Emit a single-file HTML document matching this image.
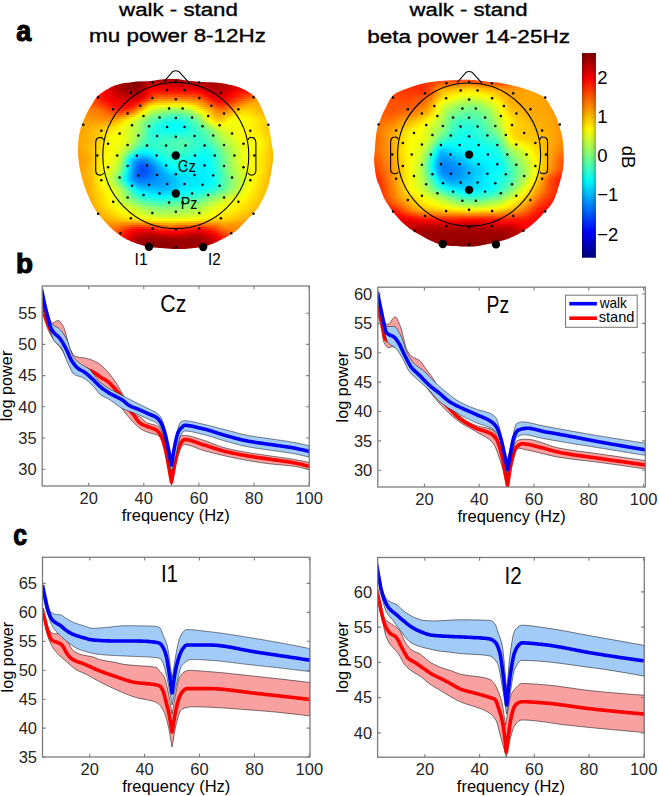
<!DOCTYPE html>
<html><head><meta charset="utf-8"><style>html,body{margin:0;padding:0;background:#fff;}svg{display:block;}</style></head><body>
<svg width="659" height="796" viewBox="0 0 659 796" style="font-family:'Liberation Sans',sans-serif">
<text x="119.14" y="16.00" font-size="18" textLength="118.74" lengthAdjust="spacingAndGlyphs" fill="#000" stroke="#000" stroke-width="0.35">walk - stand</text>
<text x="89.10" y="42.00" font-size="18" textLength="176.74" lengthAdjust="spacingAndGlyphs" fill="#000" stroke="#000" stroke-width="0.35">mu power 8-12Hz</text>
<text x="409.63" y="16.30" font-size="18" textLength="118.05" lengthAdjust="spacingAndGlyphs" fill="#000" stroke="#000" stroke-width="0.35">walk - stand</text>
<text x="367.30" y="43.20" font-size="18" textLength="202.60" lengthAdjust="spacingAndGlyphs" fill="#000" stroke="#000" stroke-width="0.35">beta power 14-25Hz</text>
<text x="16.20" y="40.90" font-size="29" textLength="14.99" lengthAdjust="spacingAndGlyphs" fill="#000" font-weight="bold" stroke="#000" stroke-width="1.1">a</text>
<text x="16.00" y="272.70" font-size="27.5" textLength="16.99" lengthAdjust="spacingAndGlyphs" fill="#000" font-weight="bold" stroke="#000" stroke-width="1.1">b</text>
<text x="13.30" y="545.00" font-size="29" textLength="13.81" lengthAdjust="spacingAndGlyphs" fill="#000" font-weight="bold" stroke="#000" stroke-width="1.1">c</text>
<clipPath id="blobL"><path d="M175.0,79.0C180.0,79.2 185.8,80.5 190.0,81.0C194.2,81.5 195.8,81.8 200.0,82.0C204.2,82.2 210.7,82.1 215.0,82.4C219.3,82.7 221.8,83.1 226.0,84.0C230.2,84.9 236.0,86.2 240.0,87.7C244.0,89.2 247.3,91.3 250.0,93.0C252.7,94.7 254.1,95.4 256.0,98.0C257.9,100.6 259.6,103.7 261.7,108.5C263.8,113.3 266.8,120.6 268.5,126.6C270.2,132.6 271.1,139.7 271.9,144.7C272.7,149.7 273.3,151.9 273.2,156.7C273.1,161.5 272.1,167.8 271.0,173.4C269.9,179.0 268.9,184.4 266.8,190.0C264.7,195.6 261.8,201.8 258.5,206.8C255.2,211.8 250.4,216.2 246.8,220.1C243.2,224.0 240.7,227.1 236.8,230.2C232.9,233.3 228.1,236.0 223.4,238.5C218.7,241.0 214.0,243.5 208.4,245.2C202.8,246.9 195.4,247.9 190.0,248.5C184.6,249.1 180.4,249.1 176.0,249.0C171.6,248.9 168.1,248.6 163.5,248.2C158.9,247.8 152.9,247.6 148.5,246.8C144.1,246.0 140.7,244.9 136.8,243.5C132.9,242.1 129.0,240.7 125.1,238.5C121.2,236.3 117.0,233.3 113.4,230.2C109.8,227.1 106.7,224.0 103.4,220.1C100.1,216.2 96.3,211.8 93.4,206.8C90.5,201.8 88.0,195.6 85.9,190.0C83.8,184.4 82.2,179.0 80.9,173.4C79.6,167.8 78.7,162.3 78.3,156.7C77.9,151.1 78.0,145.1 78.5,140.0C79.0,134.9 80.1,130.5 81.5,126.0C82.9,121.5 84.9,117.2 87.0,113.0C89.1,108.8 91.8,104.2 94.0,101.0C96.2,97.8 97.3,96.2 100.0,94.0C102.7,91.8 106.7,89.4 110.0,87.7C113.3,86.0 116.7,84.9 120.0,84.0C123.3,83.1 126.7,82.8 130.0,82.4C133.3,82.0 136.7,81.8 140.0,81.6C143.3,81.4 146.7,81.5 150.0,81.2C153.3,80.9 155.8,80.2 160.0,79.8C164.2,79.4 170.0,78.8 175.0,79.0Z"/></clipPath><linearGradient id="gL0" gradientUnits="userSpaceOnUse" x1="76.3" x2="275.2" y1="0" y2="0"><stop offset="0" stop-color="#ff3500"/><stop offset="0.106" stop-color="#fc0000"/><stop offset="0.231" stop-color="#930000"/><stop offset="0.302" stop-color="#800000"/><stop offset="0.417" stop-color="#9c0000"/><stop offset="0.598" stop-color="#990000"/><stop offset="0.734" stop-color="#970000"/><stop offset="0.885" stop-color="#ca0000"/><stop offset="0.96" stop-color="#ff0000"/><stop offset="0.995" stop-color="#ff1100"/></linearGradient>
<linearGradient id="gL1" gradientUnits="userSpaceOnUse" x1="76.3" x2="275.2" y1="0" y2="0"><stop offset="0" stop-color="#ff3b00"/><stop offset="0.101" stop-color="#ff0600"/><stop offset="0.121" stop-color="#f70000"/><stop offset="0.226" stop-color="#980000"/><stop offset="0.297" stop-color="#840000"/><stop offset="0.342" stop-color="#920000"/><stop offset="0.402" stop-color="#aa0000"/><stop offset="0.593" stop-color="#a70000"/><stop offset="0.714" stop-color="#9b0000"/><stop offset="0.885" stop-color="#d40000"/><stop offset="0.945" stop-color="#ff0400"/><stop offset="0.995" stop-color="#ff1e00"/></linearGradient>
<linearGradient id="gL2" gradientUnits="userSpaceOnUse" x1="76.3" x2="275.2" y1="0" y2="0"><stop offset="0" stop-color="#ff4100"/><stop offset="0.106" stop-color="#ff0900"/><stop offset="0.126" stop-color="#f90000"/><stop offset="0.226" stop-color="#9a0000"/><stop offset="0.297" stop-color="#870000"/><stop offset="0.332" stop-color="#940000"/><stop offset="0.387" stop-color="#b80000"/><stop offset="0.588" stop-color="#b50000"/><stop offset="0.704" stop-color="#a00000"/><stop offset="0.774" stop-color="#b60000"/><stop offset="0.84" stop-color="#cd0000"/><stop offset="0.885" stop-color="#de0000"/><stop offset="0.925" stop-color="#ff0200"/><stop offset="0.98" stop-color="#ff2600"/><stop offset="0.995" stop-color="#ff2b00"/></linearGradient>
<linearGradient id="gL3" gradientUnits="userSpaceOnUse" x1="76.3" x2="275.2" y1="0" y2="0"><stop offset="0" stop-color="#ff4700"/><stop offset="0.106" stop-color="#ff0f00"/><stop offset="0.131" stop-color="#fb0000"/><stop offset="0.226" stop-color="#9c0000"/><stop offset="0.297" stop-color="#890000"/><stop offset="0.327" stop-color="#970000"/><stop offset="0.377" stop-color="#c70000"/><stop offset="0.427" stop-color="#ca0000"/><stop offset="0.593" stop-color="#c30000"/><stop offset="0.694" stop-color="#a50000"/><stop offset="0.759" stop-color="#b70000"/><stop offset="0.83" stop-color="#d80000"/><stop offset="0.88" stop-color="#e50000"/><stop offset="0.91" stop-color="#ff0100"/><stop offset="0.965" stop-color="#ff2e00"/><stop offset="0.995" stop-color="#ff3900"/></linearGradient>
<linearGradient id="gL4" gradientUnits="userSpaceOnUse" x1="76.3" x2="275.2" y1="0" y2="0"><stop offset="0" stop-color="#ff4d00"/><stop offset="0.101" stop-color="#ff1800"/><stop offset="0.136" stop-color="#fc0000"/><stop offset="0.226" stop-color="#9e0000"/><stop offset="0.297" stop-color="#8b0000"/><stop offset="0.322" stop-color="#970000"/><stop offset="0.372" stop-color="#d80000"/><stop offset="0.402" stop-color="#df0000"/><stop offset="0.598" stop-color="#d20000"/><stop offset="0.684" stop-color="#ab0000"/><stop offset="0.744" stop-color="#b80000"/><stop offset="0.825" stop-color="#e50000"/><stop offset="0.875" stop-color="#ed0000"/><stop offset="0.9" stop-color="#ff0400"/><stop offset="0.95" stop-color="#ff3500"/><stop offset="0.995" stop-color="#ff4600"/></linearGradient>
<linearGradient id="gL5" gradientUnits="userSpaceOnUse" x1="76.3" x2="275.2" y1="0" y2="0"><stop offset="0" stop-color="#ff5300"/><stop offset="0.101" stop-color="#ff1d00"/><stop offset="0.141" stop-color="#fc0000"/><stop offset="0.201" stop-color="#b90000"/><stop offset="0.231" stop-color="#9e0000"/><stop offset="0.297" stop-color="#8f0000"/><stop offset="0.322" stop-color="#9c0000"/><stop offset="0.372" stop-color="#ed0000"/><stop offset="0.402" stop-color="#f20000"/><stop offset="0.598" stop-color="#e50000"/><stop offset="0.649" stop-color="#c60000"/><stop offset="0.684" stop-color="#b00000"/><stop offset="0.739" stop-color="#bd0000"/><stop offset="0.825" stop-color="#f30000"/><stop offset="0.87" stop-color="#f50000"/><stop offset="0.89" stop-color="#ff0700"/><stop offset="0.94" stop-color="#ff3f00"/><stop offset="0.985" stop-color="#ff5300"/><stop offset="0.995" stop-color="#ff5400"/></linearGradient>
<linearGradient id="gL6" gradientUnits="userSpaceOnUse" x1="76.3" x2="275.2" y1="0" y2="0"><stop offset="0" stop-color="#ff5900"/><stop offset="0.0905" stop-color="#ff2800"/><stop offset="0.146" stop-color="#fb0000"/><stop offset="0.226" stop-color="#a60000"/><stop offset="0.292" stop-color="#940000"/><stop offset="0.317" stop-color="#9d0000"/><stop offset="0.342" stop-color="#c70000"/><stop offset="0.372" stop-color="#ff0100"/><stop offset="0.402" stop-color="#ff0700"/><stop offset="0.593" stop-color="#fb0000"/><stop offset="0.633" stop-color="#e50000"/><stop offset="0.679" stop-color="#bb0000"/><stop offset="0.719" stop-color="#bd0000"/><stop offset="0.769" stop-color="#d80000"/><stop offset="0.82" stop-color="#ff0100"/><stop offset="0.875" stop-color="#ff0600"/><stop offset="0.935" stop-color="#ff4e00"/><stop offset="0.98" stop-color="#ff6000"/><stop offset="0.995" stop-color="#ff6100"/></linearGradient>
<linearGradient id="gL7" gradientUnits="userSpaceOnUse" x1="76.3" x2="275.2" y1="0" y2="0"><stop offset="0" stop-color="#ff5f00"/><stop offset="0.0804" stop-color="#ff3300"/><stop offset="0.146" stop-color="#fd0000"/><stop offset="0.226" stop-color="#af0000"/><stop offset="0.292" stop-color="#9d0000"/><stop offset="0.317" stop-color="#a80000"/><stop offset="0.342" stop-color="#d30000"/><stop offset="0.362" stop-color="#fc0000"/><stop offset="0.387" stop-color="#ff1900"/><stop offset="0.583" stop-color="#ff1500"/><stop offset="0.623" stop-color="#ff0500"/><stop offset="0.644" stop-color="#ef0000"/><stop offset="0.679" stop-color="#c90000"/><stop offset="0.714" stop-color="#c20000"/><stop offset="0.759" stop-color="#d90000"/><stop offset="0.804" stop-color="#ff0400"/><stop offset="0.835" stop-color="#ff1200"/><stop offset="0.875" stop-color="#ff1800"/><stop offset="0.93" stop-color="#ff5e00"/><stop offset="0.97" stop-color="#ff6e00"/><stop offset="0.995" stop-color="#ff6e00"/></linearGradient>
<linearGradient id="gL8" gradientUnits="userSpaceOnUse" x1="76.3" x2="275.2" y1="0" y2="0"><stop offset="0" stop-color="#ff6500"/><stop offset="0.0704" stop-color="#ff3f00"/><stop offset="0.146" stop-color="#ff0000"/><stop offset="0.226" stop-color="#bb0000"/><stop offset="0.292" stop-color="#a90000"/><stop offset="0.317" stop-color="#b60000"/><stop offset="0.347" stop-color="#eb0000"/><stop offset="0.357" stop-color="#ff0000"/><stop offset="0.382" stop-color="#ff2500"/><stop offset="0.417" stop-color="#ff3500"/><stop offset="0.598" stop-color="#ff2d00"/><stop offset="0.628" stop-color="#ff1a00"/><stop offset="0.649" stop-color="#ff0100"/><stop offset="0.689" stop-color="#d20000"/><stop offset="0.719" stop-color="#ca0000"/><stop offset="0.754" stop-color="#df0000"/><stop offset="0.789" stop-color="#ff0300"/><stop offset="0.83" stop-color="#ff2000"/><stop offset="0.875" stop-color="#ff3100"/><stop offset="0.925" stop-color="#ff6f00"/><stop offset="0.96" stop-color="#ff7d00"/><stop offset="0.995" stop-color="#ff7a00"/></linearGradient>
<linearGradient id="gL9" gradientUnits="userSpaceOnUse" x1="76.3" x2="275.2" y1="0" y2="0"><stop offset="0" stop-color="#ff6a00"/><stop offset="0.0654" stop-color="#ff4900"/><stop offset="0.151" stop-color="#fc0000"/><stop offset="0.226" stop-color="#c80000"/><stop offset="0.287" stop-color="#b80000"/><stop offset="0.312" stop-color="#c20000"/><stop offset="0.337" stop-color="#e70000"/><stop offset="0.347" stop-color="#fb0000"/><stop offset="0.387" stop-color="#ff3e00"/><stop offset="0.417" stop-color="#ff5200"/><stop offset="0.593" stop-color="#ff4a00"/><stop offset="0.623" stop-color="#ff3c00"/><stop offset="0.669" stop-color="#fc0000"/><stop offset="0.704" stop-color="#d80000"/><stop offset="0.729" stop-color="#d60000"/><stop offset="0.774" stop-color="#ff0100"/><stop offset="0.83" stop-color="#ff3100"/><stop offset="0.88" stop-color="#ff5200"/><stop offset="0.925" stop-color="#ff8500"/><stop offset="0.965" stop-color="#ff8b00"/><stop offset="0.995" stop-color="#ff8500"/></linearGradient>
<linearGradient id="gL10" gradientUnits="userSpaceOnUse" x1="76.3" x2="275.2" y1="0" y2="0"><stop offset="0" stop-color="#ff7000"/><stop offset="0.0654" stop-color="#ff4f00"/><stop offset="0.151" stop-color="#ff0100"/><stop offset="0.216" stop-color="#da0000"/><stop offset="0.266" stop-color="#cb0000"/><stop offset="0.302" stop-color="#ce0000"/><stop offset="0.327" stop-color="#ea0000"/><stop offset="0.337" stop-color="#fd0000"/><stop offset="0.392" stop-color="#ff5e00"/><stop offset="0.422" stop-color="#ff7300"/><stop offset="0.568" stop-color="#ff6b00"/><stop offset="0.618" stop-color="#ff5e00"/><stop offset="0.654" stop-color="#ff2d00"/><stop offset="0.684" stop-color="#ff0000"/><stop offset="0.714" stop-color="#e10000"/><stop offset="0.734" stop-color="#e40000"/><stop offset="0.764" stop-color="#ff0500"/><stop offset="0.82" stop-color="#ff3b00"/><stop offset="0.91" stop-color="#ff8d00"/><stop offset="0.935" stop-color="#ff9b00"/><stop offset="0.995" stop-color="#ff8e00"/></linearGradient>
<linearGradient id="gL11" gradientUnits="userSpaceOnUse" x1="76.3" x2="275.2" y1="0" y2="0"><stop offset="0" stop-color="#ff7600"/><stop offset="0.0654" stop-color="#ff5700"/><stop offset="0.141" stop-color="#ff1000"/><stop offset="0.166" stop-color="#fb0000"/><stop offset="0.246" stop-color="#da0000"/><stop offset="0.297" stop-color="#e10000"/><stop offset="0.322" stop-color="#fb0000"/><stop offset="0.337" stop-color="#ff1b00"/><stop offset="0.387" stop-color="#ff7800"/><stop offset="0.412" stop-color="#ff9100"/><stop offset="0.458" stop-color="#ff9600"/><stop offset="0.558" stop-color="#ff9000"/><stop offset="0.618" stop-color="#ff7b00"/><stop offset="0.659" stop-color="#ff4000"/><stop offset="0.699" stop-color="#ff0300"/><stop offset="0.724" stop-color="#ef0000"/><stop offset="0.749" stop-color="#ff0300"/><stop offset="0.809" stop-color="#ff4600"/><stop offset="0.92" stop-color="#ffa700"/><stop offset="0.96" stop-color="#ffa200"/><stop offset="0.995" stop-color="#ff9700"/></linearGradient>
<linearGradient id="gL12" gradientUnits="userSpaceOnUse" x1="76.3" x2="275.2" y1="0" y2="0"><stop offset="0" stop-color="#ff7c00"/><stop offset="0.0654" stop-color="#ff5f00"/><stop offset="0.171" stop-color="#ff0200"/><stop offset="0.251" stop-color="#e60000"/><stop offset="0.297" stop-color="#f80000"/><stop offset="0.312" stop-color="#ff0a00"/><stop offset="0.337" stop-color="#ff3d00"/><stop offset="0.372" stop-color="#ff8a00"/><stop offset="0.397" stop-color="#ffab00"/><stop offset="0.437" stop-color="#ffbc00"/><stop offset="0.533" stop-color="#ffbc00"/><stop offset="0.608" stop-color="#ff9c00"/><stop offset="0.639" stop-color="#ff7a00"/><stop offset="0.709" stop-color="#ff0f00"/><stop offset="0.729" stop-color="#ff0700"/><stop offset="0.759" stop-color="#ff2200"/><stop offset="0.83" stop-color="#ff6e00"/><stop offset="0.885" stop-color="#ff9d00"/><stop offset="0.93" stop-color="#ffb000"/><stop offset="0.995" stop-color="#ff9d00"/></linearGradient>
<linearGradient id="gL13" gradientUnits="userSpaceOnUse" x1="76.3" x2="275.2" y1="0" y2="0"><stop offset="0" stop-color="#ff8100"/><stop offset="0.0704" stop-color="#ff6500"/><stop offset="0.186" stop-color="#ff0400"/><stop offset="0.251" stop-color="#f20000"/><stop offset="0.282" stop-color="#ff0300"/><stop offset="0.312" stop-color="#ff2a00"/><stop offset="0.342" stop-color="#ff7000"/><stop offset="0.372" stop-color="#ffbb00"/><stop offset="0.402" stop-color="#ffd600"/><stop offset="0.483" stop-color="#ffe900"/><stop offset="0.548" stop-color="#ffe100"/><stop offset="0.598" stop-color="#ffc000"/><stop offset="0.654" stop-color="#ff7e00"/><stop offset="0.709" stop-color="#ff2a00"/><stop offset="0.729" stop-color="#ff2100"/><stop offset="0.759" stop-color="#ff3600"/><stop offset="0.835" stop-color="#ff8b00"/><stop offset="0.88" stop-color="#ffaa00"/><stop offset="0.94" stop-color="#ffb100"/><stop offset="0.995" stop-color="#ffa300"/></linearGradient>
<linearGradient id="gL14" gradientUnits="userSpaceOnUse" x1="76.3" x2="275.2" y1="0" y2="0"><stop offset="0" stop-color="#ff8700"/><stop offset="0.0754" stop-color="#ff6c00"/><stop offset="0.136" stop-color="#ff3e00"/><stop offset="0.196" stop-color="#ff0a00"/><stop offset="0.231" stop-color="#fe0000"/><stop offset="0.266" stop-color="#ff0900"/><stop offset="0.297" stop-color="#ff2f00"/><stop offset="0.327" stop-color="#ff6f00"/><stop offset="0.367" stop-color="#ffdb00"/><stop offset="0.387" stop-color="#fff300"/><stop offset="0.427" stop-color="#faff05"/><stop offset="0.498" stop-color="#e9ff16"/><stop offset="0.558" stop-color="#f9ff06"/><stop offset="0.578" stop-color="#fff500"/><stop offset="0.674" stop-color="#ff7c00"/><stop offset="0.709" stop-color="#ff4600"/><stop offset="0.734" stop-color="#ff3b00"/><stop offset="0.764" stop-color="#ff5200"/><stop offset="0.83" stop-color="#ff9e00"/><stop offset="0.875" stop-color="#ffb600"/><stop offset="0.995" stop-color="#ffa800"/></linearGradient>
<linearGradient id="gL15" gradientUnits="userSpaceOnUse" x1="76.3" x2="275.2" y1="0" y2="0"><stop offset="0" stop-color="#ff8c00"/><stop offset="0.0855" stop-color="#ff7200"/><stop offset="0.131" stop-color="#ff5400"/><stop offset="0.196" stop-color="#ff1800"/><stop offset="0.226" stop-color="#ff0d00"/><stop offset="0.266" stop-color="#ff1e00"/><stop offset="0.292" stop-color="#ff4400"/><stop offset="0.332" stop-color="#ffa200"/><stop offset="0.367" stop-color="#fffb00"/><stop offset="0.397" stop-color="#e4ff1b"/><stop offset="0.483" stop-color="#c1ff3e"/><stop offset="0.538" stop-color="#c8ff37"/><stop offset="0.573" stop-color="#dfff20"/><stop offset="0.598" stop-color="#fffb00"/><stop offset="0.628" stop-color="#ffcb00"/><stop offset="0.674" stop-color="#ff9700"/><stop offset="0.709" stop-color="#ff6000"/><stop offset="0.734" stop-color="#ff5500"/><stop offset="0.764" stop-color="#ff6900"/><stop offset="0.825" stop-color="#ffb100"/><stop offset="0.87" stop-color="#ffc300"/><stop offset="0.94" stop-color="#ffb100"/><stop offset="0.995" stop-color="#ffab00"/></linearGradient>
<linearGradient id="gL16" gradientUnits="userSpaceOnUse" x1="76.3" x2="275.2" y1="0" y2="0"><stop offset="0" stop-color="#ff9000"/><stop offset="0.111" stop-color="#ff7300"/><stop offset="0.196" stop-color="#ff2a00"/><stop offset="0.226" stop-color="#ff2200"/><stop offset="0.266" stop-color="#ff3900"/><stop offset="0.292" stop-color="#ff6600"/><stop offset="0.352" stop-color="#fff800"/><stop offset="0.362" stop-color="#f0ff0f"/><stop offset="0.387" stop-color="#ccff33"/><stop offset="0.478" stop-color="#9bff64"/><stop offset="0.533" stop-color="#a1ff5e"/><stop offset="0.573" stop-color="#bcff43"/><stop offset="0.613" stop-color="#fffd00"/><stop offset="0.633" stop-color="#ffdf00"/><stop offset="0.674" stop-color="#ffb000"/><stop offset="0.704" stop-color="#ff7c00"/><stop offset="0.729" stop-color="#ff6d00"/><stop offset="0.759" stop-color="#ff7d00"/><stop offset="0.825" stop-color="#ffc700"/><stop offset="0.87" stop-color="#ffd000"/><stop offset="0.93" stop-color="#ffb100"/><stop offset="0.995" stop-color="#ffaf00"/></linearGradient>
<linearGradient id="gL17" gradientUnits="userSpaceOnUse" x1="76.3" x2="275.2" y1="0" y2="0"><stop offset="0" stop-color="#ff9400"/><stop offset="0.121" stop-color="#ff7700"/><stop offset="0.191" stop-color="#ff4200"/><stop offset="0.221" stop-color="#ff3c00"/><stop offset="0.261" stop-color="#ff5900"/><stop offset="0.287" stop-color="#ff8100"/><stop offset="0.342" stop-color="#fdff02"/><stop offset="0.372" stop-color="#c2ff3d"/><stop offset="0.402" stop-color="#a5ff5a"/><stop offset="0.478" stop-color="#7aff85"/><stop offset="0.533" stop-color="#80ff7f"/><stop offset="0.573" stop-color="#9dff62"/><stop offset="0.633" stop-color="#fffe00"/><stop offset="0.704" stop-color="#ff8f00"/><stop offset="0.729" stop-color="#ff8200"/><stop offset="0.759" stop-color="#ff9600"/><stop offset="0.82" stop-color="#ffd500"/><stop offset="0.86" stop-color="#ffdd00"/><stop offset="0.9" stop-color="#ffc900"/><stop offset="0.93" stop-color="#ffb700"/><stop offset="0.995" stop-color="#ffb200"/></linearGradient>
<linearGradient id="gL18" gradientUnits="userSpaceOnUse" x1="76.3" x2="275.2" y1="0" y2="0"><stop offset="0" stop-color="#ff9800"/><stop offset="0.121" stop-color="#ff7f00"/><stop offset="0.186" stop-color="#ff5a00"/><stop offset="0.221" stop-color="#ff5d00"/><stop offset="0.261" stop-color="#ff8100"/><stop offset="0.297" stop-color="#ffbe00"/><stop offset="0.327" stop-color="#feff01"/><stop offset="0.367" stop-color="#afff50"/><stop offset="0.402" stop-color="#8aff75"/><stop offset="0.478" stop-color="#5effa1"/><stop offset="0.528" stop-color="#61ff9e"/><stop offset="0.568" stop-color="#7dff82"/><stop offset="0.623" stop-color="#cdff32"/><stop offset="0.649" stop-color="#fffd00"/><stop offset="0.694" stop-color="#ffab00"/><stop offset="0.719" stop-color="#ff9500"/><stop offset="0.744" stop-color="#ff9f00"/><stop offset="0.804" stop-color="#ffdc00"/><stop offset="0.845" stop-color="#ffe900"/><stop offset="0.885" stop-color="#ffdc00"/><stop offset="0.935" stop-color="#ffbe00"/><stop offset="0.995" stop-color="#ffb500"/></linearGradient>
<linearGradient id="gL19" gradientUnits="userSpaceOnUse" x1="76.3" x2="275.2" y1="0" y2="0"><stop offset="0" stop-color="#ff9b00"/><stop offset="0.131" stop-color="#ff8200"/><stop offset="0.181" stop-color="#ff7000"/><stop offset="0.221" stop-color="#ff7f00"/><stop offset="0.261" stop-color="#ffab00"/><stop offset="0.312" stop-color="#fcff03"/><stop offset="0.367" stop-color="#96ff69"/><stop offset="0.407" stop-color="#6eff91"/><stop offset="0.473" stop-color="#46ffb9"/><stop offset="0.523" stop-color="#46ffb9"/><stop offset="0.568" stop-color="#66ff99"/><stop offset="0.618" stop-color="#a7ff58"/><stop offset="0.654" stop-color="#faff05"/><stop offset="0.674" stop-color="#ffd700"/><stop offset="0.704" stop-color="#ffad00"/><stop offset="0.724" stop-color="#ffa500"/><stop offset="0.749" stop-color="#ffba00"/><stop offset="0.784" stop-color="#ffe200"/><stop offset="0.835" stop-color="#fff200"/><stop offset="0.88" stop-color="#ffe700"/><stop offset="0.94" stop-color="#ffc500"/><stop offset="0.995" stop-color="#ffb800"/></linearGradient>
<linearGradient id="gL20" gradientUnits="userSpaceOnUse" x1="76.3" x2="275.2" y1="0" y2="0"><stop offset="0" stop-color="#ff9d00"/><stop offset="0.176" stop-color="#ff8400"/><stop offset="0.216" stop-color="#ff9c00"/><stop offset="0.256" stop-color="#ffca00"/><stop offset="0.292" stop-color="#fffe00"/><stop offset="0.367" stop-color="#82ff7d"/><stop offset="0.412" stop-color="#54ffab"/><stop offset="0.478" stop-color="#2effd1"/><stop offset="0.523" stop-color="#31ffce"/><stop offset="0.568" stop-color="#52ffad"/><stop offset="0.613" stop-color="#8aff75"/><stop offset="0.639" stop-color="#c1ff3e"/><stop offset="0.659" stop-color="#f7ff08"/><stop offset="0.664" stop-color="#fffa00"/><stop offset="0.684" stop-color="#ffd200"/><stop offset="0.714" stop-color="#ffb500"/><stop offset="0.734" stop-color="#ffbc00"/><stop offset="0.779" stop-color="#fff300"/><stop offset="0.84" stop-color="#fffa00"/><stop offset="0.885" stop-color="#ffeb00"/><stop offset="0.95" stop-color="#ffc800"/><stop offset="0.995" stop-color="#ffbb00"/></linearGradient>
<linearGradient id="gL21" gradientUnits="userSpaceOnUse" x1="76.3" x2="275.2" y1="0" y2="0"><stop offset="0" stop-color="#ff9e00"/><stop offset="0.121" stop-color="#ff9500"/><stop offset="0.176" stop-color="#ff9700"/><stop offset="0.216" stop-color="#ffb800"/><stop offset="0.256" stop-color="#ffea00"/><stop offset="0.271" stop-color="#fcff03"/><stop offset="0.312" stop-color="#c5ff3a"/><stop offset="0.377" stop-color="#64ff9b"/><stop offset="0.427" stop-color="#37ffc8"/><stop offset="0.483" stop-color="#1bffe4"/><stop offset="0.528" stop-color="#21ffde"/><stop offset="0.578" stop-color="#4cffb3"/><stop offset="0.613" stop-color="#79ff86"/><stop offset="0.644" stop-color="#bcff43"/><stop offset="0.669" stop-color="#fffe00"/><stop offset="0.694" stop-color="#ffd700"/><stop offset="0.719" stop-color="#ffc600"/><stop offset="0.739" stop-color="#ffd300"/><stop offset="0.774" stop-color="#fdff02"/><stop offset="0.865" stop-color="#fff900"/><stop offset="0.965" stop-color="#ffc800"/><stop offset="0.995" stop-color="#ffbc00"/></linearGradient>
<linearGradient id="gL22" gradientUnits="userSpaceOnUse" x1="76.3" x2="275.2" y1="0" y2="0"><stop offset="0" stop-color="#ff9f00"/><stop offset="0.116" stop-color="#ff9f00"/><stop offset="0.176" stop-color="#ffaa00"/><stop offset="0.221" stop-color="#ffd400"/><stop offset="0.256" stop-color="#fcff03"/><stop offset="0.322" stop-color="#a5ff5a"/><stop offset="0.382" stop-color="#4dffb2"/><stop offset="0.437" stop-color="#22ffdd"/><stop offset="0.488" stop-color="#0dfff2"/><stop offset="0.528" stop-color="#13ffec"/><stop offset="0.583" stop-color="#42ffbd"/><stop offset="0.618" stop-color="#73ff8c"/><stop offset="0.654" stop-color="#c2ff3d"/><stop offset="0.679" stop-color="#faff05"/><stop offset="0.709" stop-color="#ffe100"/><stop offset="0.729" stop-color="#ffde00"/><stop offset="0.764" stop-color="#fdff02"/><stop offset="0.789" stop-color="#f3ff0c"/><stop offset="0.87" stop-color="#fff900"/><stop offset="0.995" stop-color="#ffbd00"/></linearGradient>
<linearGradient id="gL23" gradientUnits="userSpaceOnUse" x1="76.3" x2="275.2" y1="0" y2="0"><stop offset="0" stop-color="#ff9e00"/><stop offset="0.121" stop-color="#ffaa00"/><stop offset="0.181" stop-color="#ffc000"/><stop offset="0.236" stop-color="#fff700"/><stop offset="0.251" stop-color="#f4ff0b"/><stop offset="0.322" stop-color="#9eff61"/><stop offset="0.377" stop-color="#45ffba"/><stop offset="0.422" stop-color="#20ffdf"/><stop offset="0.483" stop-color="#04fffb"/><stop offset="0.528" stop-color="#09fff6"/><stop offset="0.588" stop-color="#3cffc3"/><stop offset="0.623" stop-color="#6dff92"/><stop offset="0.684" stop-color="#e5ff1a"/><stop offset="0.704" stop-color="#ffff00"/><stop offset="0.729" stop-color="#fff400"/><stop offset="0.754" stop-color="#fdff02"/><stop offset="0.784" stop-color="#f0ff0f"/><stop offset="0.865" stop-color="#fffb00"/><stop offset="0.995" stop-color="#ffbc00"/></linearGradient>
<linearGradient id="gL24" gradientUnits="userSpaceOnUse" x1="76.3" x2="275.2" y1="0" y2="0"><stop offset="0" stop-color="#ff9e00"/><stop offset="0.131" stop-color="#ffb800"/><stop offset="0.196" stop-color="#ffdb00"/><stop offset="0.236" stop-color="#fbff04"/><stop offset="0.322" stop-color="#9bff64"/><stop offset="0.372" stop-color="#40ffbf"/><stop offset="0.407" stop-color="#20ffdf"/><stop offset="0.478" stop-color="#00ffff"/><stop offset="0.528" stop-color="#04fffb"/><stop offset="0.593" stop-color="#38ffc7"/><stop offset="0.639" stop-color="#76ff89"/><stop offset="0.699" stop-color="#deff21"/><stop offset="0.724" stop-color="#f4ff0b"/><stop offset="0.794" stop-color="#f1ff0e"/><stop offset="0.86" stop-color="#fffb00"/><stop offset="0.96" stop-color="#ffcd00"/><stop offset="0.995" stop-color="#ffbc00"/></linearGradient>
<linearGradient id="gL25" gradientUnits="userSpaceOnUse" x1="76.3" x2="275.2" y1="0" y2="0"><stop offset="0" stop-color="#ff9d00"/><stop offset="0.101" stop-color="#ffb700"/><stop offset="0.196" stop-color="#ffe700"/><stop offset="0.226" stop-color="#feff01"/><stop offset="0.317" stop-color="#a2ff5d"/><stop offset="0.372" stop-color="#36ffc9"/><stop offset="0.407" stop-color="#1bffe4"/><stop offset="0.483" stop-color="#00feff"/><stop offset="0.533" stop-color="#05fffa"/><stop offset="0.603" stop-color="#3affc5"/><stop offset="0.664" stop-color="#89ff76"/><stop offset="0.709" stop-color="#d2ff2d"/><stop offset="0.739" stop-color="#e8ff17"/><stop offset="0.85" stop-color="#fffc00"/><stop offset="0.92" stop-color="#ffe300"/><stop offset="0.995" stop-color="#ffbb00"/></linearGradient>
<linearGradient id="gL26" gradientUnits="userSpaceOnUse" x1="76.3" x2="275.2" y1="0" y2="0"><stop offset="0" stop-color="#ff9d00"/><stop offset="0.0553" stop-color="#ffac00"/><stop offset="0.146" stop-color="#ffd400"/><stop offset="0.221" stop-color="#fdff02"/><stop offset="0.317" stop-color="#a2ff5d"/><stop offset="0.367" stop-color="#37ffc8"/><stop offset="0.392" stop-color="#1fffe0"/><stop offset="0.488" stop-color="#04fffb"/><stop offset="0.533" stop-color="#0afff5"/><stop offset="0.608" stop-color="#39ffc6"/><stop offset="0.674" stop-color="#82ff7d"/><stop offset="0.714" stop-color="#c4ff3b"/><stop offset="0.754" stop-color="#e3ff1c"/><stop offset="0.835" stop-color="#fffd00"/><stop offset="0.915" stop-color="#ffe700"/><stop offset="0.995" stop-color="#ffbb00"/></linearGradient>
<linearGradient id="gL27" gradientUnits="userSpaceOnUse" x1="76.3" x2="275.2" y1="0" y2="0"><stop offset="0" stop-color="#ff9e00"/><stop offset="0.0704" stop-color="#ffb400"/><stop offset="0.141" stop-color="#ffd800"/><stop offset="0.211" stop-color="#ffff00"/><stop offset="0.292" stop-color="#baff45"/><stop offset="0.322" stop-color="#94ff6b"/><stop offset="0.367" stop-color="#35ffca"/><stop offset="0.392" stop-color="#1effe1"/><stop offset="0.493" stop-color="#0efff1"/><stop offset="0.553" stop-color="#1cffe3"/><stop offset="0.623" stop-color="#3fffc0"/><stop offset="0.674" stop-color="#74ff8b"/><stop offset="0.719" stop-color="#bcff43"/><stop offset="0.764" stop-color="#e2ff1d"/><stop offset="0.835" stop-color="#fffd00"/><stop offset="0.915" stop-color="#ffea00"/><stop offset="0.995" stop-color="#ffbb00"/></linearGradient>
<linearGradient id="gL28" gradientUnits="userSpaceOnUse" x1="76.3" x2="275.2" y1="0" y2="0"><stop offset="0" stop-color="#ffa000"/><stop offset="0.0955" stop-color="#ffbf00"/><stop offset="0.186" stop-color="#fffa00"/><stop offset="0.221" stop-color="#f6ff09"/><stop offset="0.282" stop-color="#c3ff3c"/><stop offset="0.322" stop-color="#8dff72"/><stop offset="0.367" stop-color="#35ffca"/><stop offset="0.392" stop-color="#20ffdf"/><stop offset="0.498" stop-color="#1dffe2"/><stop offset="0.613" stop-color="#35ffca"/><stop offset="0.659" stop-color="#58ffa7"/><stop offset="0.729" stop-color="#bdff42"/><stop offset="0.789" stop-color="#ebff14"/><stop offset="0.84" stop-color="#fffd00"/><stop offset="0.92" stop-color="#ffec00"/><stop offset="0.995" stop-color="#ffbc00"/></linearGradient>
<linearGradient id="gL29" gradientUnits="userSpaceOnUse" x1="76.3" x2="275.2" y1="0" y2="0"><stop offset="0" stop-color="#ffa100"/><stop offset="0.0905" stop-color="#ffbc00"/><stop offset="0.146" stop-color="#ffe600"/><stop offset="0.186" stop-color="#ffff00"/><stop offset="0.241" stop-color="#e9ff16"/><stop offset="0.287" stop-color="#bcff43"/><stop offset="0.332" stop-color="#72ff8d"/><stop offset="0.367" stop-color="#35ffca"/><stop offset="0.392" stop-color="#24ffdb"/><stop offset="0.498" stop-color="#2dffd2"/><stop offset="0.578" stop-color="#31ffce"/><stop offset="0.628" stop-color="#39ffc6"/><stop offset="0.669" stop-color="#5fffa0"/><stop offset="0.734" stop-color="#baff45"/><stop offset="0.809" stop-color="#f4ff0b"/><stop offset="0.85" stop-color="#fffd00"/><stop offset="0.92" stop-color="#fff000"/><stop offset="0.995" stop-color="#ffbd00"/></linearGradient>
<linearGradient id="gL30" gradientUnits="userSpaceOnUse" x1="76.3" x2="275.2" y1="0" y2="0"><stop offset="0" stop-color="#ffa300"/><stop offset="0.0855" stop-color="#ffba00"/><stop offset="0.131" stop-color="#ffd900"/><stop offset="0.171" stop-color="#fffe00"/><stop offset="0.236" stop-color="#edff12"/><stop offset="0.277" stop-color="#c7ff38"/><stop offset="0.362" stop-color="#3affc5"/><stop offset="0.387" stop-color="#29ffd6"/><stop offset="0.493" stop-color="#3affc5"/><stop offset="0.533" stop-color="#41ffbe"/><stop offset="0.618" stop-color="#33ffcc"/><stop offset="0.654" stop-color="#49ffb6"/><stop offset="0.739" stop-color="#b7ff48"/><stop offset="0.82" stop-color="#f6ff09"/><stop offset="0.875" stop-color="#fffe00"/><stop offset="0.93" stop-color="#ffef00"/><stop offset="0.995" stop-color="#ffbe00"/></linearGradient>
<linearGradient id="gL31" gradientUnits="userSpaceOnUse" x1="76.3" x2="275.2" y1="0" y2="0"><stop offset="0" stop-color="#ffa400"/><stop offset="0.0855" stop-color="#ffba00"/><stop offset="0.131" stop-color="#ffdb00"/><stop offset="0.171" stop-color="#fdff02"/><stop offset="0.236" stop-color="#edff12"/><stop offset="0.271" stop-color="#cbff34"/><stop offset="0.347" stop-color="#4bffb4"/><stop offset="0.377" stop-color="#2effd1"/><stop offset="0.432" stop-color="#34ffcb"/><stop offset="0.528" stop-color="#4effb1"/><stop offset="0.618" stop-color="#31ffce"/><stop offset="0.654" stop-color="#43ffbc"/><stop offset="0.744" stop-color="#b4ff4b"/><stop offset="0.825" stop-color="#f5ff0a"/><stop offset="0.9" stop-color="#fffd00"/><stop offset="0.94" stop-color="#ffeb00"/><stop offset="0.995" stop-color="#ffbe00"/></linearGradient>
<linearGradient id="gL32" gradientUnits="userSpaceOnUse" x1="76.3" x2="275.2" y1="0" y2="0"><stop offset="0" stop-color="#ffa300"/><stop offset="0.0855" stop-color="#ffbc00"/><stop offset="0.136" stop-color="#ffe300"/><stop offset="0.171" stop-color="#fdff02"/><stop offset="0.236" stop-color="#ebff14"/><stop offset="0.266" stop-color="#cdff32"/><stop offset="0.337" stop-color="#52ffad"/><stop offset="0.367" stop-color="#34ffcb"/><stop offset="0.407" stop-color="#33ffcc"/><stop offset="0.528" stop-color="#53ffac"/><stop offset="0.618" stop-color="#30ffcf"/><stop offset="0.654" stop-color="#3cffc3"/><stop offset="0.704" stop-color="#78ff87"/><stop offset="0.749" stop-color="#b0ff4f"/><stop offset="0.825" stop-color="#f1ff0e"/><stop offset="0.885" stop-color="#feff01"/><stop offset="0.93" stop-color="#fff400"/><stop offset="0.995" stop-color="#ffbd00"/></linearGradient>
<linearGradient id="gL33" gradientUnits="userSpaceOnUse" x1="76.3" x2="275.2" y1="0" y2="0"><stop offset="0" stop-color="#ffa200"/><stop offset="0.0855" stop-color="#ffbf00"/><stop offset="0.171" stop-color="#feff01"/><stop offset="0.236" stop-color="#e7ff18"/><stop offset="0.266" stop-color="#c6ff39"/><stop offset="0.327" stop-color="#54ffab"/><stop offset="0.357" stop-color="#37ffc8"/><stop offset="0.397" stop-color="#33ffcc"/><stop offset="0.523" stop-color="#54ffab"/><stop offset="0.623" stop-color="#2dffd2"/><stop offset="0.659" stop-color="#37ffc8"/><stop offset="0.699" stop-color="#66ff99"/><stop offset="0.744" stop-color="#a1ff5e"/><stop offset="0.83" stop-color="#efff10"/><stop offset="0.89" stop-color="#feff01"/><stop offset="0.93" stop-color="#fff400"/><stop offset="0.995" stop-color="#ffbb00"/></linearGradient>
<linearGradient id="gL34" gradientUnits="userSpaceOnUse" x1="76.3" x2="275.2" y1="0" y2="0"><stop offset="0" stop-color="#ffa100"/><stop offset="0.0804" stop-color="#ffbf00"/><stop offset="0.171" stop-color="#feff01"/><stop offset="0.231" stop-color="#e5ff1a"/><stop offset="0.261" stop-color="#c4ff3b"/><stop offset="0.297" stop-color="#7bff84"/><stop offset="0.322" stop-color="#4affb5"/><stop offset="0.347" stop-color="#33ffcc"/><stop offset="0.402" stop-color="#34ffcb"/><stop offset="0.518" stop-color="#51ffae"/><stop offset="0.578" stop-color="#3affc5"/><stop offset="0.639" stop-color="#27ffd8"/><stop offset="0.669" stop-color="#33ffcc"/><stop offset="0.709" stop-color="#6aff95"/><stop offset="0.754" stop-color="#a2ff5d"/><stop offset="0.83" stop-color="#ecff13"/><stop offset="0.88" stop-color="#fdff02"/><stop offset="0.925" stop-color="#fff700"/><stop offset="0.995" stop-color="#ffb900"/></linearGradient>
<linearGradient id="gL35" gradientUnits="userSpaceOnUse" x1="76.3" x2="275.2" y1="0" y2="0"><stop offset="0" stop-color="#ff9f00"/><stop offset="0.0704" stop-color="#ffbc00"/><stop offset="0.166" stop-color="#fffe00"/><stop offset="0.221" stop-color="#e6ff19"/><stop offset="0.256" stop-color="#bfff40"/><stop offset="0.282" stop-color="#8cff73"/><stop offset="0.312" stop-color="#45ffba"/><stop offset="0.332" stop-color="#2bffd4"/><stop offset="0.362" stop-color="#27ffd8"/><stop offset="0.518" stop-color="#4cffb3"/><stop offset="0.588" stop-color="#30ffcf"/><stop offset="0.654" stop-color="#20ffdf"/><stop offset="0.679" stop-color="#31ffce"/><stop offset="0.739" stop-color="#8aff75"/><stop offset="0.83" stop-color="#e9ff16"/><stop offset="0.875" stop-color="#fdff02"/><stop offset="0.925" stop-color="#fff600"/><stop offset="0.995" stop-color="#ffb600"/></linearGradient>
<linearGradient id="gL36" gradientUnits="userSpaceOnUse" x1="76.3" x2="275.2" y1="0" y2="0"><stop offset="0" stop-color="#ff9c00"/><stop offset="0.0654" stop-color="#ffb900"/><stop offset="0.161" stop-color="#fffc00"/><stop offset="0.211" stop-color="#e9ff16"/><stop offset="0.246" stop-color="#beff41"/><stop offset="0.271" stop-color="#8fff70"/><stop offset="0.307" stop-color="#35ffca"/><stop offset="0.327" stop-color="#18ffe7"/><stop offset="0.352" stop-color="#14ffeb"/><stop offset="0.463" stop-color="#3effc1"/><stop offset="0.523" stop-color="#45ffba"/><stop offset="0.649" stop-color="#17ffe8"/><stop offset="0.674" stop-color="#20ffdf"/><stop offset="0.739" stop-color="#82ff7d"/><stop offset="0.83" stop-color="#e7ff18"/><stop offset="0.875" stop-color="#feff01"/><stop offset="0.925" stop-color="#fff500"/><stop offset="0.995" stop-color="#ffb500"/></linearGradient>
<linearGradient id="gL37" gradientUnits="userSpaceOnUse" x1="76.3" x2="275.2" y1="0" y2="0"><stop offset="0" stop-color="#ff9a00"/><stop offset="0.0603" stop-color="#ffb500"/><stop offset="0.146" stop-color="#fff700"/><stop offset="0.181" stop-color="#f9ff06"/><stop offset="0.216" stop-color="#deff21"/><stop offset="0.246" stop-color="#abff54"/><stop offset="0.282" stop-color="#54ffab"/><stop offset="0.307" stop-color="#17ffe8"/><stop offset="0.322" stop-color="#01fffe"/><stop offset="0.347" stop-color="#00fbff"/><stop offset="0.377" stop-color="#0ffff0"/><stop offset="0.452" stop-color="#36ffc9"/><stop offset="0.518" stop-color="#3effc1"/><stop offset="0.649" stop-color="#0ffff0"/><stop offset="0.674" stop-color="#19ffe6"/><stop offset="0.749" stop-color="#87ff78"/><stop offset="0.83" stop-color="#e6ff19"/><stop offset="0.875" stop-color="#feff01"/><stop offset="0.925" stop-color="#fff300"/><stop offset="0.995" stop-color="#ffb400"/></linearGradient>
<linearGradient id="gL38" gradientUnits="userSpaceOnUse" x1="76.3" x2="275.2" y1="0" y2="0"><stop offset="0" stop-color="#ff9800"/><stop offset="0.0603" stop-color="#ffb200"/><stop offset="0.141" stop-color="#fff600"/><stop offset="0.176" stop-color="#f9ff06"/><stop offset="0.206" stop-color="#e6ff19"/><stop offset="0.231" stop-color="#bbff44"/><stop offset="0.297" stop-color="#0afff5"/><stop offset="0.302" stop-color="#00ffff"/><stop offset="0.322" stop-color="#00e2ff"/><stop offset="0.342" stop-color="#00deff"/><stop offset="0.387" stop-color="#03fffc"/><stop offset="0.442" stop-color="#2cffd3"/><stop offset="0.508" stop-color="#38ffc7"/><stop offset="0.573" stop-color="#21ffde"/><stop offset="0.644" stop-color="#09fff6"/><stop offset="0.674" stop-color="#15ffea"/><stop offset="0.774" stop-color="#a3ff5c"/><stop offset="0.83" stop-color="#e6ff19"/><stop offset="0.875" stop-color="#feff01"/><stop offset="0.93" stop-color="#ffed00"/><stop offset="0.995" stop-color="#ffb300"/></linearGradient>
<linearGradient id="gL39" gradientUnits="userSpaceOnUse" x1="76.3" x2="275.2" y1="0" y2="0"><stop offset="0" stop-color="#ff9600"/><stop offset="0.0603" stop-color="#ffaf00"/><stop offset="0.136" stop-color="#fff500"/><stop offset="0.166" stop-color="#fbff04"/><stop offset="0.201" stop-color="#e8ff17"/><stop offset="0.221" stop-color="#c8ff37"/><stop offset="0.246" stop-color="#7eff81"/><stop offset="0.277" stop-color="#18ffe7"/><stop offset="0.287" stop-color="#00fcff"/><stop offset="0.312" stop-color="#00cdff"/><stop offset="0.332" stop-color="#00c0ff"/><stop offset="0.362" stop-color="#00d1ff"/><stop offset="0.402" stop-color="#00ffff"/><stop offset="0.442" stop-color="#23ffdc"/><stop offset="0.498" stop-color="#31ffce"/><stop offset="0.558" stop-color="#20ffdf"/><stop offset="0.633" stop-color="#03fffc"/><stop offset="0.669" stop-color="#0dfff2"/><stop offset="0.704" stop-color="#39ffc6"/><stop offset="0.809" stop-color="#d1ff2e"/><stop offset="0.85" stop-color="#f4ff0b"/><stop offset="0.89" stop-color="#fffc00"/><stop offset="0.94" stop-color="#ffe400"/><stop offset="0.995" stop-color="#ffb300"/></linearGradient>
<linearGradient id="gL40" gradientUnits="userSpaceOnUse" x1="76.3" x2="275.2" y1="0" y2="0"><stop offset="0" stop-color="#ff9400"/><stop offset="0.0603" stop-color="#ffad00"/><stop offset="0.131" stop-color="#fff400"/><stop offset="0.161" stop-color="#faff05"/><stop offset="0.201" stop-color="#e5ff1a"/><stop offset="0.221" stop-color="#c2ff3d"/><stop offset="0.241" stop-color="#7dff82"/><stop offset="0.271" stop-color="#04fffb"/><stop offset="0.302" stop-color="#00bcff"/><stop offset="0.322" stop-color="#00a5ff"/><stop offset="0.347" stop-color="#00a9ff"/><stop offset="0.382" stop-color="#00d0ff"/><stop offset="0.417" stop-color="#02fffd"/><stop offset="0.458" stop-color="#21ffde"/><stop offset="0.508" stop-color="#29ffd6"/><stop offset="0.623" stop-color="#00fcff"/><stop offset="0.659" stop-color="#03fffc"/><stop offset="0.694" stop-color="#27ffd8"/><stop offset="0.814" stop-color="#d8ff27"/><stop offset="0.855" stop-color="#f7ff08"/><stop offset="0.9" stop-color="#fff800"/><stop offset="0.95" stop-color="#ffdb00"/><stop offset="0.995" stop-color="#ffb300"/></linearGradient>
<linearGradient id="gL41" gradientUnits="userSpaceOnUse" x1="76.3" x2="275.2" y1="0" y2="0"><stop offset="0" stop-color="#ff9300"/><stop offset="0.0603" stop-color="#ffab00"/><stop offset="0.131" stop-color="#fff600"/><stop offset="0.156" stop-color="#faff05"/><stop offset="0.201" stop-color="#e1ff1e"/><stop offset="0.216" stop-color="#c8ff37"/><stop offset="0.231" stop-color="#98ff67"/><stop offset="0.261" stop-color="#12ffed"/><stop offset="0.266" stop-color="#00fbff"/><stop offset="0.282" stop-color="#00caff"/><stop offset="0.307" stop-color="#0099ff"/><stop offset="0.327" stop-color="#0089ff"/><stop offset="0.352" stop-color="#0094ff"/><stop offset="0.387" stop-color="#00c2ff"/><stop offset="0.427" stop-color="#00feff"/><stop offset="0.473" stop-color="#1fffe0"/><stop offset="0.523" stop-color="#1effe1"/><stop offset="0.603" stop-color="#00fcff"/><stop offset="0.639" stop-color="#00f7ff"/><stop offset="0.664" stop-color="#04fffb"/><stop offset="0.704" stop-color="#32ffcd"/><stop offset="0.814" stop-color="#d7ff28"/><stop offset="0.855" stop-color="#f7ff08"/><stop offset="0.895" stop-color="#fff900"/><stop offset="0.95" stop-color="#ffda00"/><stop offset="0.995" stop-color="#ffb200"/></linearGradient>
<linearGradient id="gL42" gradientUnits="userSpaceOnUse" x1="76.3" x2="275.2" y1="0" y2="0"><stop offset="0" stop-color="#ff9300"/><stop offset="0.0603" stop-color="#ffac00"/><stop offset="0.136" stop-color="#fff900"/><stop offset="0.166" stop-color="#f4ff0b"/><stop offset="0.201" stop-color="#dbff24"/><stop offset="0.216" stop-color="#bfff40"/><stop offset="0.231" stop-color="#8dff72"/><stop offset="0.261" stop-color="#04fffb"/><stop offset="0.282" stop-color="#00b9ff"/><stop offset="0.307" stop-color="#0085ff"/><stop offset="0.327" stop-color="#0074ff"/><stop offset="0.352" stop-color="#007eff"/><stop offset="0.387" stop-color="#00aeff"/><stop offset="0.432" stop-color="#00f4ff"/><stop offset="0.447" stop-color="#05fffa"/><stop offset="0.483" stop-color="#19ffe6"/><stop offset="0.543" stop-color="#11ffee"/><stop offset="0.593" stop-color="#00fbff"/><stop offset="0.633" stop-color="#00f3ff"/><stop offset="0.669" stop-color="#05fffa"/><stop offset="0.709" stop-color="#37ffc8"/><stop offset="0.804" stop-color="#c8ff37"/><stop offset="0.845" stop-color="#f0ff0f"/><stop offset="0.885" stop-color="#fffb00"/><stop offset="0.94" stop-color="#ffe100"/><stop offset="0.995" stop-color="#ffb100"/></linearGradient>
<linearGradient id="gL43" gradientUnits="userSpaceOnUse" x1="76.3" x2="275.2" y1="0" y2="0"><stop offset="0" stop-color="#ff9400"/><stop offset="0.0553" stop-color="#ffab00"/><stop offset="0.141" stop-color="#fffd00"/><stop offset="0.196" stop-color="#dbff24"/><stop offset="0.216" stop-color="#b6ff49"/><stop offset="0.231" stop-color="#84ff7b"/><stop offset="0.261" stop-color="#00fcff"/><stop offset="0.282" stop-color="#00b0ff"/><stop offset="0.302" stop-color="#007fff"/><stop offset="0.322" stop-color="#0066ff"/><stop offset="0.347" stop-color="#0069ff"/><stop offset="0.377" stop-color="#008cff"/><stop offset="0.437" stop-color="#00ebff"/><stop offset="0.458" stop-color="#02fffd"/><stop offset="0.493" stop-color="#12ffed"/><stop offset="0.583" stop-color="#00fcff"/><stop offset="0.633" stop-color="#00f1ff"/><stop offset="0.669" stop-color="#04fffb"/><stop offset="0.714" stop-color="#3bffc4"/><stop offset="0.799" stop-color="#bfff40"/><stop offset="0.845" stop-color="#eeff11"/><stop offset="0.88" stop-color="#fffd00"/><stop offset="0.94" stop-color="#ffe000"/><stop offset="0.995" stop-color="#ffb000"/></linearGradient>
<linearGradient id="gL44" gradientUnits="userSpaceOnUse" x1="76.3" x2="275.2" y1="0" y2="0"><stop offset="0" stop-color="#ff9600"/><stop offset="0.0553" stop-color="#ffad00"/><stop offset="0.141" stop-color="#fffe00"/><stop offset="0.196" stop-color="#d4ff2b"/><stop offset="0.216" stop-color="#aeff51"/><stop offset="0.236" stop-color="#67ff98"/><stop offset="0.256" stop-color="#0ffff0"/><stop offset="0.261" stop-color="#00f8ff"/><stop offset="0.287" stop-color="#009cff"/><stop offset="0.307" stop-color="#006dff"/><stop offset="0.327" stop-color="#0058ff"/><stop offset="0.352" stop-color="#0060ff"/><stop offset="0.387" stop-color="#008dff"/><stop offset="0.452" stop-color="#00f0ff"/><stop offset="0.473" stop-color="#03fffc"/><stop offset="0.513" stop-color="#08fff7"/><stop offset="0.578" stop-color="#00faff"/><stop offset="0.633" stop-color="#00efff"/><stop offset="0.669" stop-color="#02fffd"/><stop offset="0.709" stop-color="#31ffce"/><stop offset="0.789" stop-color="#afff50"/><stop offset="0.85" stop-color="#efff10"/><stop offset="0.88" stop-color="#fffc00"/><stop offset="0.935" stop-color="#ffe400"/><stop offset="0.995" stop-color="#ffae00"/></linearGradient>
<linearGradient id="gL45" gradientUnits="userSpaceOnUse" x1="76.3" x2="275.2" y1="0" y2="0"><stop offset="0" stop-color="#ff9800"/><stop offset="0.0553" stop-color="#ffaf00"/><stop offset="0.141" stop-color="#feff01"/><stop offset="0.196" stop-color="#cdff32"/><stop offset="0.216" stop-color="#a6ff59"/><stop offset="0.236" stop-color="#60ff9f"/><stop offset="0.256" stop-color="#0bfff4"/><stop offset="0.261" stop-color="#00f5ff"/><stop offset="0.287" stop-color="#0098ff"/><stop offset="0.307" stop-color="#0066ff"/><stop offset="0.327" stop-color="#0051ff"/><stop offset="0.352" stop-color="#0057ff"/><stop offset="0.392" stop-color="#0089ff"/><stop offset="0.463" stop-color="#00f0ff"/><stop offset="0.493" stop-color="#00ffff"/><stop offset="0.588" stop-color="#00f5ff"/><stop offset="0.639" stop-color="#00efff"/><stop offset="0.674" stop-color="#04fffb"/><stop offset="0.719" stop-color="#3dffc2"/><stop offset="0.784" stop-color="#a6ff59"/><stop offset="0.86" stop-color="#f6ff09"/><stop offset="0.885" stop-color="#fffa00"/><stop offset="0.935" stop-color="#ffe400"/><stop offset="0.995" stop-color="#ffab00"/></linearGradient>
<linearGradient id="gL46" gradientUnits="userSpaceOnUse" x1="76.3" x2="275.2" y1="0" y2="0"><stop offset="0" stop-color="#ff9a00"/><stop offset="0.0553" stop-color="#ffb100"/><stop offset="0.141" stop-color="#fbff04"/><stop offset="0.196" stop-color="#c3ff3c"/><stop offset="0.216" stop-color="#9dff62"/><stop offset="0.236" stop-color="#56ffa9"/><stop offset="0.256" stop-color="#04fffb"/><stop offset="0.292" stop-color="#0086ff"/><stop offset="0.312" stop-color="#005bff"/><stop offset="0.332" stop-color="#004cff"/><stop offset="0.362" stop-color="#005bff"/><stop offset="0.432" stop-color="#00baff"/><stop offset="0.473" stop-color="#00eeff"/><stop offset="0.528" stop-color="#00f6ff"/><stop offset="0.593" stop-color="#00f1ff"/><stop offset="0.644" stop-color="#00f0ff"/><stop offset="0.674" stop-color="#02fffd"/><stop offset="0.714" stop-color="#32ffcd"/><stop offset="0.784" stop-color="#a2ff5d"/><stop offset="0.87" stop-color="#fcff03"/><stop offset="0.93" stop-color="#ffe800"/><stop offset="0.995" stop-color="#ffa900"/></linearGradient>
<linearGradient id="gL47" gradientUnits="userSpaceOnUse" x1="76.3" x2="275.2" y1="0" y2="0"><stop offset="0" stop-color="#ff9d00"/><stop offset="0.0553" stop-color="#ffb100"/><stop offset="0.121" stop-color="#fff000"/><stop offset="0.141" stop-color="#f8ff07"/><stop offset="0.196" stop-color="#b9ff46"/><stop offset="0.216" stop-color="#8eff71"/><stop offset="0.236" stop-color="#4affb5"/><stop offset="0.251" stop-color="#0efff1"/><stop offset="0.256" stop-color="#00faff"/><stop offset="0.287" stop-color="#0091ff"/><stop offset="0.307" stop-color="#0063ff"/><stop offset="0.327" stop-color="#004eff"/><stop offset="0.352" stop-color="#0053ff"/><stop offset="0.402" stop-color="#0088ff"/><stop offset="0.473" stop-color="#00e0ff"/><stop offset="0.523" stop-color="#00efff"/><stop offset="0.598" stop-color="#00eeff"/><stop offset="0.649" stop-color="#00f0ff"/><stop offset="0.679" stop-color="#04fffb"/><stop offset="0.719" stop-color="#36ffc9"/><stop offset="0.784" stop-color="#9eff61"/><stop offset="0.87" stop-color="#f9ff06"/><stop offset="0.895" stop-color="#fff900"/><stop offset="0.935" stop-color="#ffe200"/><stop offset="0.995" stop-color="#ffa700"/></linearGradient>
<linearGradient id="gL48" gradientUnits="userSpaceOnUse" x1="76.3" x2="275.2" y1="0" y2="0"><stop offset="0" stop-color="#ff9f00"/><stop offset="0.0603" stop-color="#ffb300"/><stop offset="0.111" stop-color="#ffe700"/><stop offset="0.131" stop-color="#ffff00"/><stop offset="0.186" stop-color="#beff41"/><stop offset="0.211" stop-color="#8dff72"/><stop offset="0.236" stop-color="#3dffc2"/><stop offset="0.251" stop-color="#03fffc"/><stop offset="0.282" stop-color="#009bff"/><stop offset="0.302" stop-color="#006dff"/><stop offset="0.322" stop-color="#0056ff"/><stop offset="0.347" stop-color="#0055ff"/><stop offset="0.402" stop-color="#0085ff"/><stop offset="0.478" stop-color="#00d6ff"/><stop offset="0.538" stop-color="#00ebff"/><stop offset="0.654" stop-color="#00f0ff"/><stop offset="0.684" stop-color="#06fff9"/><stop offset="0.729" stop-color="#43ffbc"/><stop offset="0.789" stop-color="#a0ff5f"/><stop offset="0.87" stop-color="#f6ff09"/><stop offset="0.895" stop-color="#fff900"/><stop offset="0.94" stop-color="#ffdb00"/><stop offset="0.995" stop-color="#ffa500"/></linearGradient>
<linearGradient id="gL49" gradientUnits="userSpaceOnUse" x1="76.3" x2="275.2" y1="0" y2="0"><stop offset="0" stop-color="#ffa100"/><stop offset="0.0654" stop-color="#ffb500"/><stop offset="0.121" stop-color="#fff600"/><stop offset="0.136" stop-color="#f7ff08"/><stop offset="0.186" stop-color="#b7ff48"/><stop offset="0.211" stop-color="#81ff7e"/><stop offset="0.241" stop-color="#20ffdf"/><stop offset="0.251" stop-color="#00f9ff"/><stop offset="0.277" stop-color="#00a5ff"/><stop offset="0.302" stop-color="#0071ff"/><stop offset="0.327" stop-color="#005cff"/><stop offset="0.357" stop-color="#0063ff"/><stop offset="0.447" stop-color="#00afff"/><stop offset="0.508" stop-color="#00dcff"/><stop offset="0.578" stop-color="#00e9ff"/><stop offset="0.659" stop-color="#00f1ff"/><stop offset="0.684" stop-color="#03fffc"/><stop offset="0.729" stop-color="#40ffbf"/><stop offset="0.794" stop-color="#a2ff5d"/><stop offset="0.87" stop-color="#f3ff0c"/><stop offset="0.895" stop-color="#fffa00"/><stop offset="0.945" stop-color="#ffd300"/><stop offset="0.995" stop-color="#ffa400"/></linearGradient>
<linearGradient id="gL50" gradientUnits="userSpaceOnUse" x1="76.3" x2="275.2" y1="0" y2="0"><stop offset="0" stop-color="#ffa300"/><stop offset="0.0654" stop-color="#ffb200"/><stop offset="0.106" stop-color="#ffe300"/><stop offset="0.126" stop-color="#fffe00"/><stop offset="0.181" stop-color="#bcff43"/><stop offset="0.206" stop-color="#88ff77"/><stop offset="0.241" stop-color="#1bffe4"/><stop offset="0.246" stop-color="#09fff6"/><stop offset="0.251" stop-color="#00f6ff"/><stop offset="0.271" stop-color="#00b2ff"/><stop offset="0.292" stop-color="#0087ff"/><stop offset="0.317" stop-color="#006cff"/><stop offset="0.347" stop-color="#0069ff"/><stop offset="0.452" stop-color="#00abff"/><stop offset="0.523" stop-color="#00ddff"/><stop offset="0.669" stop-color="#00f4ff"/><stop offset="0.689" stop-color="#06fff9"/><stop offset="0.744" stop-color="#55ffaa"/><stop offset="0.804" stop-color="#abff54"/><stop offset="0.875" stop-color="#f6ff09"/><stop offset="0.895" stop-color="#fffa00"/><stop offset="0.95" stop-color="#ffcc00"/><stop offset="0.995" stop-color="#ffa200"/></linearGradient>
<linearGradient id="gL51" gradientUnits="userSpaceOnUse" x1="76.3" x2="275.2" y1="0" y2="0"><stop offset="0" stop-color="#ffa400"/><stop offset="0.0654" stop-color="#ffb000"/><stop offset="0.101" stop-color="#ffdb00"/><stop offset="0.126" stop-color="#fffe00"/><stop offset="0.176" stop-color="#c4ff3b"/><stop offset="0.201" stop-color="#95ff6a"/><stop offset="0.241" stop-color="#1fffe0"/><stop offset="0.251" stop-color="#00fbff"/><stop offset="0.271" stop-color="#00b8ff"/><stop offset="0.297" stop-color="#008cff"/><stop offset="0.327" stop-color="#0075ff"/><stop offset="0.367" stop-color="#0080ff"/><stop offset="0.463" stop-color="#00acff"/><stop offset="0.528" stop-color="#00dcff"/><stop offset="0.669" stop-color="#00f4ff"/><stop offset="0.689" stop-color="#05fffa"/><stop offset="0.744" stop-color="#53ffac"/><stop offset="0.809" stop-color="#b0ff4f"/><stop offset="0.88" stop-color="#faff05"/><stop offset="0.925" stop-color="#ffe100"/><stop offset="0.995" stop-color="#ffa200"/></linearGradient>
<linearGradient id="gL52" gradientUnits="userSpaceOnUse" x1="76.3" x2="275.2" y1="0" y2="0"><stop offset="0" stop-color="#ffa400"/><stop offset="0.0654" stop-color="#ffb000"/><stop offset="0.101" stop-color="#ffda00"/><stop offset="0.131" stop-color="#fdff02"/><stop offset="0.181" stop-color="#c2ff3d"/><stop offset="0.206" stop-color="#91ff6e"/><stop offset="0.241" stop-color="#2cffd3"/><stop offset="0.256" stop-color="#00f9ff"/><stop offset="0.277" stop-color="#00c0ff"/><stop offset="0.302" stop-color="#0097ff"/><stop offset="0.332" stop-color="#0085ff"/><stop offset="0.452" stop-color="#00a4ff"/><stop offset="0.528" stop-color="#00daff"/><stop offset="0.674" stop-color="#00f9ff"/><stop offset="0.694" stop-color="#0cfff3"/><stop offset="0.764" stop-color="#72ff8d"/><stop offset="0.85" stop-color="#deff21"/><stop offset="0.885" stop-color="#fffd00"/><stop offset="0.995" stop-color="#ffa100"/></linearGradient>
<linearGradient id="gL53" gradientUnits="userSpaceOnUse" x1="76.3" x2="275.2" y1="0" y2="0"><stop offset="0" stop-color="#ffa300"/><stop offset="0.0654" stop-color="#ffb100"/><stop offset="0.106" stop-color="#ffde00"/><stop offset="0.136" stop-color="#fdff02"/><stop offset="0.186" stop-color="#c3ff3c"/><stop offset="0.216" stop-color="#87ff78"/><stop offset="0.261" stop-color="#04fffb"/><stop offset="0.292" stop-color="#00bcff"/><stop offset="0.317" stop-color="#009dff"/><stop offset="0.347" stop-color="#0096ff"/><stop offset="0.452" stop-color="#00a5ff"/><stop offset="0.533" stop-color="#00ddff"/><stop offset="0.679" stop-color="#03fffc"/><stop offset="0.724" stop-color="#36ffc9"/><stop offset="0.814" stop-color="#b6ff49"/><stop offset="0.88" stop-color="#fffe00"/><stop offset="0.995" stop-color="#ffa100"/></linearGradient>
<linearGradient id="gL54" gradientUnits="userSpaceOnUse" x1="76.3" x2="275.2" y1="0" y2="0"><stop offset="0" stop-color="#ffa100"/><stop offset="0.0654" stop-color="#ffb100"/><stop offset="0.141" stop-color="#feff01"/><stop offset="0.186" stop-color="#cfff30"/><stop offset="0.216" stop-color="#9bff64"/><stop offset="0.271" stop-color="#07fff8"/><stop offset="0.282" stop-color="#00edff"/><stop offset="0.307" stop-color="#00bdff"/><stop offset="0.332" stop-color="#00a9ff"/><stop offset="0.402" stop-color="#00a8ff"/><stop offset="0.452" stop-color="#00aaff"/><stop offset="0.498" stop-color="#00caff"/><stop offset="0.538" stop-color="#00e2ff"/><stop offset="0.669" stop-color="#04fffb"/><stop offset="0.709" stop-color="#28ffd7"/><stop offset="0.825" stop-color="#c5ff3a"/><stop offset="0.875" stop-color="#ffff00"/><stop offset="0.995" stop-color="#ffa100"/></linearGradient>
<linearGradient id="gL55" gradientUnits="userSpaceOnUse" x1="76.3" x2="275.2" y1="0" y2="0"><stop offset="0" stop-color="#ffa000"/><stop offset="0.0654" stop-color="#ffb100"/><stop offset="0.146" stop-color="#fffe00"/><stop offset="0.191" stop-color="#d5ff2a"/><stop offset="0.221" stop-color="#a5ff5a"/><stop offset="0.287" stop-color="#00feff"/><stop offset="0.312" stop-color="#00cdff"/><stop offset="0.337" stop-color="#00bbff"/><stop offset="0.392" stop-color="#00b8ff"/><stop offset="0.442" stop-color="#00b0ff"/><stop offset="0.483" stop-color="#00c4ff"/><stop offset="0.528" stop-color="#00e6ff"/><stop offset="0.618" stop-color="#00fdff"/><stop offset="0.674" stop-color="#11ffee"/><stop offset="0.724" stop-color="#44ffbb"/><stop offset="0.814" stop-color="#bdff42"/><stop offset="0.87" stop-color="#ffff00"/><stop offset="0.945" stop-color="#ffc500"/><stop offset="0.995" stop-color="#ffa100"/></linearGradient>
<linearGradient id="gL56" gradientUnits="userSpaceOnUse" x1="76.3" x2="275.2" y1="0" y2="0"><stop offset="0" stop-color="#ff9e00"/><stop offset="0.0654" stop-color="#ffb000"/><stop offset="0.151" stop-color="#fffc00"/><stop offset="0.186" stop-color="#e4ff1b"/><stop offset="0.221" stop-color="#b7ff48"/><stop offset="0.297" stop-color="#02fffd"/><stop offset="0.322" stop-color="#00d8ff"/><stop offset="0.352" stop-color="#00cfff"/><stop offset="0.387" stop-color="#00c9ff"/><stop offset="0.432" stop-color="#00bbff"/><stop offset="0.478" stop-color="#00caff"/><stop offset="0.528" stop-color="#00efff"/><stop offset="0.603" stop-color="#03fffc"/><stop offset="0.679" stop-color="#23ffdc"/><stop offset="0.729" stop-color="#58ffa7"/><stop offset="0.814" stop-color="#c4ff3b"/><stop offset="0.865" stop-color="#ffff00"/><stop offset="0.935" stop-color="#ffc900"/><stop offset="0.995" stop-color="#ffa100"/></linearGradient>
<linearGradient id="gL57" gradientUnits="userSpaceOnUse" x1="76.3" x2="275.2" y1="0" y2="0"><stop offset="0" stop-color="#ff9c00"/><stop offset="0.0654" stop-color="#ffaf00"/><stop offset="0.161" stop-color="#ffff00"/><stop offset="0.216" stop-color="#c8ff37"/><stop offset="0.266" stop-color="#61ff9e"/><stop offset="0.307" stop-color="#05fffa"/><stop offset="0.322" stop-color="#00efff"/><stop offset="0.352" stop-color="#00e2ff"/><stop offset="0.402" stop-color="#00d2ff"/><stop offset="0.442" stop-color="#00ccff"/><stop offset="0.488" stop-color="#00e1ff"/><stop offset="0.538" stop-color="#00feff"/><stop offset="0.603" stop-color="#11ffee"/><stop offset="0.679" stop-color="#37ffc8"/><stop offset="0.734" stop-color="#71ff8e"/><stop offset="0.809" stop-color="#c9ff36"/><stop offset="0.865" stop-color="#fffb00"/><stop offset="0.935" stop-color="#ffc700"/><stop offset="0.995" stop-color="#ffa100"/></linearGradient>
<linearGradient id="gL58" gradientUnits="userSpaceOnUse" x1="76.3" x2="275.2" y1="0" y2="0"><stop offset="0" stop-color="#ff9a00"/><stop offset="0.0654" stop-color="#ffad00"/><stop offset="0.166" stop-color="#fdff02"/><stop offset="0.216" stop-color="#ccff33"/><stop offset="0.261" stop-color="#7bff84"/><stop offset="0.307" stop-color="#1cffe3"/><stop offset="0.332" stop-color="#00feff"/><stop offset="0.427" stop-color="#00ddff"/><stop offset="0.478" stop-color="#00edff"/><stop offset="0.513" stop-color="#03fffc"/><stop offset="0.628" stop-color="#2dffd2"/><stop offset="0.694" stop-color="#5cffa3"/><stop offset="0.794" stop-color="#c8ff37"/><stop offset="0.86" stop-color="#fffb00"/><stop offset="0.935" stop-color="#ffc500"/><stop offset="0.995" stop-color="#ff9f00"/></linearGradient>
<linearGradient id="gL59" gradientUnits="userSpaceOnUse" x1="76.3" x2="275.2" y1="0" y2="0"><stop offset="0" stop-color="#ff9800"/><stop offset="0.0654" stop-color="#ffab00"/><stop offset="0.166" stop-color="#feff01"/><stop offset="0.221" stop-color="#c7ff38"/><stop offset="0.266" stop-color="#7dff82"/><stop offset="0.312" stop-color="#2bffd4"/><stop offset="0.342" stop-color="#11ffee"/><stop offset="0.392" stop-color="#00fcff"/><stop offset="0.432" stop-color="#00f2ff"/><stop offset="0.478" stop-color="#04fffb"/><stop offset="0.628" stop-color="#3fffc0"/><stop offset="0.719" stop-color="#8eff71"/><stop offset="0.784" stop-color="#d1ff2e"/><stop offset="0.85" stop-color="#fffe00"/><stop offset="0.94" stop-color="#ffc100"/><stop offset="0.995" stop-color="#ff9e00"/></linearGradient>
<linearGradient id="gL60" gradientUnits="userSpaceOnUse" x1="76.3" x2="275.2" y1="0" y2="0"><stop offset="0" stop-color="#ff9600"/><stop offset="0.0704" stop-color="#ffab00"/><stop offset="0.166" stop-color="#ffff00"/><stop offset="0.231" stop-color="#bdff42"/><stop offset="0.287" stop-color="#69ff96"/><stop offset="0.322" stop-color="#36ffc9"/><stop offset="0.392" stop-color="#11ffee"/><stop offset="0.432" stop-color="#09fff6"/><stop offset="0.623" stop-color="#4fffb0"/><stop offset="0.779" stop-color="#dfff20"/><stop offset="0.845" stop-color="#fffb00"/><stop offset="0.995" stop-color="#ff9c00"/></linearGradient>
<linearGradient id="gL61" gradientUnits="userSpaceOnUse" x1="76.3" x2="275.2" y1="0" y2="0"><stop offset="0" stop-color="#ff9400"/><stop offset="0.0704" stop-color="#ffa900"/><stop offset="0.156" stop-color="#fff200"/><stop offset="0.176" stop-color="#f8ff07"/><stop offset="0.256" stop-color="#a6ff59"/><stop offset="0.322" stop-color="#4dffb2"/><stop offset="0.412" stop-color="#20ffdf"/><stop offset="0.447" stop-color="#26ffd9"/><stop offset="0.503" stop-color="#38ffc7"/><stop offset="0.623" stop-color="#63ff9c"/><stop offset="0.774" stop-color="#ebff14"/><stop offset="0.835" stop-color="#fffa00"/><stop offset="0.995" stop-color="#ff9900"/></linearGradient>
<linearGradient id="gL62" gradientUnits="userSpaceOnUse" x1="76.3" x2="275.2" y1="0" y2="0"><stop offset="0" stop-color="#ff9300"/><stop offset="0.0704" stop-color="#ffa800"/><stop offset="0.156" stop-color="#ffee00"/><stop offset="0.181" stop-color="#f9ff06"/><stop offset="0.271" stop-color="#a2ff5d"/><stop offset="0.327" stop-color="#62ff9d"/><stop offset="0.417" stop-color="#37ffc8"/><stop offset="0.503" stop-color="#4effb1"/><stop offset="0.608" stop-color="#6fff90"/><stop offset="0.654" stop-color="#94ff6b"/><stop offset="0.744" stop-color="#e1ff1e"/><stop offset="0.789" stop-color="#faff05"/><stop offset="0.83" stop-color="#fff600"/><stop offset="0.995" stop-color="#ff9600"/></linearGradient>
<linearGradient id="gL63" gradientUnits="userSpaceOnUse" x1="76.3" x2="275.2" y1="0" y2="0"><stop offset="0" stop-color="#ff9100"/><stop offset="0.0704" stop-color="#ffa700"/><stop offset="0.166" stop-color="#fff000"/><stop offset="0.186" stop-color="#fcff03"/><stop offset="0.282" stop-color="#aaff55"/><stop offset="0.332" stop-color="#78ff87"/><stop offset="0.417" stop-color="#51ffae"/><stop offset="0.508" stop-color="#64ff9b"/><stop offset="0.608" stop-color="#82ff7d"/><stop offset="0.659" stop-color="#acff53"/><stop offset="0.734" stop-color="#e7ff18"/><stop offset="0.789" stop-color="#fffd00"/><stop offset="0.865" stop-color="#ffdd00"/><stop offset="0.995" stop-color="#ff9300"/></linearGradient>
<linearGradient id="gL64" gradientUnits="userSpaceOnUse" x1="76.3" x2="275.2" y1="0" y2="0"><stop offset="0" stop-color="#ff9000"/><stop offset="0.0754" stop-color="#ffa900"/><stop offset="0.186" stop-color="#fff900"/><stop offset="0.216" stop-color="#ecff13"/><stop offset="0.282" stop-color="#beff41"/><stop offset="0.342" stop-color="#89ff76"/><stop offset="0.417" stop-color="#69ff96"/><stop offset="0.513" stop-color="#79ff86"/><stop offset="0.608" stop-color="#94ff6b"/><stop offset="0.669" stop-color="#c5ff3a"/><stop offset="0.734" stop-color="#f2ff0d"/><stop offset="0.784" stop-color="#fffa00"/><stop offset="0.86" stop-color="#ffdb00"/><stop offset="0.995" stop-color="#ff9000"/></linearGradient>
<linearGradient id="gL65" gradientUnits="userSpaceOnUse" x1="76.3" x2="275.2" y1="0" y2="0"><stop offset="0" stop-color="#ff8e00"/><stop offset="0.0754" stop-color="#ffa700"/><stop offset="0.181" stop-color="#ffec00"/><stop offset="0.206" stop-color="#fdff02"/><stop offset="0.282" stop-color="#d1ff2e"/><stop offset="0.342" stop-color="#9eff61"/><stop offset="0.417" stop-color="#80ff7f"/><stop offset="0.508" stop-color="#8bff74"/><stop offset="0.593" stop-color="#9dff62"/><stop offset="0.654" stop-color="#c5ff3a"/><stop offset="0.714" stop-color="#f2ff0d"/><stop offset="0.769" stop-color="#fffb00"/><stop offset="0.855" stop-color="#ffd800"/><stop offset="0.96" stop-color="#ff9e00"/><stop offset="0.995" stop-color="#ff8c00"/></linearGradient>
<linearGradient id="gL66" gradientUnits="userSpaceOnUse" x1="76.3" x2="275.2" y1="0" y2="0"><stop offset="0" stop-color="#ff8d00"/><stop offset="0.0804" stop-color="#ffa800"/><stop offset="0.181" stop-color="#ffe300"/><stop offset="0.221" stop-color="#fdff02"/><stop offset="0.277" stop-color="#e5ff1a"/><stop offset="0.342" stop-color="#b0ff4f"/><stop offset="0.417" stop-color="#93ff6c"/><stop offset="0.493" stop-color="#9bff64"/><stop offset="0.563" stop-color="#a3ff5c"/><stop offset="0.618" stop-color="#b8ff47"/><stop offset="0.714" stop-color="#faff05"/><stop offset="0.794" stop-color="#ffee00"/><stop offset="0.88" stop-color="#ffc100"/><stop offset="0.995" stop-color="#ff8800"/></linearGradient>
<linearGradient id="gL67" gradientUnits="userSpaceOnUse" x1="76.3" x2="275.2" y1="0" y2="0"><stop offset="0" stop-color="#ff8b00"/><stop offset="0.0855" stop-color="#ffa800"/><stop offset="0.181" stop-color="#ffda00"/><stop offset="0.236" stop-color="#fffe00"/><stop offset="0.282" stop-color="#ebff14"/><stop offset="0.352" stop-color="#bbff44"/><stop offset="0.417" stop-color="#a3ff5c"/><stop offset="0.503" stop-color="#a9ff56"/><stop offset="0.583" stop-color="#b5ff4a"/><stop offset="0.644" stop-color="#d1ff2e"/><stop offset="0.709" stop-color="#ffff00"/><stop offset="0.804" stop-color="#ffe300"/><stop offset="0.95" stop-color="#ff9800"/><stop offset="0.995" stop-color="#ff8400"/></linearGradient>
<linearGradient id="gL68" gradientUnits="userSpaceOnUse" x1="76.3" x2="275.2" y1="0" y2="0"><stop offset="0" stop-color="#ff8900"/><stop offset="0.101" stop-color="#ffab00"/><stop offset="0.186" stop-color="#ffd600"/><stop offset="0.236" stop-color="#fff500"/><stop offset="0.271" stop-color="#fcff03"/><stop offset="0.352" stop-color="#c9ff36"/><stop offset="0.422" stop-color="#b2ff4d"/><stop offset="0.508" stop-color="#b7ff48"/><stop offset="0.608" stop-color="#c9ff36"/><stop offset="0.679" stop-color="#f5ff0a"/><stop offset="0.704" stop-color="#fffa00"/><stop offset="0.799" stop-color="#ffdd00"/><stop offset="0.96" stop-color="#ff8f00"/><stop offset="0.995" stop-color="#ff8000"/></linearGradient>
<linearGradient id="gL69" gradientUnits="userSpaceOnUse" x1="76.3" x2="275.2" y1="0" y2="0"><stop offset="0" stop-color="#ff8800"/><stop offset="0.126" stop-color="#ffb000"/><stop offset="0.191" stop-color="#ffd000"/><stop offset="0.236" stop-color="#ffea00"/><stop offset="0.292" stop-color="#fcff03"/><stop offset="0.352" stop-color="#daff25"/><stop offset="0.427" stop-color="#c5ff3a"/><stop offset="0.508" stop-color="#c8ff37"/><stop offset="0.623" stop-color="#ddff22"/><stop offset="0.684" stop-color="#fffa00"/><stop offset="0.734" stop-color="#ffea00"/><stop offset="0.799" stop-color="#ffd200"/><stop offset="0.995" stop-color="#ff7c00"/></linearGradient>
<linearGradient id="gL70" gradientUnits="userSpaceOnUse" x1="76.3" x2="275.2" y1="0" y2="0"><stop offset="0" stop-color="#ff8500"/><stop offset="0.176" stop-color="#ffba00"/><stop offset="0.231" stop-color="#ffda00"/><stop offset="0.307" stop-color="#fff800"/><stop offset="0.327" stop-color="#faff05"/><stop offset="0.392" stop-color="#e5ff1a"/><stop offset="0.432" stop-color="#deff21"/><stop offset="0.513" stop-color="#deff21"/><stop offset="0.628" stop-color="#f4ff0b"/><stop offset="0.654" stop-color="#fffa00"/><stop offset="0.709" stop-color="#ffe000"/><stop offset="0.774" stop-color="#ffd300"/><stop offset="0.995" stop-color="#ff7800"/></linearGradient>
<linearGradient id="gL71" gradientUnits="userSpaceOnUse" x1="76.3" x2="275.2" y1="0" y2="0"><stop offset="0" stop-color="#ff8300"/><stop offset="0.191" stop-color="#ffb500"/><stop offset="0.226" stop-color="#ffc600"/><stop offset="0.297" stop-color="#ffd400"/><stop offset="0.332" stop-color="#ffe400"/><stop offset="0.382" stop-color="#fff700"/><stop offset="0.437" stop-color="#fffd00"/><stop offset="0.533" stop-color="#fffb00"/><stop offset="0.613" stop-color="#ffec00"/><stop offset="0.684" stop-color="#ffd100"/><stop offset="0.709" stop-color="#ffcb00"/><stop offset="0.749" stop-color="#ffcd00"/><stop offset="0.995" stop-color="#ff7400"/></linearGradient>
<linearGradient id="gL72" gradientUnits="userSpaceOnUse" x1="76.3" x2="275.2" y1="0" y2="0"><stop offset="0" stop-color="#ff8100"/><stop offset="0.161" stop-color="#ff9e00"/><stop offset="0.226" stop-color="#ffac00"/><stop offset="0.297" stop-color="#ffac00"/><stop offset="0.362" stop-color="#ffc400"/><stop offset="0.478" stop-color="#ffd800"/><stop offset="0.583" stop-color="#ffc600"/><stop offset="0.649" stop-color="#ffb600"/><stop offset="0.704" stop-color="#ffad00"/><stop offset="0.744" stop-color="#ffbc00"/><stop offset="0.804" stop-color="#ffa900"/><stop offset="0.885" stop-color="#ff9600"/><stop offset="0.995" stop-color="#ff6f00"/></linearGradient>
<linearGradient id="gL73" gradientUnits="userSpaceOnUse" x1="76.3" x2="275.2" y1="0" y2="0"><stop offset="0" stop-color="#ff7e00"/><stop offset="0.151" stop-color="#ff9300"/><stop offset="0.201" stop-color="#ff9400"/><stop offset="0.236" stop-color="#ff8a00"/><stop offset="0.322" stop-color="#ff7d00"/><stop offset="0.392" stop-color="#ff9600"/><stop offset="0.432" stop-color="#ff9e00"/><stop offset="0.473" stop-color="#ffac00"/><stop offset="0.528" stop-color="#ff9800"/><stop offset="0.573" stop-color="#ff9900"/><stop offset="0.623" stop-color="#ff8000"/><stop offset="0.674" stop-color="#ff8b00"/><stop offset="0.699" stop-color="#ff8800"/><stop offset="0.739" stop-color="#ffa800"/><stop offset="0.769" stop-color="#ffa100"/><stop offset="0.794" stop-color="#ff9b00"/><stop offset="0.84" stop-color="#ff9e00"/><stop offset="0.995" stop-color="#ff6b00"/></linearGradient>
<linearGradient id="gL74" gradientUnits="userSpaceOnUse" x1="76.3" x2="275.2" y1="0" y2="0"><stop offset="0" stop-color="#ff7b00"/><stop offset="0.141" stop-color="#ff8b00"/><stop offset="0.216" stop-color="#ff7c00"/><stop offset="0.256" stop-color="#ff5f00"/><stop offset="0.322" stop-color="#ff4700"/><stop offset="0.407" stop-color="#ff6400"/><stop offset="0.427" stop-color="#ff6900"/><stop offset="0.463" stop-color="#ff7e00"/><stop offset="0.498" stop-color="#ff7500"/><stop offset="0.523" stop-color="#ff6400"/><stop offset="0.563" stop-color="#ff6a00"/><stop offset="0.623" stop-color="#ff4700"/><stop offset="0.669" stop-color="#ff6300"/><stop offset="0.699" stop-color="#ff6600"/><stop offset="0.734" stop-color="#ff9000"/><stop offset="0.764" stop-color="#ff9500"/><stop offset="0.789" stop-color="#ff8d00"/><stop offset="0.83" stop-color="#ff9900"/><stop offset="0.995" stop-color="#ff6700"/></linearGradient>
<linearGradient id="gL75" gradientUnits="userSpaceOnUse" x1="76.3" x2="275.2" y1="0" y2="0"><stop offset="0" stop-color="#ff7800"/><stop offset="0.141" stop-color="#ff8200"/><stop offset="0.206" stop-color="#ff7100"/><stop offset="0.266" stop-color="#ff3700"/><stop offset="0.327" stop-color="#ff1c00"/><stop offset="0.387" stop-color="#ff3000"/><stop offset="0.463" stop-color="#ff5200"/><stop offset="0.503" stop-color="#ff4900"/><stop offset="0.538" stop-color="#ff3e00"/><stop offset="0.583" stop-color="#ff3100"/><stop offset="0.623" stop-color="#ff1c00"/><stop offset="0.674" stop-color="#ff4000"/><stop offset="0.699" stop-color="#ff4b00"/><stop offset="0.734" stop-color="#ff7c00"/><stop offset="0.769" stop-color="#ff8900"/><stop offset="0.799" stop-color="#ff8e00"/><stop offset="0.84" stop-color="#ff9100"/><stop offset="0.995" stop-color="#ff6200"/></linearGradient>
<linearGradient id="gL76" gradientUnits="userSpaceOnUse" x1="76.3" x2="275.2" y1="0" y2="0"><stop offset="0" stop-color="#ff7500"/><stop offset="0.136" stop-color="#ff7a00"/><stop offset="0.196" stop-color="#ff6d00"/><stop offset="0.271" stop-color="#ff1500"/><stop offset="0.312" stop-color="#fc0000"/><stop offset="0.367" stop-color="#f70000"/><stop offset="0.387" stop-color="#ff0500"/><stop offset="0.427" stop-color="#ff2200"/><stop offset="0.488" stop-color="#ff2800"/><stop offset="0.588" stop-color="#ff0500"/><stop offset="0.623" stop-color="#f90000"/><stop offset="0.639" stop-color="#ff0400"/><stop offset="0.699" stop-color="#ff3400"/><stop offset="0.729" stop-color="#ff6200"/><stop offset="0.779" stop-color="#ff8200"/><stop offset="0.825" stop-color="#ff8c00"/><stop offset="0.995" stop-color="#ff5e00"/></linearGradient>
<linearGradient id="gL77" gradientUnits="userSpaceOnUse" x1="76.3" x2="275.2" y1="0" y2="0"><stop offset="0" stop-color="#ff7100"/><stop offset="0.136" stop-color="#ff7300"/><stop offset="0.196" stop-color="#ff6000"/><stop offset="0.271" stop-color="#ff0000"/><stop offset="0.332" stop-color="#dc0000"/><stop offset="0.372" stop-color="#d70000"/><stop offset="0.432" stop-color="#fe0000"/><stop offset="0.508" stop-color="#ff0200"/><stop offset="0.563" stop-color="#ec0000"/><stop offset="0.618" stop-color="#dc0000"/><stop offset="0.659" stop-color="#f80000"/><stop offset="0.679" stop-color="#ff0800"/><stop offset="0.704" stop-color="#ff2400"/><stop offset="0.734" stop-color="#ff5000"/><stop offset="0.794" stop-color="#ff7d00"/><stop offset="0.835" stop-color="#ff8200"/><stop offset="0.995" stop-color="#ff5900"/></linearGradient>
<linearGradient id="gL78" gradientUnits="userSpaceOnUse" x1="76.3" x2="275.2" y1="0" y2="0"><stop offset="0" stop-color="#ff6e00"/><stop offset="0.136" stop-color="#ff6b00"/><stop offset="0.191" stop-color="#ff5700"/><stop offset="0.241" stop-color="#ff1700"/><stop offset="0.261" stop-color="#fb0000"/><stop offset="0.302" stop-color="#d80000"/><stop offset="0.362" stop-color="#bd0000"/><stop offset="0.402" stop-color="#cd0000"/><stop offset="0.458" stop-color="#e20000"/><stop offset="0.528" stop-color="#dd0000"/><stop offset="0.598" stop-color="#c40000"/><stop offset="0.633" stop-color="#cc0000"/><stop offset="0.694" stop-color="#fe0000"/><stop offset="0.739" stop-color="#ff3e00"/><stop offset="0.804" stop-color="#ff7400"/><stop offset="0.86" stop-color="#ff7600"/><stop offset="0.995" stop-color="#ff5500"/></linearGradient>
<linearGradient id="gL79" gradientUnits="userSpaceOnUse" x1="76.3" x2="275.2" y1="0" y2="0"><stop offset="0" stop-color="#ff6a00"/><stop offset="0.131" stop-color="#ff6400"/><stop offset="0.186" stop-color="#ff4f00"/><stop offset="0.231" stop-color="#ff1a00"/><stop offset="0.251" stop-color="#fe0000"/><stop offset="0.297" stop-color="#cc0000"/><stop offset="0.362" stop-color="#ab0000"/><stop offset="0.483" stop-color="#c80000"/><stop offset="0.548" stop-color="#bc0000"/><stop offset="0.598" stop-color="#b00000"/><stop offset="0.644" stop-color="#c10000"/><stop offset="0.699" stop-color="#f20000"/><stop offset="0.709" stop-color="#ff0200"/><stop offset="0.744" stop-color="#ff2f00"/><stop offset="0.804" stop-color="#ff6500"/><stop offset="0.855" stop-color="#ff6d00"/><stop offset="0.995" stop-color="#ff5000"/></linearGradient>
<linearGradient id="gL80" gradientUnits="userSpaceOnUse" x1="76.3" x2="275.2" y1="0" y2="0"><stop offset="0" stop-color="#ff6700"/><stop offset="0.126" stop-color="#ff5e00"/><stop offset="0.186" stop-color="#ff4300"/><stop offset="0.246" stop-color="#fd0000"/><stop offset="0.302" stop-color="#bb0000"/><stop offset="0.352" stop-color="#a00000"/><stop offset="0.417" stop-color="#a40000"/><stop offset="0.503" stop-color="#b30000"/><stop offset="0.588" stop-color="#a10000"/><stop offset="0.644" stop-color="#b40000"/><stop offset="0.694" stop-color="#de0000"/><stop offset="0.719" stop-color="#ff0200"/><stop offset="0.804" stop-color="#ff5700"/><stop offset="0.85" stop-color="#ff6400"/><stop offset="0.995" stop-color="#ff4b00"/></linearGradient>
<linearGradient id="gL81" gradientUnits="userSpaceOnUse" x1="76.3" x2="275.2" y1="0" y2="0"><stop offset="0" stop-color="#ff6300"/><stop offset="0.126" stop-color="#ff5600"/><stop offset="0.186" stop-color="#ff3900"/><stop offset="0.241" stop-color="#fc0000"/><stop offset="0.312" stop-color="#a70000"/><stop offset="0.352" stop-color="#990000"/><stop offset="0.437" stop-color="#9b0000"/><stop offset="0.513" stop-color="#a20000"/><stop offset="0.588" stop-color="#980000"/><stop offset="0.649" stop-color="#ae0000"/><stop offset="0.694" stop-color="#d30000"/><stop offset="0.729" stop-color="#ff0100"/><stop offset="0.809" stop-color="#ff4c00"/><stop offset="0.86" stop-color="#ff5a00"/><stop offset="0.995" stop-color="#ff4600"/></linearGradient>
<linearGradient id="gL82" gradientUnits="userSpaceOnUse" x1="76.3" x2="275.2" y1="0" y2="0"><stop offset="0" stop-color="#ff5f00"/><stop offset="0.121" stop-color="#ff5000"/><stop offset="0.181" stop-color="#ff3400"/><stop offset="0.236" stop-color="#fb0000"/><stop offset="0.312" stop-color="#a20000"/><stop offset="0.347" stop-color="#970000"/><stop offset="0.437" stop-color="#910000"/><stop offset="0.518" stop-color="#9b0000"/><stop offset="0.593" stop-color="#960000"/><stop offset="0.659" stop-color="#ad0000"/><stop offset="0.704" stop-color="#d60000"/><stop offset="0.739" stop-color="#fe0000"/><stop offset="0.814" stop-color="#ff4200"/><stop offset="0.87" stop-color="#ff5100"/><stop offset="0.995" stop-color="#ff4100"/></linearGradient>
<linearGradient id="gL83" gradientUnits="userSpaceOnUse" x1="76.3" x2="275.2" y1="0" y2="0"><stop offset="0" stop-color="#ff5b00"/><stop offset="0.121" stop-color="#ff4900"/><stop offset="0.186" stop-color="#ff2700"/><stop offset="0.226" stop-color="#ff0000"/><stop offset="0.312" stop-color="#a00000"/><stop offset="0.347" stop-color="#980000"/><stop offset="0.392" stop-color="#930000"/><stop offset="0.437" stop-color="#8d0000"/><stop offset="0.528" stop-color="#9a0000"/><stop offset="0.613" stop-color="#9a0000"/><stop offset="0.674" stop-color="#b30000"/><stop offset="0.754" stop-color="#ff0300"/><stop offset="0.82" stop-color="#ff3900"/><stop offset="0.88" stop-color="#ff4800"/><stop offset="0.995" stop-color="#ff3c00"/></linearGradient>
<linearGradient id="gL84" gradientUnits="userSpaceOnUse" x1="76.3" x2="275.2" y1="0" y2="0"><stop offset="0" stop-color="#ff5700"/><stop offset="0.121" stop-color="#ff4200"/><stop offset="0.186" stop-color="#ff1f00"/><stop offset="0.221" stop-color="#fe0000"/><stop offset="0.307" stop-color="#a40000"/><stop offset="0.342" stop-color="#9b0000"/><stop offset="0.382" stop-color="#9a0000"/><stop offset="0.427" stop-color="#8b0000"/><stop offset="0.538" stop-color="#9c0000"/><stop offset="0.633" stop-color="#a00000"/><stop offset="0.684" stop-color="#b80000"/><stop offset="0.764" stop-color="#ff0300"/><stop offset="0.83" stop-color="#ff3300"/><stop offset="0.9" stop-color="#ff4100"/><stop offset="0.995" stop-color="#ff3700"/></linearGradient>
<linearGradient id="gL85" gradientUnits="userSpaceOnUse" x1="76.3" x2="275.2" y1="0" y2="0"><stop offset="0" stop-color="#ff5300"/><stop offset="0.116" stop-color="#ff3e00"/><stop offset="0.186" stop-color="#ff1800"/><stop offset="0.216" stop-color="#fc0000"/><stop offset="0.302" stop-color="#a90000"/><stop offset="0.337" stop-color="#9e0000"/><stop offset="0.377" stop-color="#a00000"/><stop offset="0.427" stop-color="#8d0000"/><stop offset="0.538" stop-color="#a00000"/><stop offset="0.644" stop-color="#a30000"/><stop offset="0.694" stop-color="#bc0000"/><stop offset="0.774" stop-color="#ff0300"/><stop offset="0.84" stop-color="#ff2e00"/><stop offset="0.915" stop-color="#ff3a00"/><stop offset="0.995" stop-color="#ff3200"/></linearGradient>
<linearGradient id="gL86" gradientUnits="userSpaceOnUse" x1="76.3" x2="275.2" y1="0" y2="0"><stop offset="0" stop-color="#ff5000"/><stop offset="0.116" stop-color="#ff3700"/><stop offset="0.191" stop-color="#ff0d00"/><stop offset="0.211" stop-color="#fb0000"/><stop offset="0.302" stop-color="#ab0000"/><stop offset="0.342" stop-color="#a10000"/><stop offset="0.382" stop-color="#9f0000"/><stop offset="0.432" stop-color="#8f0000"/><stop offset="0.543" stop-color="#a40000"/><stop offset="0.654" stop-color="#a60000"/><stop offset="0.709" stop-color="#c40000"/><stop offset="0.784" stop-color="#ff0300"/><stop offset="0.85" stop-color="#ff2800"/><stop offset="0.935" stop-color="#ff3200"/><stop offset="0.995" stop-color="#ff2d00"/></linearGradient>
<g clip-path="url(#blobL)"><rect x="76.3" y="77.0" width="198.9" height="2.60" fill="url(#gL0)"/><rect x="76.3" y="79.0" width="198.9" height="2.60" fill="url(#gL1)"/><rect x="76.3" y="81.0" width="198.9" height="2.60" fill="url(#gL2)"/><rect x="76.3" y="83.0" width="198.9" height="2.60" fill="url(#gL3)"/><rect x="76.3" y="85.0" width="198.9" height="2.60" fill="url(#gL4)"/><rect x="76.3" y="87.0" width="198.9" height="2.60" fill="url(#gL5)"/><rect x="76.3" y="89.0" width="198.9" height="2.60" fill="url(#gL6)"/><rect x="76.3" y="91.0" width="198.9" height="2.60" fill="url(#gL7)"/><rect x="76.3" y="93.0" width="198.9" height="2.60" fill="url(#gL8)"/><rect x="76.3" y="95.0" width="198.9" height="2.60" fill="url(#gL9)"/><rect x="76.3" y="97.0" width="198.9" height="2.60" fill="url(#gL10)"/><rect x="76.3" y="99.0" width="198.9" height="2.60" fill="url(#gL11)"/><rect x="76.3" y="101.0" width="198.9" height="2.60" fill="url(#gL12)"/><rect x="76.3" y="103.0" width="198.9" height="2.60" fill="url(#gL13)"/><rect x="76.3" y="105.0" width="198.9" height="2.60" fill="url(#gL14)"/><rect x="76.3" y="107.0" width="198.9" height="2.60" fill="url(#gL15)"/><rect x="76.3" y="109.0" width="198.9" height="2.60" fill="url(#gL16)"/><rect x="76.3" y="111.0" width="198.9" height="2.60" fill="url(#gL17)"/><rect x="76.3" y="113.0" width="198.9" height="2.60" fill="url(#gL18)"/><rect x="76.3" y="115.0" width="198.9" height="2.60" fill="url(#gL19)"/><rect x="76.3" y="117.0" width="198.9" height="2.60" fill="url(#gL20)"/><rect x="76.3" y="119.0" width="198.9" height="2.60" fill="url(#gL21)"/><rect x="76.3" y="121.0" width="198.9" height="2.60" fill="url(#gL22)"/><rect x="76.3" y="123.0" width="198.9" height="2.60" fill="url(#gL23)"/><rect x="76.3" y="125.0" width="198.9" height="2.60" fill="url(#gL24)"/><rect x="76.3" y="127.0" width="198.9" height="2.60" fill="url(#gL25)"/><rect x="76.3" y="129.0" width="198.9" height="2.60" fill="url(#gL26)"/><rect x="76.3" y="131.0" width="198.9" height="2.60" fill="url(#gL27)"/><rect x="76.3" y="133.0" width="198.9" height="2.60" fill="url(#gL28)"/><rect x="76.3" y="135.0" width="198.9" height="2.60" fill="url(#gL29)"/><rect x="76.3" y="137.0" width="198.9" height="2.60" fill="url(#gL30)"/><rect x="76.3" y="139.0" width="198.9" height="2.60" fill="url(#gL31)"/><rect x="76.3" y="141.0" width="198.9" height="2.60" fill="url(#gL32)"/><rect x="76.3" y="143.0" width="198.9" height="2.60" fill="url(#gL33)"/><rect x="76.3" y="145.0" width="198.9" height="2.60" fill="url(#gL34)"/><rect x="76.3" y="147.0" width="198.9" height="2.60" fill="url(#gL35)"/><rect x="76.3" y="149.0" width="198.9" height="2.60" fill="url(#gL36)"/><rect x="76.3" y="151.0" width="198.9" height="2.60" fill="url(#gL37)"/><rect x="76.3" y="153.0" width="198.9" height="2.60" fill="url(#gL38)"/><rect x="76.3" y="155.0" width="198.9" height="2.60" fill="url(#gL39)"/><rect x="76.3" y="157.0" width="198.9" height="2.60" fill="url(#gL40)"/><rect x="76.3" y="159.0" width="198.9" height="2.60" fill="url(#gL41)"/><rect x="76.3" y="161.0" width="198.9" height="2.60" fill="url(#gL42)"/><rect x="76.3" y="163.0" width="198.9" height="2.60" fill="url(#gL43)"/><rect x="76.3" y="165.0" width="198.9" height="2.60" fill="url(#gL44)"/><rect x="76.3" y="167.0" width="198.9" height="2.60" fill="url(#gL45)"/><rect x="76.3" y="169.0" width="198.9" height="2.60" fill="url(#gL46)"/><rect x="76.3" y="171.0" width="198.9" height="2.60" fill="url(#gL47)"/><rect x="76.3" y="173.0" width="198.9" height="2.60" fill="url(#gL48)"/><rect x="76.3" y="175.0" width="198.9" height="2.60" fill="url(#gL49)"/><rect x="76.3" y="177.0" width="198.9" height="2.60" fill="url(#gL50)"/><rect x="76.3" y="179.0" width="198.9" height="2.60" fill="url(#gL51)"/><rect x="76.3" y="181.0" width="198.9" height="2.60" fill="url(#gL52)"/><rect x="76.3" y="183.0" width="198.9" height="2.60" fill="url(#gL53)"/><rect x="76.3" y="185.0" width="198.9" height="2.60" fill="url(#gL54)"/><rect x="76.3" y="187.0" width="198.9" height="2.60" fill="url(#gL55)"/><rect x="76.3" y="189.0" width="198.9" height="2.60" fill="url(#gL56)"/><rect x="76.3" y="191.0" width="198.9" height="2.60" fill="url(#gL57)"/><rect x="76.3" y="193.0" width="198.9" height="2.60" fill="url(#gL58)"/><rect x="76.3" y="195.0" width="198.9" height="2.60" fill="url(#gL59)"/><rect x="76.3" y="197.0" width="198.9" height="2.60" fill="url(#gL60)"/><rect x="76.3" y="199.0" width="198.9" height="2.60" fill="url(#gL61)"/><rect x="76.3" y="201.0" width="198.9" height="2.60" fill="url(#gL62)"/><rect x="76.3" y="203.0" width="198.9" height="2.60" fill="url(#gL63)"/><rect x="76.3" y="205.0" width="198.9" height="2.60" fill="url(#gL64)"/><rect x="76.3" y="207.0" width="198.9" height="2.60" fill="url(#gL65)"/><rect x="76.3" y="209.0" width="198.9" height="2.60" fill="url(#gL66)"/><rect x="76.3" y="211.0" width="198.9" height="2.60" fill="url(#gL67)"/><rect x="76.3" y="213.0" width="198.9" height="2.60" fill="url(#gL68)"/><rect x="76.3" y="215.0" width="198.9" height="2.60" fill="url(#gL69)"/><rect x="76.3" y="217.0" width="198.9" height="2.60" fill="url(#gL70)"/><rect x="76.3" y="219.0" width="198.9" height="2.60" fill="url(#gL71)"/><rect x="76.3" y="221.0" width="198.9" height="2.60" fill="url(#gL72)"/><rect x="76.3" y="223.0" width="198.9" height="2.60" fill="url(#gL73)"/><rect x="76.3" y="225.0" width="198.9" height="2.60" fill="url(#gL74)"/><rect x="76.3" y="227.0" width="198.9" height="2.60" fill="url(#gL75)"/><rect x="76.3" y="229.0" width="198.9" height="2.60" fill="url(#gL76)"/><rect x="76.3" y="231.0" width="198.9" height="2.60" fill="url(#gL77)"/><rect x="76.3" y="233.0" width="198.9" height="2.60" fill="url(#gL78)"/><rect x="76.3" y="235.0" width="198.9" height="2.60" fill="url(#gL79)"/><rect x="76.3" y="237.0" width="198.9" height="2.60" fill="url(#gL80)"/><rect x="76.3" y="239.0" width="198.9" height="2.60" fill="url(#gL81)"/><rect x="76.3" y="241.0" width="198.9" height="2.60" fill="url(#gL82)"/><rect x="76.3" y="243.0" width="198.9" height="2.60" fill="url(#gL83)"/><rect x="76.3" y="245.0" width="198.9" height="2.60" fill="url(#gL84)"/><rect x="76.3" y="247.0" width="198.9" height="2.60" fill="url(#gL85)"/><rect x="76.3" y="249.0" width="198.9" height="2.60" fill="url(#gL86)"/></g>
<g fill="none" stroke="#000" stroke-width="1.1"><circle cx="175.80" cy="155.50" r="73.00"/><path d="M163.4,82.4 L172.8,71.4 Q175.8,70.0 178.8,71.4 L189.2,82.8"/><path d="M103.7,140.1 C102.8,138.0 101.8,137.3 100.5,137.4 C97.8,137.5 95.7,139.0 95.7,142.7 L95.7,170.4 C95.7,173.5 97.8,175.1 100.5,175.1 C101.8,175.1 102.8,174.3 103.7,173.0"/><path d="M247.9,140.1 C248.8,138.0 249.8,137.3 251.1,137.4 C253.8,137.5 255.9,139.0 255.9,142.7 L255.9,170.4 C255.9,173.5 253.8,175.1 251.1,175.1 C249.8,175.1 248.8,174.3 247.9,173.0"/></g>
<g fill="#000"><circle cx="83.3" cy="124.7" r="1.25"/><circle cx="97.3" cy="155.5" r="1.25"/><circle cx="98.1" cy="97.3" r="1.25"/><circle cx="98.1" cy="213.7" r="1.25"/><circle cx="101.3" cy="130.8" r="1.25"/><circle cx="101.3" cy="180.2" r="1.25"/><circle cx="108.1" cy="143.8" r="1.25"/><circle cx="108.1" cy="167.2" r="1.25"/><circle cx="113.2" cy="109.3" r="1.25"/><circle cx="113.2" cy="201.7" r="1.25"/><circle cx="117.2" cy="155.5" r="1.25"/><circle cx="119.6" cy="133.6" r="1.25"/><circle cx="119.6" cy="177.4" r="1.25"/><circle cx="120.4" cy="233.2" r="1.25"/><circle cx="127.6" cy="113.6" r="1.25"/><circle cx="127.6" cy="145.1" r="1.25"/><circle cx="127.6" cy="165.9" r="1.25"/><circle cx="127.6" cy="197.4" r="1.25"/><circle cx="130.8" cy="92.8" r="1.25"/><circle cx="130.8" cy="218.2" r="1.25"/><circle cx="132.0" cy="125.2" r="1.25"/><circle cx="132.0" cy="185.8" r="1.25"/><circle cx="136.8" cy="155.5" r="1.25"/><circle cx="138.4" cy="135.5" r="1.25"/><circle cx="138.4" cy="175.5" r="1.25"/><circle cx="140.3" cy="105.8" r="1.25"/><circle cx="143.5" cy="116.1" r="1.25"/><circle cx="143.5" cy="194.9" r="1.25"/><circle cx="147.0" cy="145.6" r="1.25"/><circle cx="147.0" cy="165.4" r="1.25"/><circle cx="149.1" cy="126.3" r="1.25"/><circle cx="149.1" cy="184.7" r="1.25"/><circle cx="152.3" cy="98.1" r="1.25"/><circle cx="152.3" cy="212.9" r="1.25"/><circle cx="152.6" cy="82.6" r="1.25"/><circle cx="152.6" cy="228.4" r="1.25"/><circle cx="156.6" cy="155.5" r="1.25"/><circle cx="157.1" cy="136.0" r="1.25"/><circle cx="157.1" cy="175.0" r="1.25"/><circle cx="159.5" cy="117.5" r="1.25"/><circle cx="159.5" cy="193.5" r="1.25"/><circle cx="166.1" cy="145.6" r="1.25"/><circle cx="166.1" cy="165.4" r="1.25"/><circle cx="167.1" cy="90.1" r="1.25"/><circle cx="167.1" cy="126.9" r="1.25"/><circle cx="167.1" cy="184.1" r="1.25"/><circle cx="169.0" cy="108.5" r="1.25"/><circle cx="169.0" cy="202.5" r="1.25"/><circle cx="175.8" cy="81.4" r="1.25"/><circle cx="175.8" cy="99.2" r="1.25"/><circle cx="175.8" cy="118.0" r="1.25"/><circle cx="175.8" cy="136.7" r="1.25"/><circle cx="175.8" cy="174.3" r="1.25"/><circle cx="175.8" cy="211.8" r="1.25"/><circle cx="175.8" cy="229.6" r="1.25"/><circle cx="175.8" cy="247.5" r="1.25"/><circle cx="182.6" cy="108.5" r="1.25"/><circle cx="182.6" cy="202.5" r="1.25"/><circle cx="184.5" cy="90.1" r="1.25"/><circle cx="184.5" cy="126.9" r="1.25"/><circle cx="184.5" cy="184.1" r="1.25"/><circle cx="185.5" cy="145.6" r="1.25"/><circle cx="185.5" cy="165.4" r="1.25"/><circle cx="192.1" cy="117.5" r="1.25"/><circle cx="192.1" cy="193.5" r="1.25"/><circle cx="194.5" cy="136.0" r="1.25"/><circle cx="194.5" cy="175.0" r="1.25"/><circle cx="195.0" cy="155.5" r="1.25"/><circle cx="199.0" cy="82.6" r="1.25"/><circle cx="199.0" cy="228.4" r="1.25"/><circle cx="199.3" cy="98.1" r="1.25"/><circle cx="199.3" cy="212.9" r="1.25"/><circle cx="202.5" cy="126.3" r="1.25"/><circle cx="202.5" cy="184.7" r="1.25"/><circle cx="204.6" cy="145.6" r="1.25"/><circle cx="204.6" cy="165.4" r="1.25"/><circle cx="208.1" cy="116.1" r="1.25"/><circle cx="208.1" cy="194.9" r="1.25"/><circle cx="211.3" cy="105.8" r="1.25"/><circle cx="213.2" cy="135.5" r="1.25"/><circle cx="213.2" cy="175.5" r="1.25"/><circle cx="214.8" cy="155.5" r="1.25"/><circle cx="219.6" cy="125.2" r="1.25"/><circle cx="219.6" cy="185.8" r="1.25"/><circle cx="220.8" cy="92.8" r="1.25"/><circle cx="220.8" cy="218.2" r="1.25"/><circle cx="224.0" cy="113.6" r="1.25"/><circle cx="224.0" cy="145.1" r="1.25"/><circle cx="224.0" cy="165.9" r="1.25"/><circle cx="224.0" cy="197.4" r="1.25"/><circle cx="231.2" cy="233.2" r="1.25"/><circle cx="232.0" cy="133.6" r="1.25"/><circle cx="232.0" cy="177.4" r="1.25"/><circle cx="234.4" cy="155.5" r="1.25"/><circle cx="238.4" cy="109.3" r="1.25"/><circle cx="238.4" cy="201.7" r="1.25"/><circle cx="243.5" cy="143.8" r="1.25"/><circle cx="243.5" cy="167.2" r="1.25"/><circle cx="250.3" cy="130.8" r="1.25"/><circle cx="250.3" cy="180.2" r="1.25"/><circle cx="253.5" cy="97.3" r="1.25"/><circle cx="253.5" cy="213.7" r="1.25"/><circle cx="254.3" cy="155.5" r="1.25"/><circle cx="268.3" cy="124.7" r="1.25"/><circle cx="175.8" cy="155.5" r="4.2"/><circle cx="175.8" cy="193.5" r="4.2"/><circle cx="149.0" cy="246.7" r="4.2"/><circle cx="203.2" cy="247.1" r="4.2"/></g>
<text x="177.80" y="172.20" font-size="17" textLength="18.01" lengthAdjust="spacingAndGlyphs" fill="#000">Cz</text>
<text x="180.80" y="209.00" font-size="17" textLength="16.57" lengthAdjust="spacingAndGlyphs" fill="#000">Pz</text>
<text x="134.60" y="265.00" font-size="17" textLength="13.16" lengthAdjust="spacingAndGlyphs" fill="#000">I1</text>
<text x="208.00" y="265.00" font-size="17" textLength="12.65" lengthAdjust="spacingAndGlyphs" fill="#000">I2</text>
<clipPath id="blobR"><path d="M468.5,79.8C475.2,80.0 484.2,81.4 490.0,82.0C495.8,82.6 498.0,82.5 503.2,83.5C508.4,84.5 514.7,85.6 521.2,87.7C527.8,89.8 537.5,93.0 542.5,96.2C547.5,99.4 548.7,103.4 551.0,106.9C553.3,110.5 554.7,113.6 556.3,117.5C557.9,121.4 559.4,126.4 560.5,130.2C561.6,133.9 562.2,135.6 562.7,140.0C563.2,144.4 563.7,151.5 563.7,156.6C563.7,161.7 563.5,165.7 562.7,170.4C561.9,175.1 560.5,179.9 559.0,185.0C557.5,190.1 555.8,196.5 553.4,201.0C551.0,205.5 548.3,208.1 544.7,212.1C541.1,216.1 536.4,221.1 531.9,224.8C527.4,228.5 522.6,231.7 517.6,234.4C512.6,237.1 507.7,239.0 501.6,240.8C495.5,242.7 486.3,244.6 480.9,245.5C475.5,246.4 474.3,246.5 469.0,246.5C463.7,246.5 454.5,246.3 448.9,245.7C443.3,245.1 440.1,244.5 435.3,242.7C430.5,240.9 424.9,237.9 420.1,235.1C415.3,232.3 410.4,229.3 406.4,226.0C402.3,222.7 399.3,219.6 395.8,215.3C392.3,211.0 388.0,205.2 385.2,200.2C382.4,195.1 380.6,188.7 379.1,185.0C377.6,181.3 377.2,181.7 376.4,177.8C375.6,174.0 374.5,166.3 374.2,161.9C373.9,157.5 374.5,155.2 374.8,151.2C375.1,147.2 375.4,141.8 375.8,138.0C376.2,134.2 376.5,131.5 377.4,128.1C378.3,124.7 379.8,121.0 381.2,117.5C382.6,114.0 384.1,110.5 386.0,106.9C387.9,103.4 389.8,98.9 392.3,96.2C394.8,93.5 395.3,93.2 400.8,91.0C406.3,88.8 417.0,84.8 425.2,83.0C433.4,81.2 442.8,81.0 450.0,80.5C457.2,80.0 461.8,79.5 468.5,79.8Z"/></clipPath><linearGradient id="gR0" gradientUnits="userSpaceOnUse" x1="372.2" x2="565.7" y1="0" y2="0"><stop offset="0" stop-color="#ff1b00"/><stop offset="0.124" stop-color="#ff1a00"/><stop offset="0.243" stop-color="#ff1700"/><stop offset="0.367" stop-color="#ff2f00"/><stop offset="0.419" stop-color="#ff2f00"/><stop offset="0.481" stop-color="#ff3a00"/><stop offset="0.661" stop-color="#ff1900"/><stop offset="0.729" stop-color="#ff4400"/><stop offset="0.801" stop-color="#ff6900"/><stop offset="0.873" stop-color="#ff6e00"/><stop offset="0.997" stop-color="#ff4d00"/></linearGradient>
<linearGradient id="gR1" gradientUnits="userSpaceOnUse" x1="372.2" x2="565.7" y1="0" y2="0"><stop offset="0" stop-color="#ff2100"/><stop offset="0.119" stop-color="#ff2100"/><stop offset="0.238" stop-color="#ff1c00"/><stop offset="0.367" stop-color="#ff4500"/><stop offset="0.413" stop-color="#ff4500"/><stop offset="0.475" stop-color="#ff5600"/><stop offset="0.63" stop-color="#ff3400"/><stop offset="0.667" stop-color="#ff2d00"/><stop offset="0.78" stop-color="#ff7000"/><stop offset="0.848" stop-color="#ff7a00"/><stop offset="0.956" stop-color="#ff6100"/><stop offset="0.997" stop-color="#ff5300"/></linearGradient>
<linearGradient id="gR2" gradientUnits="userSpaceOnUse" x1="372.2" x2="565.7" y1="0" y2="0"><stop offset="0" stop-color="#ff2600"/><stop offset="0.114" stop-color="#ff2800"/><stop offset="0.238" stop-color="#ff2100"/><stop offset="0.315" stop-color="#ff4100"/><stop offset="0.362" stop-color="#ff5c00"/><stop offset="0.419" stop-color="#ff6100"/><stop offset="0.481" stop-color="#ff7400"/><stop offset="0.553" stop-color="#ff6300"/><stop offset="0.625" stop-color="#ff5100"/><stop offset="0.661" stop-color="#ff4200"/><stop offset="0.786" stop-color="#ff7f00"/><stop offset="0.858" stop-color="#ff8300"/><stop offset="0.987" stop-color="#ff5c00"/><stop offset="0.997" stop-color="#ff5800"/></linearGradient>
<linearGradient id="gR3" gradientUnits="userSpaceOnUse" x1="372.2" x2="565.7" y1="0" y2="0"><stop offset="0" stop-color="#ff2c00"/><stop offset="0.103" stop-color="#ff2f00"/><stop offset="0.243" stop-color="#ff2500"/><stop offset="0.305" stop-color="#ff4200"/><stop offset="0.357" stop-color="#ff7300"/><stop offset="0.429" stop-color="#ff8100"/><stop offset="0.491" stop-color="#ff9400"/><stop offset="0.553" stop-color="#ff8300"/><stop offset="0.63" stop-color="#ff6b00"/><stop offset="0.667" stop-color="#ff5d00"/><stop offset="0.796" stop-color="#ff8d00"/><stop offset="0.873" stop-color="#ff8800"/><stop offset="0.997" stop-color="#ff5e00"/></linearGradient>
<linearGradient id="gR4" gradientUnits="userSpaceOnUse" x1="372.2" x2="565.7" y1="0" y2="0"><stop offset="0" stop-color="#ff3100"/><stop offset="0.103" stop-color="#ff3400"/><stop offset="0.248" stop-color="#ff2800"/><stop offset="0.3" stop-color="#ff4200"/><stop offset="0.351" stop-color="#ff8900"/><stop offset="0.393" stop-color="#ff9300"/><stop offset="0.501" stop-color="#ffb500"/><stop offset="0.677" stop-color="#ff7a00"/><stop offset="0.817" stop-color="#ff9800"/><stop offset="0.915" stop-color="#ff8300"/><stop offset="0.997" stop-color="#ff6200"/></linearGradient>
<linearGradient id="gR5" gradientUnits="userSpaceOnUse" x1="372.2" x2="565.7" y1="0" y2="0"><stop offset="0" stop-color="#ff3600"/><stop offset="0.0982" stop-color="#ff3a00"/><stop offset="0.248" stop-color="#ff2900"/><stop offset="0.3" stop-color="#ff4600"/><stop offset="0.351" stop-color="#ff9f00"/><stop offset="0.413" stop-color="#ffb000"/><stop offset="0.506" stop-color="#ffd300"/><stop offset="0.698" stop-color="#ff8d00"/><stop offset="0.822" stop-color="#ffa000"/><stop offset="0.93" stop-color="#ff8200"/><stop offset="0.997" stop-color="#ff6700"/></linearGradient>
<linearGradient id="gR6" gradientUnits="userSpaceOnUse" x1="372.2" x2="565.7" y1="0" y2="0"><stop offset="0" stop-color="#ff3b00"/><stop offset="0.093" stop-color="#ff4000"/><stop offset="0.253" stop-color="#ff2e00"/><stop offset="0.295" stop-color="#ff4600"/><stop offset="0.32" stop-color="#ff7200"/><stop offset="0.351" stop-color="#ffae00"/><stop offset="0.403" stop-color="#ffc400"/><stop offset="0.506" stop-color="#ffea00"/><stop offset="0.667" stop-color="#ffaa00"/><stop offset="0.703" stop-color="#ff9900"/><stop offset="0.827" stop-color="#ffa500"/><stop offset="0.935" stop-color="#ff8500"/><stop offset="0.997" stop-color="#ff6a00"/></linearGradient>
<linearGradient id="gR7" gradientUnits="userSpaceOnUse" x1="372.2" x2="565.7" y1="0" y2="0"><stop offset="0" stop-color="#ff3f00"/><stop offset="0.093" stop-color="#ff4400"/><stop offset="0.248" stop-color="#ff3400"/><stop offset="0.289" stop-color="#ff4b00"/><stop offset="0.315" stop-color="#ff7200"/><stop offset="0.351" stop-color="#ffb500"/><stop offset="0.382" stop-color="#ffcd00"/><stop offset="0.496" stop-color="#fff900"/><stop offset="0.553" stop-color="#ffee00"/><stop offset="0.636" stop-color="#ffc500"/><stop offset="0.703" stop-color="#ffa100"/><stop offset="0.76" stop-color="#ffa500"/><stop offset="0.837" stop-color="#ffa700"/><stop offset="0.941" stop-color="#ff8700"/><stop offset="0.997" stop-color="#ff6e00"/></linearGradient>
<linearGradient id="gR8" gradientUnits="userSpaceOnUse" x1="372.2" x2="565.7" y1="0" y2="0"><stop offset="0" stop-color="#ff4300"/><stop offset="0.093" stop-color="#ff4900"/><stop offset="0.202" stop-color="#ff3c00"/><stop offset="0.264" stop-color="#ff4400"/><stop offset="0.295" stop-color="#ff5c00"/><stop offset="0.357" stop-color="#ffc400"/><stop offset="0.388" stop-color="#ffdd00"/><stop offset="0.46" stop-color="#fdff02"/><stop offset="0.501" stop-color="#f6ff09"/><stop offset="0.548" stop-color="#fcff03"/><stop offset="0.61" stop-color="#ffe500"/><stop offset="0.677" stop-color="#ffb200"/><stop offset="0.724" stop-color="#ffa200"/><stop offset="0.817" stop-color="#ffaa00"/><stop offset="0.904" stop-color="#ff9900"/><stop offset="0.997" stop-color="#ff7100"/></linearGradient>
<linearGradient id="gR9" gradientUnits="userSpaceOnUse" x1="372.2" x2="565.7" y1="0" y2="0"><stop offset="0" stop-color="#ff4600"/><stop offset="0.093" stop-color="#ff4c00"/><stop offset="0.191" stop-color="#ff4000"/><stop offset="0.269" stop-color="#ff5200"/><stop offset="0.3" stop-color="#ff7000"/><stop offset="0.357" stop-color="#ffd000"/><stop offset="0.388" stop-color="#ffeb00"/><stop offset="0.429" stop-color="#fbff04"/><stop offset="0.486" stop-color="#e2ff1d"/><stop offset="0.548" stop-color="#e9ff16"/><stop offset="0.594" stop-color="#fffd00"/><stop offset="0.708" stop-color="#ffa700"/><stop offset="0.749" stop-color="#ffa700"/><stop offset="0.837" stop-color="#ffa900"/><stop offset="0.915" stop-color="#ff9800"/><stop offset="0.997" stop-color="#ff7300"/></linearGradient>
<linearGradient id="gR10" gradientUnits="userSpaceOnUse" x1="372.2" x2="565.7" y1="0" y2="0"><stop offset="0" stop-color="#ff4a00"/><stop offset="0.093" stop-color="#ff4f00"/><stop offset="0.186" stop-color="#ff4400"/><stop offset="0.269" stop-color="#ff5d00"/><stop offset="0.3" stop-color="#ff7c00"/><stop offset="0.357" stop-color="#ffe100"/><stop offset="0.388" stop-color="#fff900"/><stop offset="0.408" stop-color="#faff05"/><stop offset="0.465" stop-color="#d4ff2b"/><stop offset="0.522" stop-color="#ceff31"/><stop offset="0.579" stop-color="#e6ff19"/><stop offset="0.615" stop-color="#fffd00"/><stop offset="0.672" stop-color="#ffcd00"/><stop offset="0.713" stop-color="#ffa600"/><stop offset="0.806" stop-color="#ffaa00"/><stop offset="0.889" stop-color="#ffa300"/><stop offset="0.997" stop-color="#ff7600"/></linearGradient>
<linearGradient id="gR11" gradientUnits="userSpaceOnUse" x1="372.2" x2="565.7" y1="0" y2="0"><stop offset="0" stop-color="#ff4d00"/><stop offset="0.0879" stop-color="#ff5200"/><stop offset="0.186" stop-color="#ff4700"/><stop offset="0.264" stop-color="#ff6400"/><stop offset="0.295" stop-color="#ff8000"/><stop offset="0.357" stop-color="#fff200"/><stop offset="0.372" stop-color="#fcff03"/><stop offset="0.424" stop-color="#daff25"/><stop offset="0.475" stop-color="#bcff43"/><stop offset="0.532" stop-color="#bbff44"/><stop offset="0.579" stop-color="#d4ff2b"/><stop offset="0.636" stop-color="#fffd00"/><stop offset="0.672" stop-color="#ffda00"/><stop offset="0.708" stop-color="#ffad00"/><stop offset="0.739" stop-color="#ffa800"/><stop offset="0.801" stop-color="#ffaa00"/><stop offset="0.894" stop-color="#ffa200"/><stop offset="0.997" stop-color="#ff7700"/></linearGradient>
<linearGradient id="gR12" gradientUnits="userSpaceOnUse" x1="372.2" x2="565.7" y1="0" y2="0"><stop offset="0" stop-color="#ff4f00"/><stop offset="0.0775" stop-color="#ff5300"/><stop offset="0.186" stop-color="#ff4c00"/><stop offset="0.264" stop-color="#ff6d00"/><stop offset="0.295" stop-color="#ff8b00"/><stop offset="0.331" stop-color="#ffd200"/><stop offset="0.351" stop-color="#fffc00"/><stop offset="0.413" stop-color="#ceff31"/><stop offset="0.465" stop-color="#acff53"/><stop offset="0.527" stop-color="#a7ff58"/><stop offset="0.568" stop-color="#b9ff46"/><stop offset="0.651" stop-color="#ffff00"/><stop offset="0.708" stop-color="#ffb400"/><stop offset="0.739" stop-color="#ffaa00"/><stop offset="0.884" stop-color="#ffa600"/><stop offset="0.997" stop-color="#ff7900"/></linearGradient>
<linearGradient id="gR13" gradientUnits="userSpaceOnUse" x1="372.2" x2="565.7" y1="0" y2="0"><stop offset="0" stop-color="#ff5100"/><stop offset="0.0672" stop-color="#ff5600"/><stop offset="0.165" stop-color="#ff4e00"/><stop offset="0.222" stop-color="#ff5d00"/><stop offset="0.279" stop-color="#ff8100"/><stop offset="0.305" stop-color="#ffa600"/><stop offset="0.346" stop-color="#fdff02"/><stop offset="0.372" stop-color="#dbff24"/><stop offset="0.46" stop-color="#9cff63"/><stop offset="0.527" stop-color="#96ff69"/><stop offset="0.563" stop-color="#a3ff5c"/><stop offset="0.661" stop-color="#fffe00"/><stop offset="0.708" stop-color="#ffba00"/><stop offset="0.739" stop-color="#ffac00"/><stop offset="0.894" stop-color="#ffa400"/><stop offset="0.997" stop-color="#ff7a00"/></linearGradient>
<linearGradient id="gR14" gradientUnits="userSpaceOnUse" x1="372.2" x2="565.7" y1="0" y2="0"><stop offset="0" stop-color="#ff5300"/><stop offset="0.0672" stop-color="#ff5700"/><stop offset="0.124" stop-color="#ff5000"/><stop offset="0.207" stop-color="#ff5c00"/><stop offset="0.279" stop-color="#ff8a00"/><stop offset="0.305" stop-color="#ffae00"/><stop offset="0.341" stop-color="#ffff00"/><stop offset="0.367" stop-color="#d4ff2b"/><stop offset="0.419" stop-color="#a6ff59"/><stop offset="0.481" stop-color="#87ff78"/><stop offset="0.532" stop-color="#87ff78"/><stop offset="0.574" stop-color="#9dff62"/><stop offset="0.656" stop-color="#f4ff0b"/><stop offset="0.667" stop-color="#fffb00"/><stop offset="0.708" stop-color="#ffc000"/><stop offset="0.739" stop-color="#ffb000"/><stop offset="0.904" stop-color="#ffa200"/><stop offset="0.997" stop-color="#ff7b00"/></linearGradient>
<linearGradient id="gR15" gradientUnits="userSpaceOnUse" x1="372.2" x2="565.7" y1="0" y2="0"><stop offset="0" stop-color="#ff5500"/><stop offset="0.0672" stop-color="#ff5800"/><stop offset="0.109" stop-color="#ff5100"/><stop offset="0.207" stop-color="#ff6400"/><stop offset="0.279" stop-color="#ff9400"/><stop offset="0.305" stop-color="#ffb700"/><stop offset="0.336" stop-color="#fffc00"/><stop offset="0.372" stop-color="#c3ff3c"/><stop offset="0.419" stop-color="#98ff67"/><stop offset="0.501" stop-color="#75ff8a"/><stop offset="0.548" stop-color="#80ff7f"/><stop offset="0.605" stop-color="#aaff55"/><stop offset="0.667" stop-color="#fffe00"/><stop offset="0.713" stop-color="#ffc100"/><stop offset="0.76" stop-color="#ffb100"/><stop offset="0.915" stop-color="#ff9f00"/><stop offset="0.997" stop-color="#ff7c00"/></linearGradient>
<linearGradient id="gR16" gradientUnits="userSpaceOnUse" x1="372.2" x2="565.7" y1="0" y2="0"><stop offset="0" stop-color="#ff5700"/><stop offset="0.0672" stop-color="#ff5900"/><stop offset="0.109" stop-color="#ff5400"/><stop offset="0.212" stop-color="#ff7100"/><stop offset="0.284" stop-color="#ffa500"/><stop offset="0.31" stop-color="#ffcc00"/><stop offset="0.336" stop-color="#fbff04"/><stop offset="0.372" stop-color="#bbff44"/><stop offset="0.413" stop-color="#8fff70"/><stop offset="0.501" stop-color="#67ff98"/><stop offset="0.548" stop-color="#76ff89"/><stop offset="0.605" stop-color="#9dff62"/><stop offset="0.672" stop-color="#fffc00"/><stop offset="0.713" stop-color="#ffc800"/><stop offset="0.765" stop-color="#ffb300"/><stop offset="0.92" stop-color="#ff9f00"/><stop offset="0.997" stop-color="#ff7d00"/></linearGradient>
<linearGradient id="gR17" gradientUnits="userSpaceOnUse" x1="372.2" x2="565.7" y1="0" y2="0"><stop offset="0" stop-color="#ff5800"/><stop offset="0.0724" stop-color="#ff5a00"/><stop offset="0.114" stop-color="#ff5b00"/><stop offset="0.212" stop-color="#ff7d00"/><stop offset="0.284" stop-color="#ffb400"/><stop offset="0.315" stop-color="#ffe300"/><stop offset="0.331" stop-color="#fdff02"/><stop offset="0.377" stop-color="#acff53"/><stop offset="0.419" stop-color="#7fff80"/><stop offset="0.496" stop-color="#5dffa2"/><stop offset="0.543" stop-color="#68ff97"/><stop offset="0.599" stop-color="#8eff71"/><stop offset="0.641" stop-color="#c9ff36"/><stop offset="0.677" stop-color="#fffc00"/><stop offset="0.718" stop-color="#ffcc00"/><stop offset="0.775" stop-color="#ffb400"/><stop offset="0.92" stop-color="#ffa000"/><stop offset="0.997" stop-color="#ff7e00"/></linearGradient>
<linearGradient id="gR18" gradientUnits="userSpaceOnUse" x1="372.2" x2="565.7" y1="0" y2="0"><stop offset="0" stop-color="#ff5a00"/><stop offset="0.109" stop-color="#ff6000"/><stop offset="0.217" stop-color="#ff8f00"/><stop offset="0.289" stop-color="#ffcb00"/><stop offset="0.326" stop-color="#fdff02"/><stop offset="0.388" stop-color="#95ff6a"/><stop offset="0.429" stop-color="#6cff93"/><stop offset="0.491" stop-color="#54ffab"/><stop offset="0.543" stop-color="#5effa1"/><stop offset="0.599" stop-color="#86ff79"/><stop offset="0.646" stop-color="#caff35"/><stop offset="0.682" stop-color="#fffd00"/><stop offset="0.729" stop-color="#ffcd00"/><stop offset="0.796" stop-color="#ffb200"/><stop offset="0.92" stop-color="#ffa200"/><stop offset="0.997" stop-color="#ff7f00"/></linearGradient>
<linearGradient id="gR19" gradientUnits="userSpaceOnUse" x1="372.2" x2="565.7" y1="0" y2="0"><stop offset="0" stop-color="#ff5b00"/><stop offset="0.109" stop-color="#ff6800"/><stop offset="0.222" stop-color="#ffa200"/><stop offset="0.289" stop-color="#ffdc00"/><stop offset="0.315" stop-color="#fffd00"/><stop offset="0.403" stop-color="#78ff87"/><stop offset="0.444" stop-color="#56ffa9"/><stop offset="0.496" stop-color="#4bffb4"/><stop offset="0.553" stop-color="#5affa5"/><stop offset="0.599" stop-color="#7fff80"/><stop offset="0.651" stop-color="#caff35"/><stop offset="0.687" stop-color="#fffe00"/><stop offset="0.739" stop-color="#ffcc00"/><stop offset="0.822" stop-color="#ffae00"/><stop offset="0.92" stop-color="#ffa400"/><stop offset="0.997" stop-color="#ff8000"/></linearGradient>
<linearGradient id="gR20" gradientUnits="userSpaceOnUse" x1="372.2" x2="565.7" y1="0" y2="0"><stop offset="0" stop-color="#ff5e00"/><stop offset="0.103" stop-color="#ff6e00"/><stop offset="0.227" stop-color="#ffb600"/><stop offset="0.3" stop-color="#fff800"/><stop offset="0.315" stop-color="#f4ff0b"/><stop offset="0.367" stop-color="#a8ff57"/><stop offset="0.408" stop-color="#69ff96"/><stop offset="0.45" stop-color="#47ffb8"/><stop offset="0.501" stop-color="#43ffbc"/><stop offset="0.558" stop-color="#54ffab"/><stop offset="0.605" stop-color="#7eff81"/><stop offset="0.693" stop-color="#ffff00"/><stop offset="0.744" stop-color="#ffce00"/><stop offset="0.827" stop-color="#ffaf00"/><stop offset="0.92" stop-color="#ffa700"/><stop offset="0.992" stop-color="#ff8300"/><stop offset="0.997" stop-color="#ff8100"/></linearGradient>
<linearGradient id="gR21" gradientUnits="userSpaceOnUse" x1="372.2" x2="565.7" y1="0" y2="0"><stop offset="0" stop-color="#ff6000"/><stop offset="0.103" stop-color="#ff7600"/><stop offset="0.238" stop-color="#ffcd00"/><stop offset="0.295" stop-color="#fdff02"/><stop offset="0.351" stop-color="#bbff44"/><stop offset="0.408" stop-color="#61ff9e"/><stop offset="0.45" stop-color="#3dffc2"/><stop offset="0.496" stop-color="#3affc5"/><stop offset="0.558" stop-color="#4dffb2"/><stop offset="0.61" stop-color="#7eff81"/><stop offset="0.698" stop-color="#fffd00"/><stop offset="0.744" stop-color="#ffd100"/><stop offset="0.832" stop-color="#ffb000"/><stop offset="0.92" stop-color="#ffa800"/><stop offset="0.997" stop-color="#ff8300"/></linearGradient>
<linearGradient id="gR22" gradientUnits="userSpaceOnUse" x1="372.2" x2="565.7" y1="0" y2="0"><stop offset="0" stop-color="#ff6300"/><stop offset="0.0982" stop-color="#ff7d00"/><stop offset="0.269" stop-color="#fff400"/><stop offset="0.284" stop-color="#fbff04"/><stop offset="0.351" stop-color="#b4ff4b"/><stop offset="0.413" stop-color="#55ffaa"/><stop offset="0.45" stop-color="#36ffc9"/><stop offset="0.491" stop-color="#32ffcd"/><stop offset="0.558" stop-color="#46ffb9"/><stop offset="0.61" stop-color="#79ff86"/><stop offset="0.672" stop-color="#d7ff28"/><stop offset="0.698" stop-color="#ffff00"/><stop offset="0.739" stop-color="#ffd500"/><stop offset="0.842" stop-color="#ffb200"/><stop offset="0.925" stop-color="#ffa700"/><stop offset="0.997" stop-color="#ff8500"/></linearGradient>
<linearGradient id="gR23" gradientUnits="userSpaceOnUse" x1="372.2" x2="565.7" y1="0" y2="0"><stop offset="0" stop-color="#ff6600"/><stop offset="0.103" stop-color="#ff8900"/><stop offset="0.233" stop-color="#ffe300"/><stop offset="0.269" stop-color="#ffff00"/><stop offset="0.351" stop-color="#adff52"/><stop offset="0.419" stop-color="#49ffb6"/><stop offset="0.455" stop-color="#2dffd2"/><stop offset="0.506" stop-color="#2dffd2"/><stop offset="0.563" stop-color="#44ffbb"/><stop offset="0.62" stop-color="#80ff7f"/><stop offset="0.667" stop-color="#c8ff37"/><stop offset="0.698" stop-color="#fffe00"/><stop offset="0.729" stop-color="#ffda00"/><stop offset="0.853" stop-color="#ffb400"/><stop offset="0.93" stop-color="#ffa500"/><stop offset="0.997" stop-color="#ff8700"/></linearGradient>
<linearGradient id="gR24" gradientUnits="userSpaceOnUse" x1="372.2" x2="565.7" y1="0" y2="0"><stop offset="0" stop-color="#ff6800"/><stop offset="0.103" stop-color="#ff9100"/><stop offset="0.207" stop-color="#ffe100"/><stop offset="0.264" stop-color="#fbff04"/><stop offset="0.351" stop-color="#a7ff58"/><stop offset="0.419" stop-color="#43ffbc"/><stop offset="0.455" stop-color="#26ffd9"/><stop offset="0.506" stop-color="#27ffd8"/><stop offset="0.563" stop-color="#3effc1"/><stop offset="0.636" stop-color="#8dff72"/><stop offset="0.672" stop-color="#ccff33"/><stop offset="0.698" stop-color="#fffe00"/><stop offset="0.724" stop-color="#ffdb00"/><stop offset="0.848" stop-color="#ffb800"/><stop offset="0.935" stop-color="#ffa500"/><stop offset="0.997" stop-color="#ff8800"/></linearGradient>
<linearGradient id="gR25" gradientUnits="userSpaceOnUse" x1="372.2" x2="565.7" y1="0" y2="0"><stop offset="0" stop-color="#ff6900"/><stop offset="0.109" stop-color="#ff9c00"/><stop offset="0.202" stop-color="#ffea00"/><stop offset="0.253" stop-color="#fdff02"/><stop offset="0.351" stop-color="#a0ff5f"/><stop offset="0.419" stop-color="#3effc1"/><stop offset="0.455" stop-color="#21ffde"/><stop offset="0.506" stop-color="#21ffde"/><stop offset="0.563" stop-color="#39ffc6"/><stop offset="0.641" stop-color="#8cff73"/><stop offset="0.672" stop-color="#c5ff3a"/><stop offset="0.698" stop-color="#fffe00"/><stop offset="0.718" stop-color="#ffdc00"/><stop offset="0.749" stop-color="#ffcf00"/><stop offset="0.941" stop-color="#ffa400"/><stop offset="0.997" stop-color="#ff8a00"/></linearGradient>
<linearGradient id="gR26" gradientUnits="userSpaceOnUse" x1="372.2" x2="565.7" y1="0" y2="0"><stop offset="0" stop-color="#ff6900"/><stop offset="0.109" stop-color="#ffa100"/><stop offset="0.202" stop-color="#fff300"/><stop offset="0.248" stop-color="#fcff03"/><stop offset="0.346" stop-color="#9eff61"/><stop offset="0.419" stop-color="#38ffc7"/><stop offset="0.455" stop-color="#1cffe3"/><stop offset="0.506" stop-color="#1cffe3"/><stop offset="0.563" stop-color="#34ffcb"/><stop offset="0.641" stop-color="#81ff7e"/><stop offset="0.667" stop-color="#b0ff4f"/><stop offset="0.698" stop-color="#fdff02"/><stop offset="0.718" stop-color="#ffdc00"/><stop offset="0.749" stop-color="#ffcf00"/><stop offset="0.889" stop-color="#ffb500"/><stop offset="0.987" stop-color="#ff9100"/><stop offset="0.997" stop-color="#ff8b00"/></linearGradient>
<linearGradient id="gR27" gradientUnits="userSpaceOnUse" x1="372.2" x2="565.7" y1="0" y2="0"><stop offset="0" stop-color="#ff6700"/><stop offset="0.114" stop-color="#ffaa00"/><stop offset="0.196" stop-color="#fff600"/><stop offset="0.243" stop-color="#fbff04"/><stop offset="0.284" stop-color="#daff25"/><stop offset="0.357" stop-color="#85ff7a"/><stop offset="0.413" stop-color="#36ffc9"/><stop offset="0.455" stop-color="#18ffe7"/><stop offset="0.506" stop-color="#18ffe7"/><stop offset="0.568" stop-color="#34ffcb"/><stop offset="0.641" stop-color="#76ff89"/><stop offset="0.667" stop-color="#a5ff5a"/><stop offset="0.703" stop-color="#fffc00"/><stop offset="0.724" stop-color="#ffda00"/><stop offset="0.755" stop-color="#ffce00"/><stop offset="0.879" stop-color="#ffb900"/><stop offset="0.987" stop-color="#ff9100"/><stop offset="0.997" stop-color="#ff8b00"/></linearGradient>
<linearGradient id="gR28" gradientUnits="userSpaceOnUse" x1="372.2" x2="565.7" y1="0" y2="0"><stop offset="0" stop-color="#ff6300"/><stop offset="0.114" stop-color="#ffad00"/><stop offset="0.196" stop-color="#fffa00"/><stop offset="0.253" stop-color="#f4ff0b"/><stop offset="0.295" stop-color="#ceff31"/><stop offset="0.408" stop-color="#34ffcb"/><stop offset="0.45" stop-color="#16ffe9"/><stop offset="0.501" stop-color="#13ffec"/><stop offset="0.574" stop-color="#33ffcc"/><stop offset="0.636" stop-color="#62ff9d"/><stop offset="0.661" stop-color="#8cff73"/><stop offset="0.703" stop-color="#faff05"/><stop offset="0.724" stop-color="#ffdf00"/><stop offset="0.755" stop-color="#ffce00"/><stop offset="0.879" stop-color="#ffbb00"/><stop offset="0.992" stop-color="#ff8d00"/><stop offset="0.997" stop-color="#ff8a00"/></linearGradient>
<linearGradient id="gR29" gradientUnits="userSpaceOnUse" x1="372.2" x2="565.7" y1="0" y2="0"><stop offset="0" stop-color="#ff5f00"/><stop offset="0.109" stop-color="#ffab00"/><stop offset="0.191" stop-color="#fffa00"/><stop offset="0.238" stop-color="#f9ff06"/><stop offset="0.274" stop-color="#e4ff1b"/><stop offset="0.31" stop-color="#b6ff49"/><stop offset="0.382" stop-color="#46ffb9"/><stop offset="0.429" stop-color="#1cffe3"/><stop offset="0.475" stop-color="#0dfff2"/><stop offset="0.537" stop-color="#1bffe4"/><stop offset="0.63" stop-color="#50ffaf"/><stop offset="0.656" stop-color="#73ff8c"/><stop offset="0.682" stop-color="#b5ff4a"/><stop offset="0.708" stop-color="#fdff02"/><stop offset="0.734" stop-color="#ffdc00"/><stop offset="0.775" stop-color="#ffce00"/><stop offset="0.879" stop-color="#ffbe00"/><stop offset="0.997" stop-color="#ff8900"/></linearGradient>
<linearGradient id="gR30" gradientUnits="userSpaceOnUse" x1="372.2" x2="565.7" y1="0" y2="0"><stop offset="0" stop-color="#ff5c00"/><stop offset="0.0672" stop-color="#ff8a00"/><stop offset="0.16" stop-color="#ffe000"/><stop offset="0.196" stop-color="#ffff00"/><stop offset="0.258" stop-color="#efff10"/><stop offset="0.295" stop-color="#caff35"/><stop offset="0.362" stop-color="#52ffad"/><stop offset="0.403" stop-color="#24ffdb"/><stop offset="0.46" stop-color="#0cfff3"/><stop offset="0.522" stop-color="#11ffee"/><stop offset="0.636" stop-color="#48ffb7"/><stop offset="0.656" stop-color="#63ff9c"/><stop offset="0.677" stop-color="#98ff67"/><stop offset="0.708" stop-color="#f2ff0d"/><stop offset="0.713" stop-color="#feff01"/><stop offset="0.739" stop-color="#ffe000"/><stop offset="0.78" stop-color="#ffd200"/><stop offset="0.879" stop-color="#ffc000"/><stop offset="0.997" stop-color="#ff8700"/></linearGradient>
<linearGradient id="gR31" gradientUnits="userSpaceOnUse" x1="372.2" x2="565.7" y1="0" y2="0"><stop offset="0" stop-color="#ff5a00"/><stop offset="0.0568" stop-color="#ff8100"/><stop offset="0.16" stop-color="#ffe200"/><stop offset="0.196" stop-color="#fdff02"/><stop offset="0.258" stop-color="#edff12"/><stop offset="0.289" stop-color="#cbff34"/><stop offset="0.326" stop-color="#81ff7e"/><stop offset="0.362" stop-color="#3effc1"/><stop offset="0.398" stop-color="#1cffe3"/><stop offset="0.47" stop-color="#08fff7"/><stop offset="0.532" stop-color="#12ffed"/><stop offset="0.636" stop-color="#3cffc3"/><stop offset="0.656" stop-color="#56ffa9"/><stop offset="0.677" stop-color="#8aff75"/><stop offset="0.708" stop-color="#e5ff1a"/><stop offset="0.724" stop-color="#fffd00"/><stop offset="0.76" stop-color="#ffe000"/><stop offset="0.884" stop-color="#ffbf00"/><stop offset="0.997" stop-color="#ff8400"/></linearGradient>
<linearGradient id="gR32" gradientUnits="userSpaceOnUse" x1="372.2" x2="565.7" y1="0" y2="0"><stop offset="0" stop-color="#ff5a00"/><stop offset="0.0724" stop-color="#ff8e00"/><stop offset="0.191" stop-color="#fffe00"/><stop offset="0.253" stop-color="#edff12"/><stop offset="0.284" stop-color="#cbff34"/><stop offset="0.31" stop-color="#96ff69"/><stop offset="0.346" stop-color="#40ffbf"/><stop offset="0.372" stop-color="#1dffe2"/><stop offset="0.419" stop-color="#0bfff4"/><stop offset="0.512" stop-color="#08fff7"/><stop offset="0.63" stop-color="#2fffd0"/><stop offset="0.656" stop-color="#4cffb3"/><stop offset="0.682" stop-color="#8cff73"/><stop offset="0.713" stop-color="#deff21"/><stop offset="0.734" stop-color="#fcff03"/><stop offset="0.822" stop-color="#ffd600"/><stop offset="0.899" stop-color="#ffb700"/><stop offset="0.997" stop-color="#ff8100"/></linearGradient>
<linearGradient id="gR33" gradientUnits="userSpaceOnUse" x1="372.2" x2="565.7" y1="0" y2="0"><stop offset="0" stop-color="#ff5a00"/><stop offset="0.0827" stop-color="#ff9700"/><stop offset="0.181" stop-color="#fff800"/><stop offset="0.212" stop-color="#f8ff07"/><stop offset="0.253" stop-color="#e8ff17"/><stop offset="0.284" stop-color="#c1ff3e"/><stop offset="0.31" stop-color="#85ff7a"/><stop offset="0.341" stop-color="#31ffce"/><stop offset="0.362" stop-color="#0ffff0"/><stop offset="0.393" stop-color="#03fffc"/><stop offset="0.527" stop-color="#07fff8"/><stop offset="0.63" stop-color="#26ffd9"/><stop offset="0.656" stop-color="#43ffbc"/><stop offset="0.687" stop-color="#8dff72"/><stop offset="0.713" stop-color="#cbff34"/><stop offset="0.739" stop-color="#eeff11"/><stop offset="0.77" stop-color="#fffc00"/><stop offset="0.858" stop-color="#ffcd00"/><stop offset="0.997" stop-color="#ff7d00"/></linearGradient>
<linearGradient id="gR34" gradientUnits="userSpaceOnUse" x1="372.2" x2="565.7" y1="0" y2="0"><stop offset="0" stop-color="#ff5a00"/><stop offset="0.0879" stop-color="#ff9c00"/><stop offset="0.176" stop-color="#fff400"/><stop offset="0.202" stop-color="#fbff04"/><stop offset="0.253" stop-color="#e3ff1c"/><stop offset="0.279" stop-color="#c1ff3e"/><stop offset="0.305" stop-color="#84ff7b"/><stop offset="0.341" stop-color="#17ffe8"/><stop offset="0.351" stop-color="#02fffd"/><stop offset="0.372" stop-color="#00f0ff"/><stop offset="0.475" stop-color="#00ffff"/><stop offset="0.594" stop-color="#11ffee"/><stop offset="0.636" stop-color="#21ffde"/><stop offset="0.661" stop-color="#43ffbc"/><stop offset="0.713" stop-color="#b9ff46"/><stop offset="0.739" stop-color="#daff25"/><stop offset="0.791" stop-color="#fffc00"/><stop offset="0.858" stop-color="#ffd000"/><stop offset="0.997" stop-color="#ff7900"/></linearGradient>
<linearGradient id="gR35" gradientUnits="userSpaceOnUse" x1="372.2" x2="565.7" y1="0" y2="0"><stop offset="0" stop-color="#ff5a00"/><stop offset="0.0879" stop-color="#ff9b00"/><stop offset="0.165" stop-color="#ffed00"/><stop offset="0.196" stop-color="#feff01"/><stop offset="0.248" stop-color="#e3ff1c"/><stop offset="0.274" stop-color="#c1ff3e"/><stop offset="0.3" stop-color="#85ff7a"/><stop offset="0.336" stop-color="#0cfff3"/><stop offset="0.341" stop-color="#00fcff"/><stop offset="0.357" stop-color="#00dfff"/><stop offset="0.377" stop-color="#00dcff"/><stop offset="0.439" stop-color="#00f7ff"/><stop offset="0.568" stop-color="#06fff9"/><stop offset="0.63" stop-color="#17ffe8"/><stop offset="0.656" stop-color="#31ffce"/><stop offset="0.693" stop-color="#7dff82"/><stop offset="0.718" stop-color="#b0ff4f"/><stop offset="0.749" stop-color="#ceff31"/><stop offset="0.796" stop-color="#faff05"/><stop offset="0.817" stop-color="#fff000"/><stop offset="0.997" stop-color="#ff7400"/></linearGradient>
<linearGradient id="gR36" gradientUnits="userSpaceOnUse" x1="372.2" x2="565.7" y1="0" y2="0"><stop offset="0" stop-color="#ff5900"/><stop offset="0.0879" stop-color="#ff9a00"/><stop offset="0.165" stop-color="#ffec00"/><stop offset="0.196" stop-color="#feff01"/><stop offset="0.243" stop-color="#e3ff1c"/><stop offset="0.269" stop-color="#c1ff3e"/><stop offset="0.295" stop-color="#86ff79"/><stop offset="0.331" stop-color="#08fff7"/><stop offset="0.336" stop-color="#00f6ff"/><stop offset="0.351" stop-color="#00d0ff"/><stop offset="0.367" stop-color="#00c7ff"/><stop offset="0.444" stop-color="#00f0ff"/><stop offset="0.584" stop-color="#05fffa"/><stop offset="0.636" stop-color="#13ffec"/><stop offset="0.661" stop-color="#30ffcf"/><stop offset="0.718" stop-color="#a0ff5f"/><stop offset="0.76" stop-color="#c4ff3b"/><stop offset="0.811" stop-color="#fffe00"/><stop offset="0.987" stop-color="#ff7500"/><stop offset="0.997" stop-color="#ff6e00"/></linearGradient>
<linearGradient id="gR37" gradientUnits="userSpaceOnUse" x1="372.2" x2="565.7" y1="0" y2="0"><stop offset="0" stop-color="#ff5600"/><stop offset="0.0879" stop-color="#ff9900"/><stop offset="0.165" stop-color="#ffeb00"/><stop offset="0.202" stop-color="#fbff04"/><stop offset="0.243" stop-color="#dfff20"/><stop offset="0.269" stop-color="#b8ff47"/><stop offset="0.295" stop-color="#77ff88"/><stop offset="0.326" stop-color="#0afff5"/><stop offset="0.331" stop-color="#00f7ff"/><stop offset="0.346" stop-color="#00ccff"/><stop offset="0.362" stop-color="#00b9ff"/><stop offset="0.382" stop-color="#00beff"/><stop offset="0.439" stop-color="#00e2ff"/><stop offset="0.558" stop-color="#00feff"/><stop offset="0.636" stop-color="#0efff1"/><stop offset="0.661" stop-color="#28ffd7"/><stop offset="0.718" stop-color="#91ff6e"/><stop offset="0.786" stop-color="#d6ff29"/><stop offset="0.822" stop-color="#fffd00"/><stop offset="0.982" stop-color="#ff7100"/><stop offset="0.997" stop-color="#ff6700"/></linearGradient>
<linearGradient id="gR38" gradientUnits="userSpaceOnUse" x1="372.2" x2="565.7" y1="0" y2="0"><stop offset="0" stop-color="#ff5200"/><stop offset="0.093" stop-color="#ff9c00"/><stop offset="0.171" stop-color="#ffee00"/><stop offset="0.202" stop-color="#fbff04"/><stop offset="0.243" stop-color="#dcff23"/><stop offset="0.269" stop-color="#afff50"/><stop offset="0.295" stop-color="#69ff96"/><stop offset="0.326" stop-color="#00fbff"/><stop offset="0.346" stop-color="#00c0ff"/><stop offset="0.362" stop-color="#00adff"/><stop offset="0.382" stop-color="#00afff"/><stop offset="0.45" stop-color="#00dbff"/><stop offset="0.543" stop-color="#00faff"/><stop offset="0.636" stop-color="#08fff7"/><stop offset="0.661" stop-color="#1fffe0"/><stop offset="0.718" stop-color="#84ff7b"/><stop offset="0.791" stop-color="#d3ff2c"/><stop offset="0.827" stop-color="#ffff00"/><stop offset="0.977" stop-color="#ff6e00"/><stop offset="0.997" stop-color="#ff6000"/></linearGradient>
<linearGradient id="gR39" gradientUnits="userSpaceOnUse" x1="372.2" x2="565.7" y1="0" y2="0"><stop offset="0" stop-color="#ff4e00"/><stop offset="0.093" stop-color="#ff9a00"/><stop offset="0.176" stop-color="#fff100"/><stop offset="0.202" stop-color="#fbff04"/><stop offset="0.243" stop-color="#d9ff26"/><stop offset="0.269" stop-color="#a8ff57"/><stop offset="0.295" stop-color="#5dffa2"/><stop offset="0.32" stop-color="#01fffe"/><stop offset="0.341" stop-color="#00c1ff"/><stop offset="0.357" stop-color="#00a6ff"/><stop offset="0.377" stop-color="#00a0ff"/><stop offset="0.512" stop-color="#00efff"/><stop offset="0.594" stop-color="#00feff"/><stop offset="0.646" stop-color="#09fff6"/><stop offset="0.672" stop-color="#27ffd8"/><stop offset="0.718" stop-color="#7aff85"/><stop offset="0.796" stop-color="#d2ff2d"/><stop offset="0.832" stop-color="#feff01"/><stop offset="0.91" stop-color="#ffac00"/><stop offset="0.977" stop-color="#ff6800"/><stop offset="0.997" stop-color="#ff5a00"/></linearGradient>
<linearGradient id="gR40" gradientUnits="userSpaceOnUse" x1="372.2" x2="565.7" y1="0" y2="0"><stop offset="0" stop-color="#ff4900"/><stop offset="0.0982" stop-color="#ff9d00"/><stop offset="0.181" stop-color="#fff500"/><stop offset="0.202" stop-color="#faff05"/><stop offset="0.243" stop-color="#d6ff29"/><stop offset="0.269" stop-color="#a1ff5e"/><stop offset="0.3" stop-color="#41ffbe"/><stop offset="0.315" stop-color="#09fff6"/><stop offset="0.32" stop-color="#00f6ff"/><stop offset="0.341" stop-color="#00b7ff"/><stop offset="0.357" stop-color="#009cff"/><stop offset="0.377" stop-color="#0096ff"/><stop offset="0.522" stop-color="#00eeff"/><stop offset="0.589" stop-color="#00fcff"/><stop offset="0.646" stop-color="#03fffc"/><stop offset="0.672" stop-color="#1effe1"/><stop offset="0.718" stop-color="#70ff8f"/><stop offset="0.796" stop-color="#caff35"/><stop offset="0.837" stop-color="#fdff02"/><stop offset="0.899" stop-color="#ffb900"/><stop offset="0.972" stop-color="#ff6600"/><stop offset="0.997" stop-color="#ff5400"/></linearGradient>
<linearGradient id="gR41" gradientUnits="userSpaceOnUse" x1="372.2" x2="565.7" y1="0" y2="0"><stop offset="0" stop-color="#ff4400"/><stop offset="0.0982" stop-color="#ff9b00"/><stop offset="0.186" stop-color="#fff800"/><stop offset="0.212" stop-color="#f2ff0d"/><stop offset="0.243" stop-color="#d2ff2d"/><stop offset="0.269" stop-color="#9aff65"/><stop offset="0.3" stop-color="#38ffc7"/><stop offset="0.315" stop-color="#01fffe"/><stop offset="0.341" stop-color="#00afff"/><stop offset="0.357" stop-color="#0094ff"/><stop offset="0.377" stop-color="#008dff"/><stop offset="0.475" stop-color="#00c8ff"/><stop offset="0.522" stop-color="#00e7ff"/><stop offset="0.594" stop-color="#00faff"/><stop offset="0.651" stop-color="#02fffd"/><stop offset="0.677" stop-color="#20ffdf"/><stop offset="0.724" stop-color="#6eff91"/><stop offset="0.796" stop-color="#c3ff3c"/><stop offset="0.842" stop-color="#feff01"/><stop offset="0.972" stop-color="#ff6200"/><stop offset="0.997" stop-color="#ff4f00"/></linearGradient>
<linearGradient id="gR42" gradientUnits="userSpaceOnUse" x1="372.2" x2="565.7" y1="0" y2="0"><stop offset="0" stop-color="#ff3f00"/><stop offset="0.0982" stop-color="#ff9900"/><stop offset="0.191" stop-color="#fffc00"/><stop offset="0.233" stop-color="#ddff22"/><stop offset="0.258" stop-color="#afff50"/><stop offset="0.289" stop-color="#55ffaa"/><stop offset="0.31" stop-color="#0dfff2"/><stop offset="0.315" stop-color="#00f9ff"/><stop offset="0.341" stop-color="#00aaff"/><stop offset="0.357" stop-color="#008fff"/><stop offset="0.377" stop-color="#0086ff"/><stop offset="0.465" stop-color="#00b6ff"/><stop offset="0.522" stop-color="#00deff"/><stop offset="0.615" stop-color="#00f9ff"/><stop offset="0.656" stop-color="#02fffd"/><stop offset="0.687" stop-color="#2bffd4"/><stop offset="0.729" stop-color="#6bff94"/><stop offset="0.801" stop-color="#c4ff3b"/><stop offset="0.848" stop-color="#fffc00"/><stop offset="0.972" stop-color="#ff5f00"/><stop offset="0.997" stop-color="#ff4a00"/></linearGradient>
<linearGradient id="gR43" gradientUnits="userSpaceOnUse" x1="372.2" x2="565.7" y1="0" y2="0"><stop offset="0" stop-color="#ff3a00"/><stop offset="0.0982" stop-color="#ff9700"/><stop offset="0.191" stop-color="#fffc00"/><stop offset="0.233" stop-color="#daff25"/><stop offset="0.258" stop-color="#abff54"/><stop offset="0.289" stop-color="#50ffaf"/><stop offset="0.31" stop-color="#08fff7"/><stop offset="0.315" stop-color="#00f5ff"/><stop offset="0.341" stop-color="#00a7ff"/><stop offset="0.357" stop-color="#008bff"/><stop offset="0.377" stop-color="#0080ff"/><stop offset="0.46" stop-color="#00a9ff"/><stop offset="0.522" stop-color="#00d5ff"/><stop offset="0.615" stop-color="#00f7ff"/><stop offset="0.661" stop-color="#04fffb"/><stop offset="0.703" stop-color="#3effc1"/><stop offset="0.811" stop-color="#ceff31"/><stop offset="0.848" stop-color="#fffd00"/><stop offset="0.972" stop-color="#ff5d00"/><stop offset="0.997" stop-color="#ff4500"/></linearGradient>
<linearGradient id="gR44" gradientUnits="userSpaceOnUse" x1="372.2" x2="565.7" y1="0" y2="0"><stop offset="0" stop-color="#ff3500"/><stop offset="0.0982" stop-color="#ff9500"/><stop offset="0.196" stop-color="#fdff02"/><stop offset="0.238" stop-color="#d0ff2f"/><stop offset="0.264" stop-color="#9cff63"/><stop offset="0.295" stop-color="#3dffc2"/><stop offset="0.31" stop-color="#07fff8"/><stop offset="0.32" stop-color="#00e2ff"/><stop offset="0.341" stop-color="#00a6ff"/><stop offset="0.357" stop-color="#0089ff"/><stop offset="0.377" stop-color="#007dff"/><stop offset="0.455" stop-color="#009dff"/><stop offset="0.522" stop-color="#00cdff"/><stop offset="0.584" stop-color="#00eaff"/><stop offset="0.625" stop-color="#00f7ff"/><stop offset="0.661" stop-color="#02fffd"/><stop offset="0.703" stop-color="#39ffc6"/><stop offset="0.801" stop-color="#baff45"/><stop offset="0.848" stop-color="#fffd00"/><stop offset="0.972" stop-color="#ff5900"/><stop offset="0.997" stop-color="#ff4000"/></linearGradient>
<linearGradient id="gR45" gradientUnits="userSpaceOnUse" x1="372.2" x2="565.7" y1="0" y2="0"><stop offset="0" stop-color="#ff2f00"/><stop offset="0.093" stop-color="#ff8d00"/><stop offset="0.196" stop-color="#fdff02"/><stop offset="0.238" stop-color="#cfff30"/><stop offset="0.264" stop-color="#9bff64"/><stop offset="0.295" stop-color="#3effc1"/><stop offset="0.31" stop-color="#08fff7"/><stop offset="0.315" stop-color="#00f6ff"/><stop offset="0.341" stop-color="#00a7ff"/><stop offset="0.357" stop-color="#008aff"/><stop offset="0.377" stop-color="#007dff"/><stop offset="0.45" stop-color="#0094ff"/><stop offset="0.522" stop-color="#00c6ff"/><stop offset="0.568" stop-color="#00daff"/><stop offset="0.615" stop-color="#00f7ff"/><stop offset="0.661" stop-color="#01fffe"/><stop offset="0.713" stop-color="#43ffbc"/><stop offset="0.791" stop-color="#a7ff58"/><stop offset="0.848" stop-color="#fffb00"/><stop offset="0.904" stop-color="#ffab00"/><stop offset="0.977" stop-color="#ff4f00"/><stop offset="0.997" stop-color="#ff3a00"/></linearGradient>
<linearGradient id="gR46" gradientUnits="userSpaceOnUse" x1="372.2" x2="565.7" y1="0" y2="0"><stop offset="0" stop-color="#ff2900"/><stop offset="0.0827" stop-color="#ff8000"/><stop offset="0.196" stop-color="#fdff02"/><stop offset="0.238" stop-color="#cfff30"/><stop offset="0.264" stop-color="#9cff63"/><stop offset="0.295" stop-color="#41ffbe"/><stop offset="0.315" stop-color="#00fbff"/><stop offset="0.341" stop-color="#00acff"/><stop offset="0.357" stop-color="#008eff"/><stop offset="0.382" stop-color="#007fff"/><stop offset="0.45" stop-color="#0092ff"/><stop offset="0.522" stop-color="#00c3ff"/><stop offset="0.568" stop-color="#00d8ff"/><stop offset="0.615" stop-color="#00f8ff"/><stop offset="0.661" stop-color="#03fffc"/><stop offset="0.713" stop-color="#3fffc0"/><stop offset="0.791" stop-color="#a6ff59"/><stop offset="0.842" stop-color="#fdff02"/><stop offset="0.904" stop-color="#ffa300"/><stop offset="0.966" stop-color="#ff5100"/><stop offset="0.997" stop-color="#ff3300"/></linearGradient>
<linearGradient id="gR47" gradientUnits="userSpaceOnUse" x1="372.2" x2="565.7" y1="0" y2="0"><stop offset="0" stop-color="#ff2300"/><stop offset="0.0672" stop-color="#ff6a00"/><stop offset="0.196" stop-color="#fdff02"/><stop offset="0.243" stop-color="#c8ff37"/><stop offset="0.269" stop-color="#92ff6d"/><stop offset="0.305" stop-color="#26ffd9"/><stop offset="0.315" stop-color="#04fffb"/><stop offset="0.346" stop-color="#00abff"/><stop offset="0.367" stop-color="#008cff"/><stop offset="0.398" stop-color="#0082ff"/><stop offset="0.455" stop-color="#0095ff"/><stop offset="0.527" stop-color="#00c5ff"/><stop offset="0.574" stop-color="#00deff"/><stop offset="0.62" stop-color="#00fbff"/><stop offset="0.661" stop-color="#08fff7"/><stop offset="0.708" stop-color="#36ffc9"/><stop offset="0.801" stop-color="#b7ff48"/><stop offset="0.842" stop-color="#fffe00"/><stop offset="0.894" stop-color="#ffa600"/><stop offset="0.961" stop-color="#ff4b00"/><stop offset="0.997" stop-color="#ff2a00"/></linearGradient>
<linearGradient id="gR48" gradientUnits="userSpaceOnUse" x1="372.2" x2="565.7" y1="0" y2="0"><stop offset="0" stop-color="#ff1d00"/><stop offset="0.0568" stop-color="#ff5900"/><stop offset="0.196" stop-color="#feff01"/><stop offset="0.243" stop-color="#caff35"/><stop offset="0.269" stop-color="#97ff68"/><stop offset="0.305" stop-color="#31ffce"/><stop offset="0.32" stop-color="#00ffff"/><stop offset="0.346" stop-color="#00b8ff"/><stop offset="0.367" stop-color="#0097ff"/><stop offset="0.398" stop-color="#0087ff"/><stop offset="0.444" stop-color="#0092ff"/><stop offset="0.543" stop-color="#00cfff"/><stop offset="0.625" stop-color="#00ffff"/><stop offset="0.682" stop-color="#1dffe2"/><stop offset="0.729" stop-color="#50ffaf"/><stop offset="0.817" stop-color="#d4ff2b"/><stop offset="0.837" stop-color="#fbff04"/><stop offset="0.91" stop-color="#ff8100"/><stop offset="0.961" stop-color="#ff3d00"/><stop offset="0.997" stop-color="#ff2100"/></linearGradient>
<linearGradient id="gR49" gradientUnits="userSpaceOnUse" x1="372.2" x2="565.7" y1="0" y2="0"><stop offset="0" stop-color="#ff1700"/><stop offset="0.0465" stop-color="#ff4700"/><stop offset="0.119" stop-color="#ffa300"/><stop offset="0.196" stop-color="#fdff02"/><stop offset="0.243" stop-color="#cdff32"/><stop offset="0.274" stop-color="#91ff6e"/><stop offset="0.315" stop-color="#1dffe2"/><stop offset="0.326" stop-color="#00fdff"/><stop offset="0.351" stop-color="#00bcff"/><stop offset="0.377" stop-color="#0099ff"/><stop offset="0.408" stop-color="#008dff"/><stop offset="0.46" stop-color="#00a0ff"/><stop offset="0.62" stop-color="#00ffff"/><stop offset="0.703" stop-color="#31ffce"/><stop offset="0.749" stop-color="#71ff8e"/><stop offset="0.822" stop-color="#e1ff1e"/><stop offset="0.837" stop-color="#fffe00"/><stop offset="0.899" stop-color="#ff8500"/><stop offset="0.946" stop-color="#ff4000"/><stop offset="0.987" stop-color="#ff1e00"/><stop offset="0.997" stop-color="#ff1900"/></linearGradient>
<linearGradient id="gR50" gradientUnits="userSpaceOnUse" x1="372.2" x2="565.7" y1="0" y2="0"><stop offset="0" stop-color="#ff1100"/><stop offset="0.0413" stop-color="#ff3b00"/><stop offset="0.109" stop-color="#ff9600"/><stop offset="0.171" stop-color="#ffe100"/><stop offset="0.196" stop-color="#fdff02"/><stop offset="0.248" stop-color="#caff35"/><stop offset="0.279" stop-color="#8dff72"/><stop offset="0.32" stop-color="#1cffe3"/><stop offset="0.331" stop-color="#00feff"/><stop offset="0.357" stop-color="#00c3ff"/><stop offset="0.382" stop-color="#00a2ff"/><stop offset="0.413" stop-color="#0096ff"/><stop offset="0.475" stop-color="#00afff"/><stop offset="0.615" stop-color="#00fdff"/><stop offset="0.708" stop-color="#39ffc6"/><stop offset="0.755" stop-color="#7fff80"/><stop offset="0.822" stop-color="#e8ff17"/><stop offset="0.832" stop-color="#fdff02"/><stop offset="0.915" stop-color="#ff5e00"/><stop offset="0.961" stop-color="#ff2400"/><stop offset="0.997" stop-color="#ff1200"/></linearGradient>
<linearGradient id="gR51" gradientUnits="userSpaceOnUse" x1="372.2" x2="565.7" y1="0" y2="0"><stop offset="0" stop-color="#ff0c00"/><stop offset="0.0413" stop-color="#ff3700"/><stop offset="0.109" stop-color="#ff9300"/><stop offset="0.171" stop-color="#ffe100"/><stop offset="0.196" stop-color="#fdff02"/><stop offset="0.248" stop-color="#cdff32"/><stop offset="0.284" stop-color="#89ff76"/><stop offset="0.336" stop-color="#02fffd"/><stop offset="0.367" stop-color="#00c4ff"/><stop offset="0.398" stop-color="#00a6ff"/><stop offset="0.439" stop-color="#00a7ff"/><stop offset="0.62" stop-color="#01fffe"/><stop offset="0.708" stop-color="#3dffc2"/><stop offset="0.749" stop-color="#7dff82"/><stop offset="0.827" stop-color="#fbff04"/><stop offset="0.92" stop-color="#ff4d00"/><stop offset="0.966" stop-color="#ff1a00"/><stop offset="0.997" stop-color="#ff0c00"/></linearGradient>
<linearGradient id="gR52" gradientUnits="userSpaceOnUse" x1="372.2" x2="565.7" y1="0" y2="0"><stop offset="0" stop-color="#ff0900"/><stop offset="0.0465" stop-color="#ff3a00"/><stop offset="0.119" stop-color="#ff9c00"/><stop offset="0.196" stop-color="#feff01"/><stop offset="0.253" stop-color="#c8ff37"/><stop offset="0.289" stop-color="#86ff79"/><stop offset="0.341" stop-color="#08fff7"/><stop offset="0.351" stop-color="#00f1ff"/><stop offset="0.382" stop-color="#00c5ff"/><stop offset="0.413" stop-color="#00b2ff"/><stop offset="0.475" stop-color="#00bcff"/><stop offset="0.589" stop-color="#00efff"/><stop offset="0.625" stop-color="#03fffc"/><stop offset="0.713" stop-color="#4bffb4"/><stop offset="0.822" stop-color="#fdff02"/><stop offset="0.92" stop-color="#ff4900"/><stop offset="0.966" stop-color="#ff1800"/><stop offset="0.997" stop-color="#ff0900"/></linearGradient>
<linearGradient id="gR53" gradientUnits="userSpaceOnUse" x1="372.2" x2="565.7" y1="0" y2="0"><stop offset="0" stop-color="#ff0500"/><stop offset="0.0465" stop-color="#ff3700"/><stop offset="0.196" stop-color="#ffff00"/><stop offset="0.253" stop-color="#ccff33"/><stop offset="0.289" stop-color="#8fff70"/><stop offset="0.351" stop-color="#07fff8"/><stop offset="0.362" stop-color="#00f4ff"/><stop offset="0.398" stop-color="#00cdff"/><stop offset="0.439" stop-color="#00c1ff"/><stop offset="0.506" stop-color="#00ceff"/><stop offset="0.589" stop-color="#00eeff"/><stop offset="0.625" stop-color="#02fffd"/><stop offset="0.708" stop-color="#4effb1"/><stop offset="0.765" stop-color="#a9ff56"/><stop offset="0.817" stop-color="#fffd00"/><stop offset="0.92" stop-color="#ff4800"/><stop offset="0.972" stop-color="#ff1600"/><stop offset="0.997" stop-color="#ff0700"/></linearGradient>
<linearGradient id="gR54" gradientUnits="userSpaceOnUse" x1="372.2" x2="565.7" y1="0" y2="0"><stop offset="0" stop-color="#ff0300"/><stop offset="0.0517" stop-color="#ff3c00"/><stop offset="0.196" stop-color="#fffd00"/><stop offset="0.253" stop-color="#d0ff2f"/><stop offset="0.289" stop-color="#99ff66"/><stop offset="0.357" stop-color="#14ffeb"/><stop offset="0.372" stop-color="#00fdff"/><stop offset="0.408" stop-color="#00ddff"/><stop offset="0.47" stop-color="#00cfff"/><stop offset="0.522" stop-color="#00daff"/><stop offset="0.589" stop-color="#00f0ff"/><stop offset="0.625" stop-color="#03fffc"/><stop offset="0.708" stop-color="#59ffa6"/><stop offset="0.78" stop-color="#d0ff2f"/><stop offset="0.806" stop-color="#ffff00"/><stop offset="0.884" stop-color="#ff8100"/><stop offset="0.92" stop-color="#ff4800"/><stop offset="0.992" stop-color="#ff0a00"/><stop offset="0.997" stop-color="#ff0700"/></linearGradient>
<linearGradient id="gR55" gradientUnits="userSpaceOnUse" x1="372.2" x2="565.7" y1="0" y2="0"><stop offset="0" stop-color="#ff0000"/><stop offset="0.0568" stop-color="#ff4100"/><stop offset="0.196" stop-color="#fffa00"/><stop offset="0.238" stop-color="#e5ff1a"/><stop offset="0.279" stop-color="#b5ff4a"/><stop offset="0.362" stop-color="#25ffda"/><stop offset="0.398" stop-color="#00fdff"/><stop offset="0.455" stop-color="#00e1ff"/><stop offset="0.512" stop-color="#00ddff"/><stop offset="0.584" stop-color="#00f5ff"/><stop offset="0.62" stop-color="#04fffb"/><stop offset="0.687" stop-color="#4cffb3"/><stop offset="0.749" stop-color="#a7ff58"/><stop offset="0.796" stop-color="#faff05"/><stop offset="0.817" stop-color="#ffdf00"/><stop offset="0.879" stop-color="#ff8600"/><stop offset="0.92" stop-color="#ff4700"/><stop offset="0.997" stop-color="#ff0600"/></linearGradient>
<linearGradient id="gR56" gradientUnits="userSpaceOnUse" x1="372.2" x2="565.7" y1="0" y2="0"><stop offset="0" stop-color="#fd0000"/><stop offset="0.0517" stop-color="#ff3800"/><stop offset="0.196" stop-color="#fff400"/><stop offset="0.217" stop-color="#fbff04"/><stop offset="0.269" stop-color="#cdff32"/><stop offset="0.367" stop-color="#3affc5"/><stop offset="0.419" stop-color="#0afff5"/><stop offset="0.444" stop-color="#00f9ff"/><stop offset="0.506" stop-color="#00e9ff"/><stop offset="0.584" stop-color="#02fffd"/><stop offset="0.615" stop-color="#0bfff4"/><stop offset="0.677" stop-color="#4cffb3"/><stop offset="0.765" stop-color="#cfff30"/><stop offset="0.791" stop-color="#fdff02"/><stop offset="0.832" stop-color="#ffbe00"/><stop offset="0.884" stop-color="#ff7600"/><stop offset="0.92" stop-color="#ff4500"/><stop offset="0.997" stop-color="#ff0600"/></linearGradient>
<linearGradient id="gR57" gradientUnits="userSpaceOnUse" x1="372.2" x2="565.7" y1="0" y2="0"><stop offset="0" stop-color="#fb0000"/><stop offset="0.0362" stop-color="#ff2400"/><stop offset="0.191" stop-color="#ffe600"/><stop offset="0.227" stop-color="#fcff03"/><stop offset="0.284" stop-color="#c7ff38"/><stop offset="0.377" stop-color="#4cffb3"/><stop offset="0.444" stop-color="#12ffed"/><stop offset="0.491" stop-color="#00fdff"/><stop offset="0.537" stop-color="#06fff9"/><stop offset="0.62" stop-color="#23ffdc"/><stop offset="0.672" stop-color="#57ffa8"/><stop offset="0.786" stop-color="#fffd00"/><stop offset="0.842" stop-color="#ffa600"/><stop offset="0.915" stop-color="#ff4600"/><stop offset="0.997" stop-color="#ff0500"/></linearGradient>
<linearGradient id="gR58" gradientUnits="userSpaceOnUse" x1="372.2" x2="565.7" y1="0" y2="0"><stop offset="0" stop-color="#f90000"/><stop offset="0.0155" stop-color="#ff0a00"/><stop offset="0.176" stop-color="#ffcc00"/><stop offset="0.238" stop-color="#feff01"/><stop offset="0.305" stop-color="#c0ff3f"/><stop offset="0.403" stop-color="#50ffaf"/><stop offset="0.465" stop-color="#1fffe0"/><stop offset="0.512" stop-color="#14ffeb"/><stop offset="0.62" stop-color="#3bffc4"/><stop offset="0.667" stop-color="#66ff99"/><stop offset="0.775" stop-color="#ffff00"/><stop offset="0.889" stop-color="#ff5b00"/><stop offset="0.941" stop-color="#ff2e00"/><stop offset="0.997" stop-color="#ff0300"/></linearGradient>
<linearGradient id="gR59" gradientUnits="userSpaceOnUse" x1="372.2" x2="565.7" y1="0" y2="0"><stop offset="0" stop-color="#f60000"/><stop offset="0.0155" stop-color="#ff0800"/><stop offset="0.15" stop-color="#ffaa00"/><stop offset="0.248" stop-color="#fffd00"/><stop offset="0.315" stop-color="#c9ff36"/><stop offset="0.45" stop-color="#43ffbc"/><stop offset="0.496" stop-color="#2effd1"/><stop offset="0.553" stop-color="#37ffc8"/><stop offset="0.646" stop-color="#67ff98"/><stop offset="0.693" stop-color="#a0ff5f"/><stop offset="0.765" stop-color="#fffc00"/><stop offset="0.827" stop-color="#ffa800"/><stop offset="0.879" stop-color="#ff5a00"/><stop offset="0.935" stop-color="#ff2c00"/><stop offset="0.997" stop-color="#ff0100"/></linearGradient>
<linearGradient id="gR60" gradientUnits="userSpaceOnUse" x1="372.2" x2="565.7" y1="0" y2="0"><stop offset="0" stop-color="#f30000"/><stop offset="0.0155" stop-color="#ff0400"/><stop offset="0.093" stop-color="#ff6100"/><stop offset="0.165" stop-color="#ffaf00"/><stop offset="0.264" stop-color="#fffe00"/><stop offset="0.32" stop-color="#d8ff27"/><stop offset="0.455" stop-color="#5bffa4"/><stop offset="0.501" stop-color="#48ffb7"/><stop offset="0.553" stop-color="#50ffaf"/><stop offset="0.651" stop-color="#85ff7a"/><stop offset="0.698" stop-color="#bfff40"/><stop offset="0.749" stop-color="#fffe00"/><stop offset="0.817" stop-color="#ffae00"/><stop offset="0.868" stop-color="#ff5800"/><stop offset="0.92" stop-color="#ff2e00"/><stop offset="0.997" stop-color="#fd0000"/></linearGradient>
<linearGradient id="gR61" gradientUnits="userSpaceOnUse" x1="372.2" x2="565.7" y1="0" y2="0"><stop offset="0" stop-color="#ee0000"/><stop offset="0.0155" stop-color="#ff0000"/><stop offset="0.0879" stop-color="#ff5300"/><stop offset="0.171" stop-color="#ffa800"/><stop offset="0.258" stop-color="#fff000"/><stop offset="0.295" stop-color="#fcff03"/><stop offset="0.367" stop-color="#c6ff39"/><stop offset="0.46" stop-color="#73ff8c"/><stop offset="0.506" stop-color="#64ff9b"/><stop offset="0.558" stop-color="#6eff91"/><stop offset="0.656" stop-color="#a3ff5c"/><stop offset="0.734" stop-color="#fffe00"/><stop offset="0.817" stop-color="#ffa100"/><stop offset="0.868" stop-color="#ff4a00"/><stop offset="0.92" stop-color="#ff2600"/><stop offset="0.992" stop-color="#fc0000"/><stop offset="0.997" stop-color="#f90000"/></linearGradient>
<linearGradient id="gR62" gradientUnits="userSpaceOnUse" x1="372.2" x2="565.7" y1="0" y2="0"><stop offset="0" stop-color="#e90000"/><stop offset="0.0258" stop-color="#ff0500"/><stop offset="0.093" stop-color="#ff4a00"/><stop offset="0.217" stop-color="#ffc900"/><stop offset="0.274" stop-color="#ffef00"/><stop offset="0.315" stop-color="#fcff03"/><stop offset="0.393" stop-color="#c5ff3a"/><stop offset="0.465" stop-color="#8bff74"/><stop offset="0.517" stop-color="#81ff7e"/><stop offset="0.579" stop-color="#93ff6c"/><stop offset="0.661" stop-color="#c0ff3f"/><stop offset="0.718" stop-color="#fffb00"/><stop offset="0.806" stop-color="#ff9f00"/><stop offset="0.868" stop-color="#ff3e00"/><stop offset="0.92" stop-color="#ff1e00"/><stop offset="0.987" stop-color="#fb0000"/><stop offset="0.997" stop-color="#f60000"/></linearGradient>
<linearGradient id="gR63" gradientUnits="userSpaceOnUse" x1="372.2" x2="565.7" y1="0" y2="0"><stop offset="0" stop-color="#e30000"/><stop offset="0.031" stop-color="#ff0200"/><stop offset="0.134" stop-color="#ff6500"/><stop offset="0.227" stop-color="#ffc800"/><stop offset="0.284" stop-color="#ffe800"/><stop offset="0.341" stop-color="#fdff02"/><stop offset="0.465" stop-color="#a9ff56"/><stop offset="0.522" stop-color="#a0ff5f"/><stop offset="0.589" stop-color="#b5ff4a"/><stop offset="0.661" stop-color="#d9ff26"/><stop offset="0.698" stop-color="#fffe00"/><stop offset="0.791" stop-color="#ffa300"/><stop offset="0.868" stop-color="#ff3300"/><stop offset="0.925" stop-color="#ff1400"/><stop offset="0.977" stop-color="#fc0000"/><stop offset="0.997" stop-color="#f20000"/></linearGradient>
<linearGradient id="gR64" gradientUnits="userSpaceOnUse" x1="372.2" x2="565.7" y1="0" y2="0"><stop offset="0" stop-color="#dc0000"/><stop offset="0.0413" stop-color="#ff0100"/><stop offset="0.124" stop-color="#ff4600"/><stop offset="0.212" stop-color="#ffae00"/><stop offset="0.264" stop-color="#ffd200"/><stop offset="0.377" stop-color="#fcff03"/><stop offset="0.465" stop-color="#c9ff36"/><stop offset="0.527" stop-color="#c4ff3b"/><stop offset="0.615" stop-color="#dcff23"/><stop offset="0.667" stop-color="#f8ff07"/><stop offset="0.687" stop-color="#fff200"/><stop offset="0.775" stop-color="#ffa600"/><stop offset="0.863" stop-color="#ff2c00"/><stop offset="0.915" stop-color="#ff1100"/><stop offset="0.966" stop-color="#fb0000"/><stop offset="0.997" stop-color="#ee0000"/></linearGradient>
<linearGradient id="gR65" gradientUnits="userSpaceOnUse" x1="372.2" x2="565.7" y1="0" y2="0"><stop offset="0" stop-color="#d40000"/><stop offset="0.0568" stop-color="#ff0100"/><stop offset="0.119" stop-color="#ff2d00"/><stop offset="0.207" stop-color="#ff9800"/><stop offset="0.258" stop-color="#ffbe00"/><stop offset="0.393" stop-color="#fff100"/><stop offset="0.434" stop-color="#faff05"/><stop offset="0.481" stop-color="#edff12"/><stop offset="0.563" stop-color="#f0ff0f"/><stop offset="0.63" stop-color="#fffa00"/><stop offset="0.672" stop-color="#ffe400"/><stop offset="0.744" stop-color="#ffae00"/><stop offset="0.775" stop-color="#ff9400"/><stop offset="0.858" stop-color="#ff2500"/><stop offset="0.894" stop-color="#ff1100"/><stop offset="0.956" stop-color="#fa0000"/><stop offset="0.997" stop-color="#ea0000"/></linearGradient>
<linearGradient id="gR66" gradientUnits="userSpaceOnUse" x1="372.2" x2="565.7" y1="0" y2="0"><stop offset="0" stop-color="#cc0000"/><stop offset="0.0827" stop-color="#ff0200"/><stop offset="0.124" stop-color="#ff1f00"/><stop offset="0.207" stop-color="#ff8100"/><stop offset="0.258" stop-color="#ffa600"/><stop offset="0.465" stop-color="#ffe500"/><stop offset="0.574" stop-color="#ffdf00"/><stop offset="0.646" stop-color="#ffcf00"/><stop offset="0.77" stop-color="#ff8500"/><stop offset="0.853" stop-color="#ff1f00"/><stop offset="0.889" stop-color="#ff0b00"/><stop offset="0.941" stop-color="#fa0000"/><stop offset="0.997" stop-color="#e60000"/></linearGradient>
<linearGradient id="gR67" gradientUnits="userSpaceOnUse" x1="372.2" x2="565.7" y1="0" y2="0"><stop offset="0" stop-color="#c30000"/><stop offset="0.109" stop-color="#ff0100"/><stop offset="0.186" stop-color="#ff5000"/><stop offset="0.253" stop-color="#ff8400"/><stop offset="0.45" stop-color="#ffb500"/><stop offset="0.636" stop-color="#ffa800"/><stop offset="0.76" stop-color="#ff7300"/><stop offset="0.817" stop-color="#ff3900"/><stop offset="0.868" stop-color="#ff0b00"/><stop offset="0.925" stop-color="#f90000"/><stop offset="0.997" stop-color="#e20000"/></linearGradient>
<linearGradient id="gR68" gradientUnits="userSpaceOnUse" x1="372.2" x2="565.7" y1="0" y2="0"><stop offset="0" stop-color="#bb0000"/><stop offset="0.129" stop-color="#ff0100"/><stop offset="0.238" stop-color="#ff5900"/><stop offset="0.346" stop-color="#ff7900"/><stop offset="0.465" stop-color="#ff8300"/><stop offset="0.661" stop-color="#ff7700"/><stop offset="0.775" stop-color="#ff4e00"/><stop offset="0.863" stop-color="#ff0700"/><stop offset="0.904" stop-color="#f90000"/><stop offset="0.997" stop-color="#de0000"/></linearGradient>
<linearGradient id="gR69" gradientUnits="userSpaceOnUse" x1="372.2" x2="565.7" y1="0" y2="0"><stop offset="0" stop-color="#b30000"/><stop offset="0.134" stop-color="#f30000"/><stop offset="0.16" stop-color="#ff0600"/><stop offset="0.258" stop-color="#ff3d00"/><stop offset="0.388" stop-color="#ff5600"/><stop offset="0.574" stop-color="#ff4b00"/><stop offset="0.661" stop-color="#ff4e00"/><stop offset="0.775" stop-color="#ff3600"/><stop offset="0.868" stop-color="#fe0000"/><stop offset="0.997" stop-color="#da0000"/></linearGradient>
<linearGradient id="gR70" gradientUnits="userSpaceOnUse" x1="372.2" x2="565.7" y1="0" y2="0"><stop offset="0" stop-color="#ab0000"/><stop offset="0.202" stop-color="#ff0100"/><stop offset="0.269" stop-color="#ff1d00"/><stop offset="0.388" stop-color="#ff2e00"/><stop offset="0.532" stop-color="#ff1d00"/><stop offset="0.584" stop-color="#ff2100"/><stop offset="0.677" stop-color="#ff2b00"/><stop offset="0.796" stop-color="#ff1c00"/><stop offset="0.863" stop-color="#fc0000"/><stop offset="0.997" stop-color="#d70000"/></linearGradient>
<linearGradient id="gR71" gradientUnits="userSpaceOnUse" x1="372.2" x2="565.7" y1="0" y2="0"><stop offset="0" stop-color="#a30000"/><stop offset="0.181" stop-color="#e60000"/><stop offset="0.305" stop-color="#ff0200"/><stop offset="0.393" stop-color="#ff0a00"/><stop offset="0.486" stop-color="#f80000"/><stop offset="0.558" stop-color="#f50000"/><stop offset="0.62" stop-color="#ff0400"/><stop offset="0.682" stop-color="#ff0f00"/><stop offset="0.77" stop-color="#ff1200"/><stop offset="0.806" stop-color="#ff0e00"/><stop offset="0.858" stop-color="#fa0000"/><stop offset="0.997" stop-color="#d40000"/></linearGradient>
<linearGradient id="gR72" gradientUnits="userSpaceOnUse" x1="372.2" x2="565.7" y1="0" y2="0"><stop offset="0" stop-color="#9b0000"/><stop offset="0.186" stop-color="#da0000"/><stop offset="0.393" stop-color="#eb0000"/><stop offset="0.517" stop-color="#d70000"/><stop offset="0.62" stop-color="#e80000"/><stop offset="0.667" stop-color="#f80000"/><stop offset="0.729" stop-color="#f60000"/><stop offset="0.77" stop-color="#ff0700"/><stop offset="0.811" stop-color="#ff0700"/><stop offset="0.863" stop-color="#f50000"/><stop offset="0.997" stop-color="#d10000"/></linearGradient>
<linearGradient id="gR73" gradientUnits="userSpaceOnUse" x1="372.2" x2="565.7" y1="0" y2="0"><stop offset="0" stop-color="#940000"/><stop offset="0.186" stop-color="#d20000"/><stop offset="0.274" stop-color="#cb0000"/><stop offset="0.398" stop-color="#d20000"/><stop offset="0.517" stop-color="#c10000"/><stop offset="0.625" stop-color="#d40000"/><stop offset="0.667" stop-color="#e60000"/><stop offset="0.718" stop-color="#df0000"/><stop offset="0.76" stop-color="#f60000"/><stop offset="0.786" stop-color="#ff0400"/><stop offset="0.842" stop-color="#fa0000"/><stop offset="0.997" stop-color="#ce0000"/></linearGradient>
<linearGradient id="gR74" gradientUnits="userSpaceOnUse" x1="372.2" x2="565.7" y1="0" y2="0"><stop offset="0" stop-color="#8d0000"/><stop offset="0.191" stop-color="#ca0000"/><stop offset="0.264" stop-color="#b90000"/><stop offset="0.413" stop-color="#be0000"/><stop offset="0.517" stop-color="#b10000"/><stop offset="0.636" stop-color="#c60000"/><stop offset="0.672" stop-color="#ce0000"/><stop offset="0.724" stop-color="#ce0000"/><stop offset="0.765" stop-color="#eb0000"/><stop offset="0.791" stop-color="#ff0100"/><stop offset="0.842" stop-color="#f80000"/><stop offset="0.997" stop-color="#cb0000"/></linearGradient>
<linearGradient id="gR75" gradientUnits="userSpaceOnUse" x1="372.2" x2="565.7" y1="0" y2="0"><stop offset="0" stop-color="#870000"/><stop offset="0.191" stop-color="#c30000"/><stop offset="0.264" stop-color="#ae0000"/><stop offset="0.439" stop-color="#ae0000"/><stop offset="0.517" stop-color="#a70000"/><stop offset="0.599" stop-color="#b00000"/><stop offset="0.729" stop-color="#c10000"/><stop offset="0.765" stop-color="#db0000"/><stop offset="0.791" stop-color="#fc0000"/><stop offset="0.827" stop-color="#fb0000"/><stop offset="0.997" stop-color="#c80000"/></linearGradient>
<linearGradient id="gR76" gradientUnits="userSpaceOnUse" x1="372.2" x2="565.7" y1="0" y2="0"><stop offset="0" stop-color="#810000"/><stop offset="0.191" stop-color="#bc0000"/><stop offset="0.238" stop-color="#ab0000"/><stop offset="0.295" stop-color="#a70000"/><stop offset="0.475" stop-color="#a00000"/><stop offset="0.537" stop-color="#a50000"/><stop offset="0.651" stop-color="#a50000"/><stop offset="0.734" stop-color="#b90000"/><stop offset="0.765" stop-color="#cf0000"/><stop offset="0.791" stop-color="#f50000"/><stop offset="0.822" stop-color="#f90000"/><stop offset="0.997" stop-color="#c60000"/></linearGradient>
<linearGradient id="gR77" gradientUnits="userSpaceOnUse" x1="372.2" x2="565.7" y1="0" y2="0"><stop offset="0" stop-color="#800000"/><stop offset="0.093" stop-color="#980000"/><stop offset="0.191" stop-color="#b50000"/><stop offset="0.269" stop-color="#a10000"/><stop offset="0.47" stop-color="#9c0000"/><stop offset="0.537" stop-color="#a10000"/><stop offset="0.61" stop-color="#a00000"/><stop offset="0.672" stop-color="#9f0000"/><stop offset="0.749" stop-color="#bb0000"/><stop offset="0.796" stop-color="#ef0000"/><stop offset="0.832" stop-color="#f20000"/><stop offset="0.997" stop-color="#c30000"/></linearGradient>
<linearGradient id="gR78" gradientUnits="userSpaceOnUse" x1="372.2" x2="565.7" y1="0" y2="0"><stop offset="0" stop-color="#800000"/><stop offset="0.0568" stop-color="#870000"/><stop offset="0.191" stop-color="#ad0000"/><stop offset="0.274" stop-color="#9f0000"/><stop offset="0.455" stop-color="#9b0000"/><stop offset="0.527" stop-color="#9e0000"/><stop offset="0.584" stop-color="#a10000"/><stop offset="0.667" stop-color="#990000"/><stop offset="0.749" stop-color="#b80000"/><stop offset="0.801" stop-color="#e90000"/><stop offset="0.842" stop-color="#eb0000"/><stop offset="0.997" stop-color="#c10000"/></linearGradient>
<linearGradient id="gR79" gradientUnits="userSpaceOnUse" x1="372.2" x2="565.7" y1="0" y2="0"><stop offset="0" stop-color="#800000"/><stop offset="0.0672" stop-color="#840000"/><stop offset="0.191" stop-color="#a70000"/><stop offset="0.279" stop-color="#9e0000"/><stop offset="0.377" stop-color="#9d0000"/><stop offset="0.517" stop-color="#9b0000"/><stop offset="0.574" stop-color="#a10000"/><stop offset="0.661" stop-color="#970000"/><stop offset="0.749" stop-color="#b60000"/><stop offset="0.806" stop-color="#e30000"/><stop offset="0.858" stop-color="#e30000"/><stop offset="0.997" stop-color="#be0000"/></linearGradient>
<linearGradient id="gR80" gradientUnits="userSpaceOnUse" x1="372.2" x2="565.7" y1="0" y2="0"><stop offset="0" stop-color="#800000"/><stop offset="0.0827" stop-color="#840000"/><stop offset="0.191" stop-color="#a00000"/><stop offset="0.284" stop-color="#9e0000"/><stop offset="0.367" stop-color="#9d0000"/><stop offset="0.496" stop-color="#970000"/><stop offset="0.568" stop-color="#a10000"/><stop offset="0.651" stop-color="#960000"/><stop offset="0.739" stop-color="#af0000"/><stop offset="0.811" stop-color="#dd0000"/><stop offset="0.868" stop-color="#dc0000"/><stop offset="0.997" stop-color="#bb0000"/></linearGradient>
<linearGradient id="gR81" gradientUnits="userSpaceOnUse" x1="372.2" x2="565.7" y1="0" y2="0"><stop offset="0" stop-color="#800000"/><stop offset="0.0982" stop-color="#840000"/><stop offset="0.196" stop-color="#9b0000"/><stop offset="0.295" stop-color="#a00000"/><stop offset="0.367" stop-color="#9c0000"/><stop offset="0.45" stop-color="#960000"/><stop offset="0.543" stop-color="#9c0000"/><stop offset="0.656" stop-color="#960000"/><stop offset="0.749" stop-color="#b20000"/><stop offset="0.817" stop-color="#d70000"/><stop offset="0.884" stop-color="#d40000"/><stop offset="0.997" stop-color="#b90000"/></linearGradient>
<linearGradient id="gR82" gradientUnits="userSpaceOnUse" x1="372.2" x2="565.7" y1="0" y2="0"><stop offset="0" stop-color="#800000"/><stop offset="0.114" stop-color="#830000"/><stop offset="0.212" stop-color="#960000"/><stop offset="0.351" stop-color="#9d0000"/><stop offset="0.429" stop-color="#910000"/><stop offset="0.605" stop-color="#930000"/><stop offset="0.693" stop-color="#9c0000"/><stop offset="0.775" stop-color="#be0000"/><stop offset="0.832" stop-color="#d40000"/><stop offset="0.93" stop-color="#c60000"/><stop offset="0.997" stop-color="#b60000"/></linearGradient>
<linearGradient id="gR83" gradientUnits="userSpaceOnUse" x1="372.2" x2="565.7" y1="0" y2="0"><stop offset="0" stop-color="#800000"/><stop offset="0.129" stop-color="#830000"/><stop offset="0.238" stop-color="#940000"/><stop offset="0.341" stop-color="#9b0000"/><stop offset="0.429" stop-color="#8d0000"/><stop offset="0.667" stop-color="#950000"/><stop offset="0.76" stop-color="#b20000"/><stop offset="0.832" stop-color="#ce0000"/><stop offset="0.93" stop-color="#c30000"/><stop offset="0.997" stop-color="#b30000"/></linearGradient>
<linearGradient id="gR84" gradientUnits="userSpaceOnUse" x1="372.2" x2="565.7" y1="0" y2="0"><stop offset="0" stop-color="#800000"/><stop offset="0.15" stop-color="#830000"/><stop offset="0.331" stop-color="#990000"/><stop offset="0.434" stop-color="#890000"/><stop offset="0.63" stop-color="#8d0000"/><stop offset="0.739" stop-color="#a60000"/><stop offset="0.832" stop-color="#c80000"/><stop offset="0.925" stop-color="#c00000"/><stop offset="0.997" stop-color="#b10000"/></linearGradient>
<linearGradient id="gR85" gradientUnits="userSpaceOnUse" x1="372.2" x2="565.7" y1="0" y2="0"><stop offset="0" stop-color="#800000"/><stop offset="0.176" stop-color="#840000"/><stop offset="0.331" stop-color="#950000"/><stop offset="0.444" stop-color="#850000"/><stop offset="0.605" stop-color="#880000"/><stop offset="0.729" stop-color="#a00000"/><stop offset="0.837" stop-color="#c30000"/><stop offset="0.941" stop-color="#ba0000"/><stop offset="0.997" stop-color="#ae0000"/></linearGradient>
<g clip-path="url(#blobR)"><rect x="372.2" y="77.8" width="193.5" height="2.60" fill="url(#gR0)"/><rect x="372.2" y="79.8" width="193.5" height="2.60" fill="url(#gR1)"/><rect x="372.2" y="81.8" width="193.5" height="2.60" fill="url(#gR2)"/><rect x="372.2" y="83.8" width="193.5" height="2.60" fill="url(#gR3)"/><rect x="372.2" y="85.8" width="193.5" height="2.60" fill="url(#gR4)"/><rect x="372.2" y="87.8" width="193.5" height="2.60" fill="url(#gR5)"/><rect x="372.2" y="89.8" width="193.5" height="2.60" fill="url(#gR6)"/><rect x="372.2" y="91.8" width="193.5" height="2.60" fill="url(#gR7)"/><rect x="372.2" y="93.8" width="193.5" height="2.60" fill="url(#gR8)"/><rect x="372.2" y="95.8" width="193.5" height="2.60" fill="url(#gR9)"/><rect x="372.2" y="97.8" width="193.5" height="2.60" fill="url(#gR10)"/><rect x="372.2" y="99.8" width="193.5" height="2.60" fill="url(#gR11)"/><rect x="372.2" y="101.8" width="193.5" height="2.60" fill="url(#gR12)"/><rect x="372.2" y="103.8" width="193.5" height="2.60" fill="url(#gR13)"/><rect x="372.2" y="105.8" width="193.5" height="2.60" fill="url(#gR14)"/><rect x="372.2" y="107.8" width="193.5" height="2.60" fill="url(#gR15)"/><rect x="372.2" y="109.8" width="193.5" height="2.60" fill="url(#gR16)"/><rect x="372.2" y="111.8" width="193.5" height="2.60" fill="url(#gR17)"/><rect x="372.2" y="113.8" width="193.5" height="2.60" fill="url(#gR18)"/><rect x="372.2" y="115.8" width="193.5" height="2.60" fill="url(#gR19)"/><rect x="372.2" y="117.8" width="193.5" height="2.60" fill="url(#gR20)"/><rect x="372.2" y="119.8" width="193.5" height="2.60" fill="url(#gR21)"/><rect x="372.2" y="121.8" width="193.5" height="2.60" fill="url(#gR22)"/><rect x="372.2" y="123.8" width="193.5" height="2.60" fill="url(#gR23)"/><rect x="372.2" y="125.8" width="193.5" height="2.60" fill="url(#gR24)"/><rect x="372.2" y="127.8" width="193.5" height="2.60" fill="url(#gR25)"/><rect x="372.2" y="129.8" width="193.5" height="2.60" fill="url(#gR26)"/><rect x="372.2" y="131.8" width="193.5" height="2.60" fill="url(#gR27)"/><rect x="372.2" y="133.8" width="193.5" height="2.60" fill="url(#gR28)"/><rect x="372.2" y="135.8" width="193.5" height="2.60" fill="url(#gR29)"/><rect x="372.2" y="137.8" width="193.5" height="2.60" fill="url(#gR30)"/><rect x="372.2" y="139.8" width="193.5" height="2.60" fill="url(#gR31)"/><rect x="372.2" y="141.8" width="193.5" height="2.60" fill="url(#gR32)"/><rect x="372.2" y="143.8" width="193.5" height="2.60" fill="url(#gR33)"/><rect x="372.2" y="145.8" width="193.5" height="2.60" fill="url(#gR34)"/><rect x="372.2" y="147.8" width="193.5" height="2.60" fill="url(#gR35)"/><rect x="372.2" y="149.8" width="193.5" height="2.60" fill="url(#gR36)"/><rect x="372.2" y="151.8" width="193.5" height="2.60" fill="url(#gR37)"/><rect x="372.2" y="153.8" width="193.5" height="2.60" fill="url(#gR38)"/><rect x="372.2" y="155.8" width="193.5" height="2.60" fill="url(#gR39)"/><rect x="372.2" y="157.8" width="193.5" height="2.60" fill="url(#gR40)"/><rect x="372.2" y="159.8" width="193.5" height="2.60" fill="url(#gR41)"/><rect x="372.2" y="161.8" width="193.5" height="2.60" fill="url(#gR42)"/><rect x="372.2" y="163.8" width="193.5" height="2.60" fill="url(#gR43)"/><rect x="372.2" y="165.8" width="193.5" height="2.60" fill="url(#gR44)"/><rect x="372.2" y="167.8" width="193.5" height="2.60" fill="url(#gR45)"/><rect x="372.2" y="169.8" width="193.5" height="2.60" fill="url(#gR46)"/><rect x="372.2" y="171.8" width="193.5" height="2.60" fill="url(#gR47)"/><rect x="372.2" y="173.8" width="193.5" height="2.60" fill="url(#gR48)"/><rect x="372.2" y="175.8" width="193.5" height="2.60" fill="url(#gR49)"/><rect x="372.2" y="177.8" width="193.5" height="2.60" fill="url(#gR50)"/><rect x="372.2" y="179.8" width="193.5" height="2.60" fill="url(#gR51)"/><rect x="372.2" y="181.8" width="193.5" height="2.60" fill="url(#gR52)"/><rect x="372.2" y="183.8" width="193.5" height="2.60" fill="url(#gR53)"/><rect x="372.2" y="185.8" width="193.5" height="2.60" fill="url(#gR54)"/><rect x="372.2" y="187.8" width="193.5" height="2.60" fill="url(#gR55)"/><rect x="372.2" y="189.8" width="193.5" height="2.60" fill="url(#gR56)"/><rect x="372.2" y="191.8" width="193.5" height="2.60" fill="url(#gR57)"/><rect x="372.2" y="193.8" width="193.5" height="2.60" fill="url(#gR58)"/><rect x="372.2" y="195.8" width="193.5" height="2.60" fill="url(#gR59)"/><rect x="372.2" y="197.8" width="193.5" height="2.60" fill="url(#gR60)"/><rect x="372.2" y="199.8" width="193.5" height="2.60" fill="url(#gR61)"/><rect x="372.2" y="201.8" width="193.5" height="2.60" fill="url(#gR62)"/><rect x="372.2" y="203.8" width="193.5" height="2.60" fill="url(#gR63)"/><rect x="372.2" y="205.8" width="193.5" height="2.60" fill="url(#gR64)"/><rect x="372.2" y="207.8" width="193.5" height="2.60" fill="url(#gR65)"/><rect x="372.2" y="209.8" width="193.5" height="2.60" fill="url(#gR66)"/><rect x="372.2" y="211.8" width="193.5" height="2.60" fill="url(#gR67)"/><rect x="372.2" y="213.8" width="193.5" height="2.60" fill="url(#gR68)"/><rect x="372.2" y="215.8" width="193.5" height="2.60" fill="url(#gR69)"/><rect x="372.2" y="217.8" width="193.5" height="2.60" fill="url(#gR70)"/><rect x="372.2" y="219.8" width="193.5" height="2.60" fill="url(#gR71)"/><rect x="372.2" y="221.8" width="193.5" height="2.60" fill="url(#gR72)"/><rect x="372.2" y="223.8" width="193.5" height="2.60" fill="url(#gR73)"/><rect x="372.2" y="225.8" width="193.5" height="2.60" fill="url(#gR74)"/><rect x="372.2" y="227.8" width="193.5" height="2.60" fill="url(#gR75)"/><rect x="372.2" y="229.8" width="193.5" height="2.60" fill="url(#gR76)"/><rect x="372.2" y="231.8" width="193.5" height="2.60" fill="url(#gR77)"/><rect x="372.2" y="233.8" width="193.5" height="2.60" fill="url(#gR78)"/><rect x="372.2" y="235.8" width="193.5" height="2.60" fill="url(#gR79)"/><rect x="372.2" y="237.8" width="193.5" height="2.60" fill="url(#gR80)"/><rect x="372.2" y="239.8" width="193.5" height="2.60" fill="url(#gR81)"/><rect x="372.2" y="241.8" width="193.5" height="2.60" fill="url(#gR82)"/><rect x="372.2" y="243.8" width="193.5" height="2.60" fill="url(#gR83)"/><rect x="372.2" y="245.8" width="193.5" height="2.60" fill="url(#gR84)"/><rect x="372.2" y="247.8" width="193.5" height="2.60" fill="url(#gR85)"/></g>
<g fill="none" stroke="#000" stroke-width="1.1"><circle cx="469.10" cy="154.60" r="71.54"/><path d="M456.9,83.0 L466.2,72.2 Q469.1,70.8 472.0,72.2 L482.2,83.4"/><path d="M398.4,139.5 C397.6,137.4 396.6,136.8 395.3,136.9 C392.7,137.0 390.6,138.4 390.6,142.1 L390.6,169.2 C390.6,172.2 392.7,173.8 395.3,173.8 C396.6,173.8 397.6,173.0 398.4,171.8"/><path d="M539.8,139.5 C540.6,137.4 541.6,136.8 542.9,136.9 C545.5,137.0 547.6,138.4 547.6,142.1 L547.6,169.2 C547.6,172.2 545.5,173.8 542.9,173.8 C541.6,173.8 540.6,173.0 539.8,171.8"/></g>
<g fill="#000"><circle cx="378.5" cy="124.4" r="1.25"/><circle cx="392.2" cy="154.6" r="1.25"/><circle cx="393.0" cy="97.6" r="1.25"/><circle cx="393.0" cy="211.6" r="1.25"/><circle cx="396.1" cy="130.4" r="1.25"/><circle cx="396.1" cy="178.8" r="1.25"/><circle cx="402.8" cy="143.1" r="1.25"/><circle cx="402.8" cy="166.1" r="1.25"/><circle cx="407.8" cy="109.3" r="1.25"/><circle cx="407.8" cy="199.9" r="1.25"/><circle cx="411.7" cy="154.6" r="1.25"/><circle cx="414.0" cy="133.1" r="1.25"/><circle cx="414.0" cy="176.1" r="1.25"/><circle cx="414.8" cy="230.7" r="1.25"/><circle cx="421.9" cy="113.5" r="1.25"/><circle cx="421.9" cy="144.4" r="1.25"/><circle cx="421.9" cy="164.8" r="1.25"/><circle cx="421.9" cy="195.7" r="1.25"/><circle cx="425.0" cy="93.2" r="1.25"/><circle cx="425.0" cy="216.0" r="1.25"/><circle cx="426.2" cy="124.9" r="1.25"/><circle cx="426.2" cy="184.3" r="1.25"/><circle cx="430.9" cy="154.6" r="1.25"/><circle cx="432.4" cy="135.0" r="1.25"/><circle cx="432.4" cy="174.2" r="1.25"/><circle cx="434.3" cy="105.9" r="1.25"/><circle cx="437.4" cy="116.0" r="1.25"/><circle cx="437.4" cy="193.2" r="1.25"/><circle cx="440.9" cy="144.9" r="1.25"/><circle cx="440.9" cy="164.3" r="1.25"/><circle cx="442.9" cy="126.0" r="1.25"/><circle cx="442.9" cy="183.2" r="1.25"/><circle cx="446.1" cy="98.3" r="1.25"/><circle cx="446.1" cy="210.9" r="1.25"/><circle cx="446.4" cy="83.2" r="1.25"/><circle cx="446.4" cy="226.0" r="1.25"/><circle cx="450.3" cy="154.6" r="1.25"/><circle cx="450.8" cy="135.5" r="1.25"/><circle cx="450.8" cy="173.7" r="1.25"/><circle cx="453.1" cy="117.4" r="1.25"/><circle cx="453.1" cy="191.8" r="1.25"/><circle cx="459.6" cy="144.9" r="1.25"/><circle cx="459.6" cy="164.3" r="1.25"/><circle cx="460.6" cy="90.5" r="1.25"/><circle cx="460.6" cy="126.6" r="1.25"/><circle cx="460.6" cy="182.6" r="1.25"/><circle cx="462.4" cy="108.5" r="1.25"/><circle cx="462.4" cy="200.7" r="1.25"/><circle cx="469.1" cy="82.0" r="1.25"/><circle cx="469.1" cy="99.4" r="1.25"/><circle cx="469.1" cy="117.8" r="1.25"/><circle cx="469.1" cy="136.2" r="1.25"/><circle cx="469.1" cy="173.0" r="1.25"/><circle cx="469.1" cy="209.8" r="1.25"/><circle cx="469.1" cy="227.2" r="1.25"/><circle cx="469.1" cy="244.8" r="1.25"/><circle cx="475.8" cy="108.5" r="1.25"/><circle cx="475.8" cy="200.7" r="1.25"/><circle cx="477.6" cy="90.5" r="1.25"/><circle cx="477.6" cy="126.6" r="1.25"/><circle cx="477.6" cy="182.6" r="1.25"/><circle cx="478.6" cy="144.9" r="1.25"/><circle cx="478.6" cy="164.3" r="1.25"/><circle cx="485.1" cy="117.4" r="1.25"/><circle cx="485.1" cy="191.8" r="1.25"/><circle cx="487.4" cy="135.5" r="1.25"/><circle cx="487.4" cy="173.7" r="1.25"/><circle cx="487.9" cy="154.6" r="1.25"/><circle cx="491.8" cy="83.2" r="1.25"/><circle cx="491.8" cy="226.0" r="1.25"/><circle cx="492.1" cy="98.3" r="1.25"/><circle cx="492.1" cy="210.9" r="1.25"/><circle cx="495.3" cy="126.0" r="1.25"/><circle cx="495.3" cy="183.2" r="1.25"/><circle cx="497.3" cy="144.9" r="1.25"/><circle cx="497.3" cy="164.3" r="1.25"/><circle cx="500.8" cy="116.0" r="1.25"/><circle cx="500.8" cy="193.2" r="1.25"/><circle cx="503.9" cy="105.9" r="1.25"/><circle cx="505.8" cy="135.0" r="1.25"/><circle cx="505.8" cy="174.2" r="1.25"/><circle cx="507.3" cy="154.6" r="1.25"/><circle cx="512.0" cy="124.9" r="1.25"/><circle cx="512.0" cy="184.3" r="1.25"/><circle cx="513.2" cy="93.2" r="1.25"/><circle cx="513.2" cy="216.0" r="1.25"/><circle cx="516.3" cy="113.5" r="1.25"/><circle cx="516.3" cy="144.4" r="1.25"/><circle cx="516.3" cy="164.8" r="1.25"/><circle cx="516.3" cy="195.7" r="1.25"/><circle cx="523.4" cy="230.7" r="1.25"/><circle cx="524.2" cy="133.1" r="1.25"/><circle cx="524.2" cy="176.1" r="1.25"/><circle cx="526.5" cy="154.6" r="1.25"/><circle cx="530.4" cy="109.3" r="1.25"/><circle cx="530.4" cy="199.9" r="1.25"/><circle cx="535.4" cy="143.1" r="1.25"/><circle cx="535.4" cy="166.1" r="1.25"/><circle cx="542.1" cy="130.4" r="1.25"/><circle cx="542.1" cy="178.8" r="1.25"/><circle cx="545.2" cy="97.6" r="1.25"/><circle cx="545.2" cy="211.6" r="1.25"/><circle cx="546.0" cy="154.6" r="1.25"/><circle cx="559.8" cy="124.4" r="1.25"/><circle cx="469.1" cy="154.6" r="4.2"/><circle cx="469.1" cy="189.9" r="4.2"/><circle cx="442.8" cy="244.0" r="4.2"/><circle cx="496.0" cy="244.4" r="4.2"/></g>
<linearGradient id="cbg" x1="0" y1="0" x2="0" y2="1"><stop offset="0" stop-color="rgb(127,0,0)"/><stop offset="0.125" stop-color="rgb(255,0,0)"/><stop offset="0.375" stop-color="rgb(255,255,0)"/><stop offset="0.625" stop-color="rgb(0,255,255)"/><stop offset="0.875" stop-color="rgb(0,0,255)"/><stop offset="1" stop-color="rgb(0,0,127)"/></linearGradient>
<linearGradient id="cbsh" x1="0" y1="0" x2="1" y2="0"><stop offset="0" stop-color="#000" stop-opacity="0.28"/><stop offset="0.25" stop-color="#000" stop-opacity="0.05"/><stop offset="0.5" stop-color="#000" stop-opacity="0"/><stop offset="0.75" stop-color="#000" stop-opacity="0.05"/><stop offset="1" stop-color="#000" stop-opacity="0.28"/></linearGradient>
<rect x="582.0" y="53.0" width="13.9" height="204.7" fill="url(#cbg)"/>
<rect x="582.0" y="53.0" width="13.9" height="204.7" fill="url(#cbsh)"/>
<text x="597.20" y="84.40" font-size="18.5" text-anchor="start" fill="#000">2</text>
<text x="597.20" y="123.10" font-size="18.5" text-anchor="start" fill="#000">1</text>
<text x="597.20" y="162.20" font-size="18.5" text-anchor="start" fill="#000">0</text>
<text x="597.20" y="201.20" font-size="18.5" text-anchor="start" fill="#000">−1</text>
<text x="597.20" y="240.50" font-size="18.5" text-anchor="start" fill="#000">−2</text>
<text x="0" y="0" font-size="18.5" text-anchor="middle" fill="#000" transform="translate(621.5,157) rotate(90)">dB</text>
<clipPath id="clipCz"><rect x="42.2" y="286.0" width="267.1" height="200.0"/></clipPath>
<g clip-path="url(#clipCz)"><path d="M41.1,301.0 42.1,304.5 43.1,307.7 44.1,310.6 45.1,313.2 46.1,315.4 46.4,316.0 47.1,317.3 48.1,319.2 49.1,321.0 50.1,322.3 51.1,323.2 51.7,323.3 52.1,323.3 53.1,323.0 54.1,322.4 55.1,321.8 56.1,321.1 57.1,320.7 58.1,320.5 59.1,320.8 60.1,321.6 61.1,322.9 62.1,324.4 63.1,326.0 63.4,326.5 64.1,328.0 65.1,331.1 66.1,334.9 67.1,339.0 68.1,342.9 69.1,346.2 69.7,347.7 70.1,348.6 71.1,350.6 72.1,352.6 73.1,354.3 74.1,355.5 75.1,356.2 76.1,356.5 77.1,356.8 78.1,357.0 79.1,357.2 80.1,357.4 81.1,357.5 82.1,357.6 83.1,357.7 84.1,357.9 85.1,358.1 86.1,358.3 86.7,358.4 87.1,358.5 88.1,358.8 89.1,359.1 90.1,359.4 91.1,359.8 92.1,360.1 93.1,360.5 94.1,361.0 95.1,361.4 96.1,361.9 97.1,362.4 97.4,362.6 98.1,363.0 99.1,363.7 100.1,364.4 101.1,365.2 102.1,366.1 103.1,367.0 104.1,368.0 105.1,369.0 106.1,370.0 107.1,371.0 108.1,372.1 109.1,373.3 110.1,374.5 111.1,375.8 112.1,377.1 113.1,378.4 114.1,379.8 115.1,381.3 115.2,381.4 116.1,382.8 117.1,384.3 118.1,386.0 119.1,387.7 120.1,389.5 121.1,391.3 122.1,393.2 123.1,395.1 124.1,396.9 124.3,397.3 125.1,398.9 126.1,401.1 127.1,403.5 128.1,405.8 129.1,408.1 130.1,410.0 131.1,411.6 131.9,412.5 132.1,412.7 133.1,413.4 134.1,414.1 135.1,414.6 136.1,415.0 137.1,415.5 138.1,415.9 139.1,416.5 140.0,417.0 140.1,417.1 141.1,417.8 142.1,418.7 143.1,419.6 144.1,420.5 145.1,421.3 146.1,422.1 147.1,422.7 147.3,422.8 148.1,423.2 149.1,423.5 150.1,423.8 151.1,424.1 152.1,424.3 153.1,424.5 154.1,424.8 155.1,425.1 156.1,425.4 157.1,425.9 158.1,426.4 158.3,426.5 159.1,427.2 160.1,428.5 161.1,430.2 162.0,432.0 162.1,432.2 163.1,434.7 164.1,437.8 165.1,441.4 166.0,445.0 166.1,445.4 167.1,450.4 168.1,456.4 169.1,462.9 170.1,469.4 170.8,473.8 171.1,476.0 171.5,478.0 172.1,474.5 172.2,473.8 173.1,468.0 174.1,461.2 175.1,454.7 176.1,449.5 176.5,448.0 177.1,446.0 178.1,442.7 179.1,439.8 180.1,437.5 181.1,436.0 181.9,435.6 182.1,435.6 183.1,435.5 184.1,435.5 184.5,435.5 185.1,435.5 186.1,435.6 187.1,435.7 188.1,435.8 189.1,436.0 190.1,436.2 191.1,436.4 192.1,436.7 193.1,436.9 194.1,437.2 195.1,437.5 196.1,437.9 197.1,438.2 198.1,438.5 199.1,438.8 200.1,439.2 201.1,439.5 202.1,439.8 202.8,440.0 203.1,440.1 204.1,440.4 205.1,440.7 206.1,441.0 207.1,441.4 208.1,441.8 209.1,442.1 210.1,442.5 211.1,442.9 212.1,443.3 213.1,443.7 214.1,444.1 215.1,444.5 216.1,444.8 217.1,445.2 218.1,445.6 219.1,446.0 220.1,446.3 221.1,446.7 222.1,447.0 223.1,447.3 224.1,447.6 225.1,447.9 225.5,448.0 226.1,448.2 227.1,448.4 228.1,448.6 229.1,448.9 230.1,449.1 231.1,449.3 232.1,449.6 233.1,449.8 234.1,450.0 235.1,450.2 236.1,450.4 237.1,450.6 238.1,450.8 239.1,451.0 240.1,451.1 241.1,451.3 242.1,451.5 243.1,451.7 244.1,451.9 245.1,452.0 246.1,452.2 247.1,452.4 248.1,452.6 248.3,452.6 249.1,452.7 250.1,452.9 251.1,453.1 252.1,453.2 253.1,453.4 254.1,453.5 255.1,453.7 256.1,453.8 257.1,454.0 258.1,454.1 259.1,454.3 260.1,454.4 261.1,454.6 262.1,454.7 263.1,454.9 264.1,455.0 265.1,455.1 266.1,455.3 267.1,455.4 268.1,455.6 269.1,455.7 270.1,455.9 271.0,456.0 271.1,456.0 272.1,456.2 273.1,456.3 274.1,456.5 275.1,456.6 276.1,456.7 277.1,456.9 278.1,457.0 279.1,457.2 280.1,457.3 281.1,457.5 282.1,457.6 283.1,457.7 284.1,457.9 285.1,458.0 286.1,458.2 287.1,458.3 288.1,458.5 289.1,458.6 290.1,458.8 291.1,459.0 292.1,459.1 293.1,459.3 293.8,459.4 294.1,459.5 295.1,459.6 296.1,459.8 297.1,460.0 298.1,460.2 299.1,460.4 300.1,460.5 301.1,460.7 302.1,460.9 303.1,461.1 304.1,461.3 305.1,461.5 306.1,461.7 307.1,462.0 308.1,462.2 309.1,462.4 309.2,462.4 309.2,469.7 309.1,469.7 308.1,469.4 307.1,469.1 306.1,468.9 305.1,468.6 304.1,468.4 303.1,468.1 302.1,467.9 301.1,467.7 300.1,467.4 299.1,467.2 298.1,467.0 297.1,466.8 296.1,466.7 295.1,466.5 294.1,466.3 293.8,466.3 293.1,466.2 292.1,466.1 291.1,465.9 290.1,465.8 289.1,465.7 288.1,465.6 287.1,465.5 286.1,465.4 285.1,465.3 284.1,465.2 283.1,465.1 282.1,465.1 281.1,465.0 280.1,464.9 279.1,464.8 278.1,464.7 277.1,464.6 276.1,464.5 275.1,464.4 274.1,464.3 273.1,464.2 272.1,464.1 271.1,464.0 271.0,464.0 270.1,463.9 269.1,463.8 268.1,463.6 267.1,463.5 266.1,463.4 265.1,463.2 264.1,463.1 263.1,463.0 262.1,462.8 261.1,462.7 260.1,462.5 259.1,462.4 258.1,462.2 257.1,462.1 256.1,461.9 255.1,461.7 254.1,461.6 253.1,461.4 252.1,461.2 251.1,461.1 250.1,460.9 249.1,460.7 248.3,460.6 248.1,460.6 247.1,460.4 246.1,460.2 245.1,460.0 244.1,459.8 243.1,459.7 242.1,459.5 241.1,459.3 240.1,459.1 239.1,458.9 238.1,458.7 237.1,458.5 236.1,458.3 235.1,458.1 234.1,457.9 233.1,457.7 232.1,457.4 231.1,457.2 230.1,457.0 229.1,456.8 228.1,456.6 227.1,456.4 226.1,456.1 225.5,456.0 225.1,455.9 224.1,455.7 223.1,455.5 222.1,455.2 221.1,455.0 220.1,454.8 219.1,454.5 218.1,454.3 217.1,454.0 216.1,453.8 215.1,453.5 214.1,453.3 213.1,453.0 212.1,452.8 211.1,452.5 210.1,452.3 209.1,452.0 208.1,451.7 207.1,451.5 206.1,451.2 205.1,450.9 204.1,450.7 203.1,450.4 202.8,450.3 202.1,450.1 201.1,449.8 200.1,449.4 199.1,449.0 198.1,448.6 197.1,448.2 196.1,447.8 195.1,447.4 194.1,447.0 193.1,446.6 192.1,446.2 191.1,445.9 190.1,445.5 189.1,445.3 188.1,445.0 187.1,444.8 186.1,444.7 185.1,444.6 184.5,444.6 184.1,444.7 183.1,445.3 182.1,446.3 181.9,446.5 181.1,447.7 180.1,450.0 179.1,452.9 178.1,456.3 177.1,459.8 176.5,462.0 176.1,463.5 175.1,467.8 174.1,472.6 173.1,477.5 172.2,481.8 172.1,482.3 171.5,485.0 171.1,483.2 170.8,481.2 170.1,477.3 169.1,471.4 168.1,465.6 167.1,460.2 166.1,455.4 166.0,455.0 165.1,451.2 164.1,447.3 163.1,443.8 162.1,441.2 162.0,441.0 161.1,439.2 160.1,437.5 159.1,436.2 158.3,435.6 158.1,435.5 157.1,435.0 156.1,434.6 155.1,434.3 154.1,434.1 153.1,433.8 152.1,433.6 151.1,433.3 150.1,433.0 150.0,433.0 149.1,432.7 148.1,432.3 147.1,432.0 146.1,431.6 145.1,431.2 144.1,430.8 143.1,430.3 142.5,430.0 142.1,429.8 141.1,429.2 140.1,428.5 139.1,427.7 138.1,426.8 137.1,425.9 136.1,425.0 135.1,424.1 134.1,423.1 133.1,422.1 132.1,421.1 131.1,420.0 130.1,418.9 129.1,417.7 128.1,416.5 127.1,415.3 126.1,414.0 125.1,412.7 124.1,411.3 123.1,409.9 122.8,409.5 122.1,408.4 121.1,406.7 120.1,404.9 119.1,403.0 118.1,401.2 117.1,399.6 116.1,398.1 116.0,398.0 115.1,396.9 114.1,395.9 113.1,394.9 112.1,393.9 111.1,393.0 110.1,392.1 110.0,392.0 109.1,391.1 108.1,390.2 107.1,389.2 106.1,388.2 105.1,387.3 104.1,386.4 103.1,385.5 102.1,384.6 101.1,383.8 100.1,383.1 100.0,383.0 99.1,382.4 98.1,381.7 97.1,381.1 96.1,380.5 95.1,379.9 94.1,379.3 93.1,378.8 92.1,378.2 91.1,377.6 90.1,377.1 90.0,377.0 89.1,376.5 88.1,375.9 87.1,375.3 86.1,374.7 85.1,374.2 84.1,373.6 83.1,373.0 82.1,372.4 81.1,371.7 80.1,371.1 80.0,371.0 79.1,370.4 78.1,369.7 77.1,369.0 76.1,368.3 75.1,367.6 74.1,366.8 73.1,365.9 72.1,365.1 71.1,364.1 70.1,363.1 70.0,363.0 69.1,361.9 68.1,360.5 67.1,358.9 66.1,357.2 65.1,355.4 64.1,353.6 63.1,351.8 62.1,350.1 61.1,348.5 60.1,347.1 60.0,347.0 59.1,345.9 58.1,344.9 57.1,343.9 56.1,342.8 55.1,341.7 54.9,341.4 54.1,340.3 53.1,338.9 52.1,337.4 51.1,335.8 50.1,334.0 49.1,332.0 48.5,330.7 48.1,329.8 47.1,327.2 46.1,324.2 45.1,320.9 44.1,317.3 43.1,313.5 42.1,309.3 41.1,305.0Z" fill="#f9a1a1" stroke="#000" stroke-width="0.6" stroke-opacity="0.85"/><path d="M41.1,303.1 42.1,306.7 43.1,310.2 44.1,313.4 45.1,316.5 46.1,319.3 46.4,320.1 47.1,321.9 48.1,324.4 49.1,326.6 50.1,328.7 50.6,329.7 51.1,330.7 52.1,332.5 53.1,334.2 54.1,335.8 55.0,337.0 55.1,337.1 56.1,338.2 57.1,339.2 58.1,340.0 59.1,341.0 60.0,342.0 60.1,342.1 61.1,343.6 62.1,345.2 63.1,347.0 64.1,348.8 65.1,350.6 66.0,352.0 66.1,352.1 67.1,353.6 68.1,355.0 69.1,356.4 70.1,357.7 71.1,358.9 72.0,360.0 72.1,360.1 73.1,361.3 74.1,362.4 75.1,363.5 76.1,364.6 77.1,365.4 78.0,366.0 78.1,366.1 79.1,366.5 80.1,367.0 81.1,367.3 82.1,367.6 83.1,368.0 84.1,368.3 84.6,368.5 85.1,368.7 86.1,369.1 87.1,369.5 88.1,369.9 89.1,370.3 90.1,370.7 91.1,371.1 92.1,371.6 93.1,372.1 94.1,372.6 95.1,373.1 95.2,373.2 96.1,373.8 97.1,374.5 98.1,375.3 99.1,376.1 100.0,376.8 100.1,376.9 101.1,377.5 102.1,378.1 103.1,378.6 104.1,379.2 105.1,379.8 106.1,380.4 107.1,381.0 107.6,381.4 108.1,381.8 109.1,382.6 110.1,383.6 111.1,384.6 112.1,385.6 113.1,386.7 114.1,387.8 115.1,388.9 115.2,389.0 116.1,390.0 117.1,391.1 118.1,392.2 119.1,393.3 120.1,394.5 121.1,395.8 122.0,397.0 122.1,397.1 123.1,398.7 124.1,400.5 125.1,402.4 126.1,404.3 127.1,406.0 128.0,407.5 128.1,407.6 129.1,409.1 130.1,410.4 131.1,411.7 132.1,413.0 133.1,414.2 134.1,415.5 135.1,416.9 136.1,418.3 137.1,419.8 138.1,421.1 139.1,422.2 140.0,423.0 140.1,423.1 141.1,423.7 142.1,424.3 143.1,424.8 144.1,425.2 145.1,425.6 146.1,426.0 147.1,426.4 147.3,426.5 148.1,426.8 149.1,427.2 150.1,427.5 151.1,427.8 152.1,428.2 153.1,428.5 154.1,428.9 155.1,429.4 156.1,429.9 156.4,430.1 157.1,430.6 158.1,431.5 159.1,432.7 160.1,434.1 161.0,435.6 161.1,435.8 162.1,438.1 163.1,441.1 164.1,444.6 165.1,448.5 165.5,450.1 166.1,452.7 167.1,457.6 168.1,463.0 169.1,468.7 170.1,474.4 170.8,478.3 171.1,480.3 171.5,482.0 172.1,478.9 172.2,478.3 173.1,473.3 174.1,467.6 175.1,462.1 176.1,457.2 176.5,455.6 177.1,453.3 178.1,449.9 179.1,446.9 180.1,444.7 181.1,443.0 182.1,441.4 183.1,440.2 184.1,439.6 184.5,439.5 185.1,439.5 186.1,439.6 187.1,439.7 188.1,439.8 189.1,440.1 190.1,440.3 191.1,440.6 192.1,440.9 193.1,441.2 194.1,441.5 195.1,441.9 196.1,442.3 197.1,442.6 198.1,443.0 199.1,443.4 200.1,443.7 201.1,444.1 202.1,444.4 202.8,444.6 203.1,444.7 204.1,445.0 205.1,445.3 206.1,445.6 207.1,445.9 208.1,446.2 209.1,446.6 210.1,446.9 211.1,447.2 212.1,447.5 213.1,447.9 214.1,448.2 215.1,448.5 216.1,448.8 217.1,449.1 218.1,449.4 219.1,449.8 220.1,450.0 221.1,450.3 222.1,450.6 223.1,450.9 224.1,451.2 225.1,451.4 225.5,451.5 226.1,451.6 227.1,451.9 228.1,452.1 229.1,452.3 230.1,452.6 231.1,452.8 232.1,453.0 233.1,453.2 234.1,453.4 235.1,453.6 236.1,453.8 237.1,454.0 238.1,454.2 239.1,454.4 240.1,454.6 241.1,454.7 242.1,454.9 243.1,455.1 244.1,455.3 245.1,455.4 246.1,455.6 247.1,455.8 248.1,456.0 248.3,456.0 249.1,456.1 250.1,456.3 251.1,456.5 252.1,456.6 253.1,456.8 254.1,456.9 255.1,457.1 256.1,457.2 257.1,457.4 258.1,457.5 259.1,457.7 260.1,457.8 261.1,458.0 262.1,458.1 263.1,458.3 264.1,458.4 265.1,458.5 266.1,458.7 267.1,458.8 268.1,459.0 269.1,459.1 270.1,459.3 271.0,459.4 271.1,459.4 272.1,459.6 273.1,459.7 274.1,459.9 275.1,460.0 276.1,460.1 277.1,460.3 278.1,460.4 279.1,460.5 280.1,460.7 281.1,460.8 282.1,461.0 283.1,461.1 284.1,461.2 285.1,461.4 286.1,461.5 287.1,461.7 288.1,461.8 289.1,462.0 290.1,462.2 291.1,462.3 292.1,462.5 293.1,462.7 293.8,462.8 294.1,462.9 295.1,463.0 296.1,463.2 297.1,463.4 298.1,463.7 299.1,463.9 300.1,464.1 301.1,464.3 302.1,464.5 303.1,464.8 304.1,465.0 305.1,465.3 306.1,465.5 307.1,465.8 308.1,466.0 309.1,466.3 309.2,466.3" fill="none" stroke="#f00" stroke-width="3.6" stroke-linejoin="round"/><path d="M41.5,287.0 42.5,292.1 43.5,296.9 44.5,301.3 45.5,305.3 46.4,308.5 46.5,308.8 47.5,312.0 48.5,315.2 49.5,318.0 50.5,320.6 51.5,322.7 52.5,324.2 52.7,324.4 53.5,325.1 54.5,325.9 55.5,326.4 56.5,326.9 57.5,327.5 58.5,328.1 59.1,328.6 59.5,329.0 60.5,330.0 61.5,331.2 62.5,332.5 63.5,333.9 64.5,335.5 65.5,337.2 66.5,339.0 66.6,339.2 67.5,341.2 68.5,344.0 69.5,347.2 70.5,350.4 71.5,353.3 72.5,355.5 72.9,356.2 73.5,357.1 74.5,358.3 75.5,359.5 76.5,360.5 77.5,361.4 78.5,362.2 79.5,363.0 80.4,363.7 80.5,363.8 81.5,364.5 82.5,365.1 83.5,365.7 84.5,366.2 85.5,366.8 86.5,367.4 87.5,368.0 88.5,368.7 88.9,369.0 89.5,369.5 90.5,370.5 91.5,371.6 92.5,372.9 93.5,374.2 94.5,375.5 95.5,376.9 96.5,378.2 97.5,379.5 98.5,380.6 99.5,381.6 100.0,382.1 100.5,382.5 101.5,383.3 102.5,384.1 103.5,384.8 104.5,385.5 105.5,386.2 106.5,386.9 107.5,387.5 108.5,388.1 109.5,388.7 110.0,389.0 110.5,389.3 111.5,389.9 112.5,390.4 113.5,391.0 114.5,391.5 115.5,392.1 116.5,392.6 117.5,393.1 118.5,393.6 119.5,394.1 120.5,394.6 121.5,395.1 122.5,395.6 122.8,395.8 123.5,396.2 124.5,396.7 125.5,397.2 126.5,397.7 127.5,398.2 128.5,398.8 129.5,399.3 130.5,399.8 131.5,400.3 132.5,400.8 133.5,401.3 134.5,401.8 135.5,402.3 136.5,402.8 137.5,403.3 138.2,403.7 138.5,403.9 139.5,404.3 140.5,404.8 141.5,405.3 142.5,405.8 143.5,406.3 144.5,406.8 145.5,407.3 146.5,407.8 147.5,408.3 148.5,408.7 149.5,409.2 150.0,409.5 150.5,409.7 151.5,410.2 152.5,410.7 153.5,411.1 154.5,411.6 155.5,412.2 156.4,412.8 156.5,412.9 157.5,413.6 158.5,414.4 159.5,415.4 160.5,416.7 161.0,417.4 161.5,418.3 162.5,420.8 163.5,423.9 163.7,424.6 164.5,427.8 165.5,432.7 166.5,437.7 167.0,440.0 167.5,442.1 168.5,446.2 169.5,450.1 170.5,454.0 170.8,455.2 171.5,458.0 172.2,454.9 172.5,453.5 173.5,448.9 174.5,444.3 175.5,440.0 176.5,435.5 177.5,430.9 178.5,426.7 179.5,423.7 180.1,422.8 180.5,422.5 181.5,421.7 182.5,421.2 183.5,420.8 184.5,420.7 185.5,420.7 186.5,420.8 187.5,420.9 188.5,421.0 189.5,421.1 190.5,421.3 191.5,421.5 192.5,421.7 193.5,421.9 194.5,422.1 195.5,422.3 196.5,422.6 197.5,422.8 198.5,423.1 199.5,423.3 200.5,423.6 201.5,423.8 202.5,424.0 202.8,424.1 203.5,424.3 204.5,424.5 205.5,424.7 206.5,424.9 207.5,425.2 208.5,425.4 209.5,425.7 210.5,425.9 211.5,426.2 212.5,426.4 213.5,426.7 214.5,426.9 215.5,427.2 216.5,427.5 217.5,427.7 218.5,428.0 219.5,428.3 220.5,428.5 221.5,428.8 222.5,429.0 223.5,429.3 224.5,429.5 225.5,429.8 226.5,430.1 227.5,430.3 228.5,430.6 229.5,430.8 230.5,431.1 231.5,431.4 232.5,431.6 233.5,431.9 234.5,432.2 235.5,432.5 236.5,432.7 237.5,433.0 238.5,433.3 239.5,433.5 240.5,433.8 241.5,434.0 242.5,434.3 243.5,434.5 244.5,434.7 245.5,434.9 246.5,435.1 247.5,435.3 248.3,435.5 248.5,435.5 249.5,435.7 250.5,435.9 251.5,436.1 252.5,436.2 253.5,436.4 254.5,436.5 255.5,436.7 256.5,436.9 257.5,437.0 258.5,437.1 259.5,437.3 260.5,437.4 261.5,437.6 262.5,437.7 263.5,437.8 264.5,438.0 265.5,438.1 266.5,438.2 267.5,438.4 268.5,438.5 269.5,438.7 270.5,438.8 271.0,438.9 271.5,439.0 272.5,439.1 273.5,439.3 274.5,439.4 275.5,439.6 276.5,439.7 277.5,439.9 278.5,440.0 279.5,440.1 280.5,440.3 281.5,440.4 282.5,440.6 283.5,440.7 284.5,440.9 285.5,441.0 286.5,441.2 287.5,441.3 288.5,441.5 289.5,441.7 290.5,441.8 291.5,442.0 292.5,442.2 293.5,442.3 293.8,442.4 294.5,442.5 295.5,442.7 296.5,442.9 297.5,443.1 298.5,443.3 299.5,443.5 300.5,443.8 301.5,444.0 302.5,444.2 303.5,444.4 304.5,444.7 305.5,444.9 306.5,445.1 307.5,445.4 308.5,445.6 309.2,445.8 309.2,457.2 308.5,457.0 307.5,456.8 306.5,456.5 305.5,456.3 304.5,456.0 303.5,455.8 302.5,455.5 301.5,455.3 300.5,455.1 299.5,454.9 298.5,454.6 297.5,454.4 296.5,454.2 295.5,454.0 294.5,453.8 293.8,453.7 293.5,453.6 292.5,453.5 291.5,453.3 290.5,453.1 289.5,453.0 288.5,452.8 287.5,452.7 286.5,452.5 285.5,452.4 284.5,452.2 283.5,452.1 282.5,451.9 281.5,451.8 280.5,451.6 279.5,451.5 278.5,451.4 277.5,451.2 276.5,451.1 275.5,450.9 274.5,450.8 273.5,450.7 272.5,450.5 271.5,450.4 271.0,450.3 270.5,450.2 269.5,450.1 268.5,449.9 267.5,449.8 266.5,449.7 265.5,449.5 264.5,449.4 263.5,449.2 262.5,449.1 261.5,449.0 260.5,448.8 259.5,448.7 258.5,448.5 257.5,448.4 256.5,448.3 255.5,448.1 254.5,448.0 253.5,447.8 252.5,447.6 251.5,447.5 250.5,447.3 249.5,447.1 248.5,446.9 248.3,446.9 247.5,446.7 246.5,446.5 245.5,446.3 244.5,446.1 243.5,445.9 242.5,445.7 241.5,445.4 240.5,445.2 239.5,445.0 238.5,444.7 237.5,444.4 236.5,444.2 235.5,443.9 234.5,443.7 233.5,443.4 232.5,443.1 231.5,442.8 230.5,442.6 229.5,442.3 228.5,442.0 227.5,441.7 226.5,441.5 225.5,441.2 224.5,440.9 223.5,440.6 222.5,440.3 221.5,440.0 220.5,439.7 219.5,439.4 218.5,439.1 217.5,438.8 216.5,438.4 215.5,438.1 214.5,437.8 213.5,437.5 212.5,437.1 211.5,436.8 210.5,436.5 209.5,436.2 208.5,435.9 207.5,435.6 206.5,435.3 205.5,435.1 204.5,434.8 203.5,434.6 202.8,434.4 202.5,434.3 201.5,434.1 200.5,433.9 199.5,433.6 198.5,433.4 197.5,433.1 196.5,432.9 195.5,432.6 194.5,432.4 193.5,432.1 192.5,431.9 191.5,431.7 190.5,431.6 189.5,431.4 188.5,431.3 187.5,431.2 186.5,431.1 185.5,431.0 184.5,431.0 183.5,431.4 182.5,432.4 181.5,433.9 180.5,435.7 180.1,436.5 179.5,438.1 178.5,442.4 177.5,447.6 176.5,452.8 176.0,455.0 175.5,457.0 174.5,460.8 173.5,464.5 172.5,468.2 172.2,469.4 171.5,472.0 170.8,468.7 170.5,467.3 169.5,462.4 168.5,457.5 167.5,452.8 166.5,448.2 166.0,446.0 165.5,443.8 164.5,439.3 163.5,435.1 162.5,431.6 161.9,430.1 161.5,429.3 160.5,427.5 159.5,426.0 158.5,424.7 157.5,423.7 156.5,422.9 156.4,422.8 155.5,422.3 154.5,421.8 153.5,421.3 152.5,421.0 151.5,420.6 150.5,420.2 150.0,420.0 149.5,419.8 148.5,419.3 147.5,418.9 146.5,418.4 145.5,417.9 144.5,417.4 143.5,417.0 142.5,416.5 141.5,416.1 140.5,415.6 139.5,415.2 138.5,414.7 138.2,414.6 137.5,414.3 136.5,413.9 135.5,413.5 134.5,413.2 133.5,412.8 132.5,412.5 131.5,412.1 130.5,411.8 129.5,411.4 128.5,411.1 127.5,410.7 126.5,410.3 125.5,409.9 124.5,409.5 123.5,409.0 122.8,408.7 122.5,408.5 121.5,408.0 120.5,407.4 119.5,406.8 118.5,406.1 117.5,405.4 116.5,404.6 115.5,403.9 114.5,403.1 113.5,402.4 112.5,401.7 111.5,401.0 110.5,400.3 110.0,400.0 109.5,399.7 108.5,399.1 107.5,398.6 106.5,398.1 105.5,397.6 104.5,397.1 103.5,396.6 102.5,396.0 101.5,395.4 100.5,394.7 100.0,394.3 99.5,393.9 98.5,392.8 97.5,391.6 96.5,390.2 95.5,388.9 94.5,387.6 93.5,386.4 93.1,386.0 92.5,385.4 91.5,384.5 90.5,383.5 89.5,382.6 88.5,381.7 87.5,380.9 86.5,380.1 85.5,379.3 84.5,378.7 83.5,378.0 82.5,377.5 81.5,377.1 80.5,376.7 79.5,376.4 78.5,376.1 77.5,375.8 76.5,375.5 75.5,375.1 74.5,374.6 74.0,374.3 73.5,373.9 72.5,372.7 71.5,371.0 70.5,368.9 69.5,366.7 68.5,364.5 67.6,362.6 67.5,362.4 66.5,360.1 65.5,357.6 64.5,354.9 63.5,352.3 62.5,350.0 61.5,348.2 61.2,347.7 60.5,346.8 59.5,345.8 58.5,344.9 57.5,344.1 56.5,343.3 55.5,342.4 54.5,341.3 53.8,340.3 53.5,339.8 52.5,337.6 51.5,334.7 50.5,331.2 49.5,327.4 48.5,323.3 47.5,319.1 46.5,314.9 46.4,314.5 45.5,310.7 44.5,306.1 43.5,301.3 42.5,296.2 41.5,291.0Z" fill="#a3cbf7" stroke="#000" stroke-width="0.6" stroke-opacity="0.85"/><path d="M41.5,289.0 42.5,294.1 43.5,299.0 44.5,303.6 45.5,307.9 46.4,311.6 46.5,312.0 47.5,316.0 48.5,320.0 49.5,323.7 50.5,326.9 51.5,329.3 51.7,329.7 52.5,331.0 53.5,332.2 54.5,333.3 55.2,334.0 55.5,334.3 56.5,335.2 57.5,336.0 58.5,336.9 59.1,337.5 59.5,338.0 60.5,339.3 61.5,340.8 62.5,342.4 63.5,344.1 64.5,345.9 65.5,347.7 66.5,349.7 67.5,351.8 68.5,354.1 69.5,356.4 70.5,358.5 71.5,360.4 71.9,361.0 72.5,361.9 73.5,363.3 74.5,364.6 75.5,365.9 76.5,367.0 77.5,367.9 78.2,368.5 78.5,368.7 79.5,369.4 80.5,370.0 81.5,370.5 82.5,371.0 83.5,371.5 84.5,372.1 84.6,372.2 85.5,372.8 86.5,373.6 87.5,374.5 88.5,375.3 89.5,376.2 90.5,377.2 91.5,378.1 92.5,379.0 93.1,379.6 93.5,380.0 94.5,381.0 95.5,382.0 96.5,383.1 97.5,384.1 98.5,385.1 99.5,386.1 100.0,386.5 100.5,386.9 101.5,387.7 102.5,388.5 103.5,389.2 104.5,389.9 105.5,390.6 106.5,391.3 107.5,391.9 108.5,392.6 109.5,393.2 110.0,393.5 110.5,393.8 111.5,394.4 112.5,394.9 113.5,395.4 114.5,395.9 115.5,396.4 116.5,396.9 117.5,397.3 118.5,397.8 119.5,398.4 120.5,398.9 121.5,399.5 122.5,400.1 122.8,400.3 123.5,400.8 124.5,401.6 125.5,402.6 126.5,403.5 127.5,404.4 128.5,405.1 129.1,405.5 129.5,405.7 130.5,406.2 131.5,406.7 132.5,407.1 133.5,407.4 134.5,407.8 135.5,408.2 136.5,408.5 137.5,408.9 138.2,409.2 138.5,409.3 139.5,409.8 140.5,410.2 141.5,410.6 142.5,411.1 143.5,411.5 144.5,412.0 145.5,412.5 146.5,412.9 147.5,413.4 148.5,413.8 149.5,414.3 150.0,414.5 150.5,414.7 151.5,415.1 152.5,415.5 153.5,415.9 154.5,416.3 155.5,416.8 156.4,417.4 156.5,417.5 157.5,418.3 158.5,419.3 159.5,420.6 160.5,422.0 161.0,422.8 161.5,423.7 162.5,425.9 163.5,428.5 164.5,431.6 164.6,431.9 165.5,435.2 166.5,439.6 167.5,444.4 168.3,448.3 168.5,449.3 169.5,454.4 170.5,459.8 170.8,461.3 171.5,465.0 172.2,460.8 172.5,459.0 173.5,452.7 174.5,447.0 174.6,446.5 175.5,442.2 176.5,437.6 177.5,433.9 178.3,431.9 178.5,431.5 179.5,429.9 180.5,428.7 181.5,427.7 182.5,426.8 182.8,426.5 183.5,425.8 184.5,425.3 185.5,425.3 186.5,425.4 187.5,425.5 188.5,425.6 189.5,425.7 190.5,425.9 191.5,426.0 192.5,426.2 193.5,426.4 194.5,426.7 195.5,426.9 196.5,427.2 197.5,427.4 198.5,427.7 199.5,427.9 200.5,428.2 201.5,428.4 202.5,428.6 202.8,428.7 203.5,428.9 204.5,429.1 205.5,429.4 206.5,429.6 207.5,429.9 208.5,430.2 209.5,430.5 210.5,430.8 211.5,431.1 212.5,431.4 213.5,431.8 214.5,432.1 215.5,432.4 216.5,432.7 217.5,433.1 218.5,433.4 219.5,433.7 220.5,434.0 221.5,434.3 222.5,434.6 223.5,434.9 224.5,435.2 225.5,435.5 226.5,435.8 227.5,436.0 228.5,436.3 229.5,436.6 230.5,436.9 231.5,437.1 232.5,437.4 233.5,437.7 234.5,438.0 235.5,438.2 236.5,438.5 237.5,438.7 238.5,439.0 239.5,439.3 240.5,439.5 241.5,439.7 242.5,440.0 243.5,440.2 244.5,440.4 245.5,440.6 246.5,440.8 247.5,441.0 248.3,441.2 248.5,441.2 249.5,441.4 250.5,441.6 251.5,441.8 252.5,441.9 253.5,442.1 254.5,442.3 255.5,442.4 256.5,442.6 257.5,442.7 258.5,442.8 259.5,443.0 260.5,443.1 261.5,443.3 262.5,443.4 263.5,443.5 264.5,443.7 265.5,443.8 266.5,444.0 267.5,444.1 268.5,444.2 269.5,444.4 270.5,444.5 271.0,444.6 271.5,444.7 272.5,444.8 273.5,445.0 274.5,445.1 275.5,445.2 276.5,445.4 277.5,445.5 278.5,445.7 279.5,445.8 280.5,445.9 281.5,446.1 282.5,446.2 283.5,446.4 284.5,446.5 285.5,446.7 286.5,446.8 287.5,447.0 288.5,447.1 289.5,447.3 290.5,447.4 291.5,447.6 292.5,447.8 293.5,447.9 293.8,448.0 294.5,448.1 295.5,448.3 296.5,448.5 297.5,448.7 298.5,448.9 299.5,449.2 300.5,449.4 301.5,449.6 302.5,449.8 303.5,450.1 304.5,450.3 305.5,450.6 306.5,450.8 307.5,451.1 308.5,451.3 309.2,451.5" fill="none" stroke="#0000f5" stroke-width="3.6" stroke-linejoin="round"/></g>
<rect x="42.2" y="286.0" width="267.1" height="200.0" fill="none" stroke="#7d7d7d" stroke-width="1.3"/>
<text x="88.70" y="504.20" font-size="16.5" text-anchor="middle" fill="#262626">20</text>
<text x="143.80" y="504.20" font-size="16.5" text-anchor="middle" fill="#262626">40</text>
<text x="198.90" y="504.20" font-size="16.5" text-anchor="middle" fill="#262626">60</text>
<text x="254.00" y="504.20" font-size="16.5" text-anchor="middle" fill="#262626">80</text>
<text x="309.10" y="504.20" font-size="16.5" text-anchor="middle" fill="#262626">100</text>
<text x="36.70" y="475.00" font-size="16.5" text-anchor="end" fill="#262626">30</text>
<text x="36.70" y="443.80" font-size="16.5" text-anchor="end" fill="#262626">35</text>
<text x="36.70" y="412.60" font-size="16.5" text-anchor="end" fill="#262626">40</text>
<text x="36.70" y="381.40" font-size="16.5" text-anchor="end" fill="#262626">45</text>
<text x="36.70" y="350.20" font-size="16.5" text-anchor="end" fill="#262626">50</text>
<text x="36.70" y="319.00" font-size="16.5" text-anchor="end" fill="#262626">55</text>
<path d="M88.7,486.0v-3.2M88.7,286.0v3.2M143.8,486.0v-3.2M143.8,286.0v3.2M198.9,486.0v-3.2M198.9,286.0v3.2M254.0,486.0v-3.2M254.0,286.0v3.2M309.1,486.0v-3.2M309.1,286.0v3.2M42.2,469.2h3.2M309.3,469.2h-3.2M42.2,438.0h3.2M309.3,438.0h-3.2M42.2,406.8h3.2M309.3,406.8h-3.2M42.2,375.6h3.2M309.3,375.6h-3.2M42.2,344.4h3.2M309.3,344.4h-3.2M42.2,313.2h3.2M309.3,313.2h-3.2" stroke="#7d7d7d" stroke-width="1.1" fill="none"/>
<text x="175.75" y="520.50" font-size="16.5" text-anchor="middle" fill="#000">frequency (Hz)</text>
<text x="0" y="0" font-size="16.3" text-anchor="middle" fill="#000" transform="translate(12.4,386.0) rotate(-90)">log power</text>
<clipPath id="clipPz"><rect x="377.8" y="287.2" width="267.5" height="199.8"/></clipPath>
<g clip-path="url(#clipPz)"><path d="M377.0,304.0 378.0,308.0 379.0,311.7 380.0,314.9 381.0,317.3 381.4,318.0 382.0,318.9 383.0,320.4 384.0,321.8 385.0,322.9 386.0,323.8 387.0,324.3 387.7,324.4 388.0,324.4 389.0,323.8 390.0,322.7 391.0,321.3 392.0,319.8 393.0,318.5 394.0,317.4 395.0,316.9 395.2,316.9 396.0,317.2 397.0,318.5 398.0,320.4 399.0,322.8 400.0,325.3 400.5,326.5 401.0,327.9 402.0,331.4 403.0,335.6 404.0,340.0 405.0,344.2 406.0,347.7 406.9,349.9 407.0,350.1 408.0,351.7 409.0,353.1 410.0,354.4 411.0,355.5 412.0,356.4 413.0,357.2 413.2,357.3 414.0,357.8 415.0,358.3 416.0,358.7 417.0,359.1 418.0,359.6 419.0,360.1 419.6,360.5 420.0,360.8 421.0,361.8 422.0,363.1 423.0,364.6 424.0,366.1 425.0,367.6 426.0,369.0 427.0,370.3 428.0,371.6 429.0,372.9 430.0,374.2 431.0,375.5 432.0,376.9 432.4,377.5 433.0,378.4 434.0,380.0 435.0,381.7 436.0,383.4 437.0,385.1 438.0,386.8 439.0,388.4 440.0,390.0 441.0,391.5 442.0,393.0 443.0,394.6 444.0,396.1 445.0,397.7 446.0,399.2 447.0,400.7 448.0,402.2 449.0,403.7 450.0,405.1 451.0,406.5 452.0,407.8 453.0,409.1 454.0,410.3 455.0,411.5 456.0,412.5 457.0,413.5 458.0,414.4 458.2,414.6 459.0,415.3 460.0,416.1 461.0,416.8 462.0,417.6 463.0,418.3 464.0,419.0 465.0,419.7 466.0,420.3 467.0,421.0 468.0,421.6 469.0,422.1 470.0,422.7 471.0,423.2 472.0,423.7 473.0,424.2 474.0,424.6 475.0,425.1 476.0,425.4 476.4,425.6 477.0,425.8 478.0,426.1 479.0,426.4 480.0,426.7 481.0,426.9 482.0,427.1 483.0,427.2 484.0,427.4 485.0,427.6 486.0,427.8 487.0,428.0 488.0,428.3 489.0,428.6 490.0,428.9 491.0,429.3 492.0,429.7 492.8,430.1 493.0,430.2 494.0,431.1 495.0,432.4 496.0,434.1 497.0,436.0 498.0,438.6 499.0,442.0 500.0,445.9 501.0,450.0 502.0,454.2 503.0,458.9 504.0,463.8 505.0,468.8 506.0,473.8 506.8,477.7 507.0,478.8 507.5,481.0 508.0,477.6 508.2,475.8 509.0,469.2 510.0,460.8 511.0,455.0 512.0,451.7 513.0,448.7 514.0,446.0 515.0,443.9 516.0,442.1 517.0,440.9 518.0,440.2 518.3,440.1 519.0,439.9 520.0,439.7 521.0,439.6 522.0,439.4 523.0,439.3 524.0,439.2 525.0,439.2 525.6,439.2 526.0,439.2 527.0,439.2 528.0,439.3 529.0,439.4 530.0,439.5 531.0,439.7 532.0,439.8 533.0,440.0 534.0,440.3 535.0,440.5 536.0,440.8 537.0,441.1 538.0,441.4 539.0,441.7 540.0,442.0 541.0,442.3 542.0,442.7 543.0,443.0 544.0,443.4 545.0,443.7 546.0,444.1 547.0,444.4 548.0,444.8 549.0,445.2 550.0,445.5 551.0,445.8 552.0,446.2 553.0,446.5 554.0,446.8 555.0,447.1 556.0,447.4 557.0,447.6 558.0,447.9 559.0,448.1 560.0,448.3 561.0,448.5 562.0,448.7 563.0,448.8 564.0,449.0 565.0,449.2 566.0,449.3 567.0,449.5 568.0,449.7 569.0,449.8 570.0,450.0 571.0,450.1 572.0,450.3 573.0,450.4 574.0,450.5 575.0,450.7 576.0,450.8 577.0,451.0 578.0,451.1 579.0,451.2 580.0,451.4 581.0,451.5 582.0,451.6 583.0,451.7 584.0,451.9 585.0,452.0 586.0,452.1 587.0,452.3 588.0,452.4 589.0,452.5 590.0,452.6 591.0,452.8 592.0,452.9 593.0,453.0 594.0,453.2 595.0,453.3 596.0,453.4 597.0,453.6 598.0,453.7 599.0,453.9 600.0,454.0 601.0,454.1 602.0,454.3 603.0,454.4 604.0,454.6 605.0,454.7 606.0,454.9 607.0,455.0 608.0,455.2 609.0,455.3 610.0,455.5 611.0,455.6 612.0,455.7 613.0,455.9 614.0,456.0 615.0,456.2 616.0,456.3 617.0,456.5 618.0,456.6 619.0,456.8 620.0,456.9 621.0,457.1 622.0,457.2 623.0,457.4 624.0,457.5 625.0,457.7 626.0,457.8 627.0,458.0 628.0,458.1 629.0,458.3 630.0,458.4 631.0,458.5 632.0,458.7 633.0,458.8 634.0,459.0 635.0,459.1 636.0,459.3 637.0,459.4 638.0,459.6 639.0,459.7 640.0,459.9 641.0,460.0 642.0,460.2 643.0,460.3 644.0,460.5 645.0,460.6 645.4,460.7 645.4,469.0 645.0,468.9 644.0,468.8 643.0,468.6 642.0,468.5 641.0,468.3 640.0,468.2 639.0,468.0 638.0,467.9 637.0,467.7 636.0,467.6 635.0,467.4 634.0,467.3 633.0,467.1 632.0,467.0 631.0,466.9 630.0,466.7 629.0,466.6 628.0,466.4 627.0,466.3 626.0,466.1 625.0,466.0 624.0,465.8 623.0,465.7 622.0,465.6 621.0,465.4 620.0,465.3 619.0,465.1 618.0,465.0 617.0,464.8 616.0,464.7 615.0,464.6 614.0,464.4 613.0,464.3 612.0,464.1 611.0,464.0 610.0,463.9 609.0,463.7 608.0,463.6 607.0,463.5 606.0,463.3 605.0,463.2 604.0,463.0 603.0,462.9 602.0,462.8 601.0,462.6 600.0,462.5 599.0,462.4 598.0,462.2 597.0,462.1 596.0,462.0 595.0,461.9 594.0,461.7 593.0,461.6 592.0,461.5 591.0,461.4 590.0,461.3 589.0,461.1 588.0,461.0 587.0,460.9 586.0,460.8 585.0,460.7 584.0,460.6 583.0,460.4 582.0,460.3 581.0,460.2 580.0,460.1 579.0,460.0 578.0,459.9 577.0,459.7 576.0,459.6 575.0,459.5 574.0,459.4 573.0,459.3 572.0,459.1 571.0,459.0 570.0,458.9 569.0,458.7 568.0,458.6 567.0,458.5 566.0,458.3 565.0,458.2 564.0,458.0 563.0,457.9 562.0,457.7 561.0,457.6 560.0,457.4 559.0,457.2 558.0,457.1 557.0,456.9 556.0,456.7 555.0,456.5 554.0,456.3 553.0,456.1 552.0,455.9 551.0,455.6 550.0,455.4 549.0,455.2 548.0,455.0 547.0,454.7 546.0,454.5 545.0,454.2 544.0,454.0 543.0,453.8 542.0,453.5 541.0,453.3 540.0,453.0 539.0,452.8 538.0,452.5 537.0,452.3 536.0,452.0 535.0,451.8 534.0,451.6 533.0,451.3 532.0,451.1 531.0,450.9 530.0,450.7 529.0,450.4 528.0,450.2 527.4,450.1 527.0,450.0 526.0,449.8 525.0,449.5 524.0,449.3 523.0,449.0 522.0,448.8 521.0,448.6 520.0,448.4 519.0,448.3 518.3,448.3 518.0,448.4 517.0,449.4 516.0,451.5 515.0,454.4 514.0,457.9 513.0,461.9 512.0,466.0 511.0,470.0 510.0,474.6 509.0,480.1 508.2,484.4 508.0,485.6 507.5,488.0 507.0,486.3 506.8,485.4 506.0,482.3 505.0,478.4 504.0,474.4 503.0,470.4 502.0,466.6 501.0,463.1 500.0,460.0 499.0,457.1 498.0,454.2 497.0,451.4 496.0,448.8 495.0,446.6 494.0,444.6 493.0,443.1 492.8,442.9 492.0,442.0 491.0,441.0 490.0,440.1 489.0,439.3 488.0,438.5 487.0,437.9 486.0,437.2 485.0,436.6 484.0,436.1 483.0,435.5 482.0,435.0 481.0,434.5 480.0,434.0 479.0,433.4 478.0,432.9 477.0,432.3 476.4,431.9 476.0,431.6 475.0,431.0 474.0,430.4 473.0,429.9 472.0,429.3 471.0,428.7 470.0,428.2 469.0,427.6 468.0,427.1 467.0,426.5 466.0,425.9 465.0,425.4 464.0,424.8 463.0,424.2 462.0,423.6 461.0,422.9 460.0,422.3 459.0,421.6 458.2,421.0 458.0,420.9 457.0,420.1 456.0,419.3 455.0,418.5 454.0,417.7 453.0,416.8 452.0,415.9 451.0,415.0 450.0,414.1 449.0,413.2 448.0,412.2 447.0,411.2 446.0,410.2 445.0,409.2 444.0,408.2 443.0,407.2 442.0,406.1 441.0,405.1 440.0,404.0 439.0,402.9 438.0,401.8 437.0,400.7 436.0,399.5 435.0,398.3 434.0,397.1 433.0,395.8 432.0,394.6 431.0,393.3 430.0,392.0 429.0,390.7 428.0,389.3 427.0,387.9 426.0,386.5 425.0,385.1 424.0,383.6 423.0,382.2 422.0,380.8 421.0,379.4 420.0,378.0 419.0,376.7 418.0,375.4 417.0,374.1 416.0,372.8 415.0,371.6 414.0,370.3 413.0,369.0 412.0,367.7 411.0,366.4 410.0,365.0 409.0,363.5 408.0,361.9 407.0,360.1 406.0,358.3 405.0,356.6 404.0,354.9 403.0,353.3 402.0,351.9 401.0,350.8 400.0,350.0 399.0,349.4 398.0,348.8 397.0,348.2 396.0,347.7 395.0,347.3 394.0,347.0 393.0,346.8 392.0,346.7 391.0,346.9 390.0,347.4 389.0,347.7 388.8,347.7 388.0,347.5 387.0,346.9 386.0,345.9 385.0,344.4 384.0,342.5 383.5,341.4 383.0,339.2 382.0,331.2 381.4,327.0 381.0,324.8 380.0,319.7 379.0,315.1 378.0,311.1 377.0,308.0Z" fill="#f9a1a1" stroke="#000" stroke-width="0.6" stroke-opacity="0.85"/><path d="M377.0,306.3 378.0,309.7 379.0,313.3 380.0,316.9 381.0,320.7 381.4,322.2 382.0,324.8 383.0,329.8 384.0,334.7 385.0,338.2 385.6,339.2 386.0,339.5 387.0,340.1 388.0,340.6 389.0,340.9 390.0,341.0 391.0,340.7 392.0,339.9 393.0,339.1 394.0,338.3 395.0,338.0 396.0,338.2 397.0,338.9 398.0,339.8 399.0,340.8 400.0,342.0 401.0,343.5 402.0,345.6 403.0,348.0 404.0,350.5 405.0,352.9 406.0,355.0 407.0,356.8 408.0,358.5 409.0,360.1 410.0,361.6 411.0,363.1 412.0,364.6 413.0,366.0 414.0,367.4 415.0,368.7 416.0,370.0 417.0,371.3 418.0,372.5 419.0,373.8 420.0,375.0 421.0,376.2 422.0,377.5 423.0,378.7 424.0,379.9 425.0,381.1 426.0,382.3 427.0,383.5 428.0,384.7 429.0,385.8 430.0,387.0 431.0,388.1 432.0,389.3 433.0,390.4 434.0,391.5 435.0,392.6 436.0,393.6 437.0,394.7 438.0,395.8 439.0,396.9 440.0,398.0 441.0,399.1 442.0,400.2 443.0,401.3 444.0,402.4 445.0,403.6 446.0,404.7 447.0,405.8 448.0,406.9 449.0,407.9 450.0,409.0 451.0,410.1 452.0,411.2 453.0,412.3 454.0,413.4 455.0,414.4 456.0,415.4 457.0,416.4 458.0,417.2 458.2,417.4 459.0,418.0 460.0,418.8 461.0,419.5 462.0,420.2 463.0,420.9 464.0,421.5 465.0,422.2 466.0,422.8 467.0,423.4 468.0,424.0 469.0,424.6 470.0,425.1 471.0,425.6 472.0,426.2 473.0,426.7 474.0,427.2 475.0,427.6 476.0,428.1 476.4,428.3 477.0,428.6 478.0,429.0 479.0,429.3 480.0,429.7 481.0,430.0 482.0,430.3 483.0,430.6 484.0,430.9 485.0,431.2 486.0,431.6 487.0,431.9 488.0,432.3 489.0,432.8 490.0,433.2 491.0,433.8 492.0,434.4 493.0,435.2 494.0,436.1 495.0,437.2 496.0,438.5 496.5,439.2 497.0,440.0 498.0,442.3 499.0,445.1 500.0,448.5 501.0,452.1 501.9,455.6 502.0,456.0 503.0,460.5 504.0,465.8 505.0,471.5 506.0,477.3 506.8,481.8 507.0,483.0 507.5,485.5 508.0,482.5 508.2,481.0 509.0,475.5 510.0,468.5 511.0,462.9 512.0,458.7 513.0,454.8 514.0,451.6 515.0,449.2 515.6,448.3 516.0,447.8 517.0,446.7 518.0,445.8 519.0,444.9 520.0,444.3 521.0,443.9 522.0,443.8 523.0,443.8 524.0,443.9 525.0,444.0 526.0,444.1 527.0,444.2 528.0,444.4 529.0,444.6 530.0,444.8 531.0,445.1 532.0,445.3 533.0,445.6 534.0,445.8 535.0,446.1 536.0,446.4 537.0,446.6 538.0,446.9 539.0,447.1 540.0,447.4 540.2,447.4 541.0,447.6 542.0,447.8 543.0,448.1 544.0,448.3 545.0,448.6 546.0,448.9 547.0,449.1 548.0,449.4 549.0,449.7 550.0,450.0 551.0,450.3 552.0,450.6 553.0,450.8 554.0,451.1 555.0,451.4 556.0,451.6 557.0,451.8 558.0,452.1 559.0,452.3 560.0,452.5 561.0,452.7 562.0,452.9 563.0,453.1 564.0,453.2 565.0,453.4 566.0,453.6 567.0,453.8 568.0,453.9 569.0,454.1 570.0,454.3 571.0,454.4 572.0,454.6 573.0,454.7 574.0,454.9 575.0,455.0 576.0,455.2 577.0,455.3 578.0,455.5 579.0,455.6 580.0,455.7 581.0,455.9 582.0,456.0 583.0,456.2 584.0,456.3 585.0,456.4 586.0,456.6 587.0,456.7 588.0,456.8 589.0,457.0 590.0,457.1 591.0,457.2 592.0,457.4 593.0,457.5 594.0,457.6 595.0,457.8 596.0,457.9 597.0,458.1 598.0,458.2 599.0,458.4 600.0,458.5 601.0,458.6 602.0,458.8 603.0,458.9 604.0,459.1 605.0,459.2 606.0,459.4 607.0,459.5 608.0,459.7 609.0,459.8 610.0,460.0 611.0,460.1 612.0,460.2 613.0,460.4 614.0,460.5 615.0,460.7 616.0,460.8 617.0,461.0 618.0,461.1 619.0,461.3 620.0,461.4 621.0,461.5 622.0,461.7 623.0,461.8 624.0,462.0 625.0,462.1 626.0,462.3 627.0,462.4 628.0,462.5 629.0,462.7 630.0,462.8 631.0,463.0 632.0,463.1 633.0,463.3 634.0,463.4 635.0,463.5 636.0,463.7 637.0,463.8 638.0,464.0 639.0,464.1 640.0,464.2 641.0,464.4 642.0,464.5 643.0,464.7 644.0,464.8 645.0,464.9 645.4,465.0" fill="none" stroke="#f00" stroke-width="3.6" stroke-linejoin="round"/><path d="M377.5,290.0 378.5,295.4 379.5,300.5 380.5,305.2 381.4,309.0 381.5,309.4 382.5,313.7 383.5,318.1 384.5,322.1 385.5,325.1 386.5,326.5 386.7,326.5 387.5,326.5 388.5,326.5 389.5,326.5 390.5,326.5 391.5,326.5 392.5,326.5 393.5,326.5 394.1,326.5 394.5,326.6 395.5,327.1 396.5,328.2 397.5,329.6 398.5,331.4 399.5,333.2 400.5,335.0 401.5,337.1 402.5,339.7 403.5,342.7 404.5,345.7 405.5,348.6 406.5,351.1 406.9,352.0 407.5,353.2 408.5,355.2 409.5,357.1 410.5,358.8 411.5,360.4 412.5,361.8 413.2,362.6 413.5,362.9 414.5,363.9 415.5,364.8 416.5,365.7 417.5,366.4 418.5,367.1 419.5,367.8 420.5,368.5 421.5,369.2 422.5,369.9 423.5,370.8 423.9,371.1 424.5,371.6 425.5,372.6 426.5,373.5 427.5,374.5 428.5,375.6 429.5,376.6 430.5,377.6 431.5,378.7 432.5,379.7 433.5,380.8 434.5,381.8 435.5,382.8 436.5,383.7 436.6,383.8 437.5,384.6 438.5,385.5 439.5,386.5 440.5,387.3 441.5,388.2 442.5,389.1 443.5,390.0 444.5,390.8 445.5,391.6 446.5,392.4 447.2,393.0 447.5,393.2 448.5,394.0 449.5,394.8 450.5,395.6 451.5,396.4 452.5,397.2 453.5,397.9 454.5,398.6 455.5,399.3 456.5,400.0 457.5,400.6 458.2,401.0 458.5,401.2 459.5,401.7 460.5,402.3 461.5,402.8 462.5,403.3 463.5,403.8 464.5,404.3 465.5,404.7 466.5,405.2 467.5,405.7 468.5,406.1 469.5,406.5 470.5,406.9 471.5,407.3 472.5,407.7 473.5,408.1 474.5,408.5 475.5,408.9 476.4,409.2 476.5,409.2 477.5,409.6 478.5,409.9 479.5,410.2 480.5,410.4 481.5,410.7 482.5,410.9 483.5,411.2 484.5,411.4 485.5,411.7 486.5,412.0 487.5,412.3 488.5,412.6 489.5,413.0 490.5,413.5 491.0,413.7 491.5,414.0 492.5,414.5 493.5,415.3 494.5,416.2 495.5,417.3 495.6,417.4 496.5,418.9 497.5,421.4 498.5,424.5 499.5,428.0 500.1,430.1 500.5,431.6 501.5,436.1 502.5,441.1 503.5,445.9 504.0,448.0 504.5,449.9 505.5,453.4 506.5,456.8 506.7,457.5 507.4,460.0 507.5,459.9 508.1,457.1 508.5,455.4 509.5,451.2 510.5,447.0 511.0,445.0 511.5,442.9 512.5,438.1 513.5,433.2 514.5,428.7 515.5,425.4 516.5,423.7 517.5,423.1 518.5,422.7 519.5,422.3 520.5,422.0 521.5,421.9 522.0,421.9 522.5,421.9 523.5,421.9 524.5,422.0 525.5,422.1 526.5,422.2 527.5,422.4 528.5,422.6 529.5,422.7 530.5,422.9 531.5,423.2 532.5,423.4 533.5,423.6 534.5,423.9 535.5,424.1 536.5,424.4 537.5,424.6 538.5,424.9 539.5,425.1 540.5,425.3 541.5,425.5 542.0,425.6 542.5,425.7 543.5,425.9 544.5,426.1 545.5,426.3 546.5,426.5 547.5,426.6 548.5,426.8 549.5,427.0 550.5,427.2 551.5,427.4 552.5,427.6 553.5,427.8 554.5,428.0 555.5,428.2 556.5,428.4 557.5,428.5 558.5,428.7 559.5,428.9 560.0,429.0 560.5,429.1 561.5,429.3 562.5,429.5 563.5,429.6 564.5,429.8 565.5,430.0 566.5,430.2 567.5,430.4 568.5,430.5 569.5,430.7 570.5,430.9 571.5,431.1 572.5,431.3 573.5,431.4 574.5,431.6 575.5,431.8 576.5,432.0 577.5,432.1 578.5,432.3 579.5,432.5 580.5,432.7 581.5,432.8 582.5,433.0 583.5,433.2 584.5,433.4 585.5,433.5 586.5,433.7 587.5,433.9 588.5,434.1 589.5,434.2 590.5,434.4 591.5,434.6 592.5,434.7 593.5,434.9 594.5,435.1 595.5,435.2 596.5,435.4 597.5,435.6 598.5,435.7 599.5,435.9 600.0,436.0 600.5,436.1 601.5,436.2 602.5,436.4 603.5,436.6 604.5,436.7 605.5,436.9 606.5,437.1 607.5,437.2 608.5,437.4 609.5,437.6 610.5,437.7 611.5,437.9 612.5,438.1 613.5,438.2 614.5,438.4 615.5,438.5 616.5,438.7 617.5,438.9 618.5,439.0 619.5,439.2 620.5,439.3 621.5,439.5 622.5,439.7 623.5,439.8 624.5,440.0 625.5,440.1 626.5,440.3 627.5,440.5 628.5,440.6 629.5,440.8 630.5,440.9 631.5,441.1 632.5,441.2 633.5,441.4 634.5,441.5 635.5,441.7 636.5,441.8 637.5,442.0 638.5,442.2 639.5,442.3 640.5,442.5 641.5,442.6 642.5,442.8 643.5,442.9 644.5,443.1 645.4,443.2 645.4,455.4 644.5,455.3 643.5,455.1 642.5,454.9 641.5,454.8 640.5,454.6 639.5,454.4 638.5,454.3 637.5,454.1 636.5,453.9 635.5,453.8 634.5,453.6 633.5,453.5 632.5,453.3 631.5,453.1 630.5,453.0 629.5,452.8 628.5,452.6 627.5,452.5 626.5,452.3 625.5,452.2 624.5,452.0 623.5,451.8 622.5,451.7 621.5,451.5 620.5,451.3 619.5,451.2 618.5,451.0 617.5,450.8 616.5,450.7 615.5,450.5 614.5,450.4 613.5,450.2 612.5,450.0 611.5,449.9 610.5,449.7 609.5,449.5 608.5,449.4 607.5,449.2 606.5,449.1 605.5,448.9 604.5,448.7 603.5,448.6 602.5,448.4 601.5,448.2 600.5,448.1 600.0,448.0 599.5,447.9 598.5,447.8 597.5,447.6 596.5,447.4 595.5,447.3 594.5,447.1 593.5,446.9 592.5,446.8 591.5,446.6 590.5,446.5 589.5,446.3 588.5,446.1 587.5,446.0 586.5,445.8 585.5,445.7 584.5,445.5 583.5,445.4 582.5,445.2 581.5,445.0 580.5,444.9 579.5,444.7 578.5,444.5 577.5,444.4 576.5,444.2 575.5,444.1 574.5,443.9 573.5,443.7 572.5,443.6 571.5,443.4 570.5,443.3 569.5,443.1 568.5,442.9 567.5,442.8 566.5,442.6 565.5,442.4 564.5,442.3 563.5,442.1 562.5,441.9 561.5,441.8 560.5,441.6 560.0,441.5 559.5,441.4 558.5,441.2 557.5,441.1 556.5,440.9 555.5,440.7 554.5,440.6 553.5,440.4 552.5,440.2 551.5,440.0 550.5,439.8 549.5,439.7 548.5,439.5 547.5,439.3 546.5,439.1 545.5,438.9 544.5,438.8 543.5,438.6 542.5,438.4 542.0,438.3 541.5,438.2 540.5,438.0 539.5,437.8 538.5,437.5 537.5,437.3 536.5,437.0 535.5,436.7 534.5,436.5 533.5,436.2 532.5,436.0 531.5,435.7 530.5,435.5 529.5,435.3 528.5,435.1 527.5,435.0 526.5,434.9 525.5,434.8 524.5,434.7 523.8,434.7 523.5,434.7 522.5,434.8 521.5,435.0 520.5,435.3 519.5,435.7 518.5,436.2 517.5,436.7 516.5,437.4 515.5,439.2 514.5,442.8 513.5,447.6 512.5,452.8 511.5,457.8 511.0,460.0 510.5,462.1 509.5,466.2 508.5,470.4 508.1,472.1 507.5,474.9 507.4,475.0 506.7,471.5 506.5,470.5 505.5,465.5 504.5,460.5 504.0,458.0 503.5,455.4 502.5,449.8 501.5,444.4 500.5,440.3 500.1,439.2 499.5,437.9 498.5,435.9 497.5,434.3 496.5,432.8 495.5,431.6 494.5,430.5 493.5,429.7 492.8,429.2 492.5,429.0 491.5,428.4 490.5,427.9 489.5,427.4 488.5,426.9 487.5,426.5 486.5,426.2 485.5,425.8 484.5,425.5 483.5,425.2 482.5,424.9 481.5,424.6 480.5,424.3 479.5,424.0 478.5,423.6 477.5,423.3 476.5,422.8 476.4,422.8 475.5,422.4 474.5,422.0 473.5,421.5 472.5,421.0 471.5,420.6 470.5,420.1 469.5,419.6 468.5,419.1 467.5,418.6 466.5,418.1 465.5,417.6 464.5,417.1 463.5,416.6 462.5,416.1 461.5,415.5 460.5,415.0 459.5,414.4 458.5,413.9 458.2,413.7 457.5,413.3 456.5,412.7 455.5,412.2 454.5,411.6 453.5,411.0 452.5,410.4 451.5,409.8 450.5,409.2 449.5,408.6 448.5,408.0 447.5,407.4 446.5,406.7 445.5,406.0 444.5,405.3 443.5,404.6 442.5,403.9 441.5,403.1 440.5,402.3 440.0,401.9 439.5,401.5 438.5,400.6 437.5,399.6 436.5,398.5 435.5,397.4 434.5,396.3 433.5,395.1 432.5,394.0 431.5,392.8 430.5,391.7 429.5,390.6 428.5,389.6 428.1,389.2 427.5,388.6 426.5,387.7 425.5,386.8 424.5,385.9 423.5,385.0 422.5,384.1 421.5,383.2 420.5,382.3 419.5,381.5 418.5,380.5 417.5,379.6 416.5,378.7 415.5,377.8 414.5,376.9 413.5,376.0 412.5,375.1 411.5,374.1 410.5,373.0 409.5,371.8 409.0,371.1 408.5,370.4 407.5,368.6 406.5,366.5 405.5,364.3 404.5,362.1 403.5,360.1 402.6,358.4 402.5,358.2 401.5,356.6 400.5,354.9 399.5,353.3 398.5,351.8 397.5,350.4 396.5,349.1 395.5,348.0 395.2,347.7 394.5,347.1 393.5,346.4 392.5,345.9 391.5,345.4 390.5,344.8 389.5,344.2 388.5,343.3 387.7,342.4 387.5,342.1 386.5,339.6 385.5,335.7 384.5,330.8 383.5,325.3 382.5,319.7 381.5,314.5 381.4,314.0 380.5,309.6 379.5,304.5 378.5,299.3 377.5,294.0Z" fill="#a3cbf7" stroke="#000" stroke-width="0.6" stroke-opacity="0.85"/><path d="M377.5,292.0 378.5,297.4 379.5,302.5 380.5,307.4 381.4,311.6 381.5,312.1 382.5,316.9 383.5,321.9 384.5,326.6 385.5,330.3 386.5,332.7 386.7,332.9 387.5,333.6 388.5,334.3 389.5,334.8 390.5,335.3 391.5,335.6 392.5,336.1 393.5,336.7 394.1,337.1 394.5,337.4 395.5,338.5 396.5,339.7 397.5,341.1 398.4,342.4 398.5,342.6 399.5,344.3 400.5,346.2 401.5,348.4 402.5,350.6 403.5,352.7 404.5,354.8 404.7,355.2 405.5,356.8 406.5,358.8 407.5,360.8 408.5,362.7 409.5,364.5 410.5,366.1 411.1,366.9 411.5,367.4 412.5,368.6 413.5,369.7 414.5,370.7 415.5,371.6 416.5,372.5 417.5,373.4 418.5,374.3 419.5,375.3 419.6,375.4 420.5,376.3 421.5,377.3 422.5,378.4 423.5,379.4 424.5,380.4 425.5,381.5 426.5,382.5 427.5,383.5 428.5,384.4 429.5,385.4 430.2,386.0 430.5,386.3 431.5,387.1 432.5,387.9 433.5,388.7 434.5,389.5 435.5,390.2 436.5,391.0 437.5,391.7 438.5,392.5 439.5,393.3 440.0,393.7 440.5,394.1 441.5,395.0 442.5,395.9 443.5,396.8 444.5,397.7 445.5,398.5 446.5,399.4 447.5,400.2 448.5,401.0 449.4,401.6 449.5,401.7 450.5,402.3 451.5,402.9 452.5,403.5 453.5,404.0 454.5,404.5 455.5,405.1 456.5,405.6 457.5,406.1 458.2,406.4 458.5,406.5 459.5,407.0 460.5,407.5 461.5,408.0 462.5,408.5 463.5,408.9 464.5,409.4 465.5,409.8 466.5,410.2 467.5,410.7 468.5,411.1 469.5,411.5 470.5,412.0 471.5,412.4 472.5,412.8 473.5,413.3 474.5,413.7 475.5,414.2 476.4,414.6 476.5,414.6 477.5,415.1 478.5,415.5 479.5,415.9 480.5,416.3 481.5,416.7 482.5,417.2 483.5,417.6 484.5,418.0 485.5,418.4 486.5,418.9 487.5,419.4 488.5,420.0 489.5,420.5 490.5,421.2 491.0,421.5 491.5,421.8 492.5,422.6 493.5,423.5 494.5,424.5 495.5,425.6 496.5,427.0 497.5,428.9 498.5,431.3 499.5,434.3 500.5,437.5 501.0,439.2 501.5,441.0 502.5,445.2 503.5,449.9 504.5,454.7 504.7,455.6 505.5,459.4 506.5,464.2 506.9,466.1 507.5,469.4 507.6,469.5 508.3,465.6 508.5,464.5 509.5,458.9 510.1,455.6 510.5,453.4 511.5,447.7 512.5,442.4 513.5,438.3 513.8,437.4 514.5,435.7 515.5,433.6 516.5,431.8 517.5,430.6 518.3,430.1 518.5,430.0 519.5,429.7 520.5,429.3 521.5,429.1 522.5,428.8 523.5,428.6 524.5,428.5 525.5,428.4 526.5,428.3 527.4,428.3 527.5,428.3 528.5,428.3 529.5,428.4 530.5,428.5 531.5,428.6 532.5,428.8 533.5,429.0 534.5,429.2 535.5,429.4 536.5,429.7 537.5,429.9 538.5,430.2 539.5,430.5 540.5,430.7 541.5,431.0 542.5,431.2 543.5,431.5 544.5,431.7 545.5,431.9 545.6,431.9 546.5,432.1 547.5,432.2 548.5,432.4 549.5,432.6 550.5,432.8 551.5,432.9 552.5,433.1 553.5,433.3 554.5,433.4 555.5,433.6 556.5,433.8 557.5,434.0 558.5,434.1 559.5,434.3 560.0,434.4 560.5,434.5 561.5,434.7 562.5,434.9 563.5,435.0 564.5,435.2 565.5,435.4 566.5,435.6 567.5,435.8 568.5,436.0 569.5,436.2 570.5,436.4 571.5,436.5 572.5,436.7 573.5,436.9 574.5,437.1 575.5,437.3 576.5,437.5 577.5,437.7 578.5,437.9 579.5,438.1 580.5,438.3 581.5,438.5 582.5,438.7 583.5,438.9 584.5,439.1 585.5,439.3 586.5,439.5 587.5,439.7 588.5,439.8 589.5,440.0 590.5,440.2 591.5,440.4 592.5,440.6 593.5,440.8 594.5,441.0 595.5,441.2 596.5,441.4 597.5,441.5 598.5,441.7 599.5,441.9 600.0,442.0 600.5,442.1 601.5,442.3 602.5,442.5 603.5,442.6 604.5,442.8 605.5,443.0 606.5,443.2 607.5,443.3 608.5,443.5 609.5,443.7 610.5,443.9 611.5,444.1 612.5,444.2 613.5,444.4 614.5,444.6 615.5,444.8 616.5,444.9 617.5,445.1 618.5,445.3 619.5,445.5 620.5,445.6 621.5,445.8 622.5,446.0 623.5,446.1 624.5,446.3 625.5,446.5 626.5,446.7 627.5,446.8 628.5,447.0 629.5,447.2 630.5,447.3 631.5,447.5 632.5,447.7 633.5,447.8 634.5,448.0 635.5,448.2 636.5,448.3 637.5,448.5 638.5,448.7 639.5,448.8 640.5,449.0 641.5,449.2 642.5,449.3 643.5,449.5 644.5,449.7 645.4,449.8" fill="none" stroke="#0000f5" stroke-width="3.6" stroke-linejoin="round"/></g>
<rect x="377.8" y="287.2" width="267.5" height="199.8" fill="none" stroke="#7d7d7d" stroke-width="1.3"/>
<text x="424.40" y="505.20" font-size="16.5" text-anchor="middle" fill="#262626">20</text>
<text x="479.20" y="505.20" font-size="16.5" text-anchor="middle" fill="#262626">40</text>
<text x="534.00" y="505.20" font-size="16.5" text-anchor="middle" fill="#262626">60</text>
<text x="588.80" y="505.20" font-size="16.5" text-anchor="middle" fill="#262626">80</text>
<text x="643.60" y="505.20" font-size="16.5" text-anchor="middle" fill="#262626">100</text>
<text x="372.30" y="476.10" font-size="16.5" text-anchor="end" fill="#262626">30</text>
<text x="372.30" y="446.70" font-size="16.5" text-anchor="end" fill="#262626">35</text>
<text x="372.30" y="417.30" font-size="16.5" text-anchor="end" fill="#262626">40</text>
<text x="372.30" y="387.90" font-size="16.5" text-anchor="end" fill="#262626">45</text>
<text x="372.30" y="358.60" font-size="16.5" text-anchor="end" fill="#262626">50</text>
<text x="372.30" y="329.20" font-size="16.5" text-anchor="end" fill="#262626">55</text>
<text x="372.30" y="299.80" font-size="16.5" text-anchor="end" fill="#262626">60</text>
<path d="M424.4,487.0v-3.2M424.4,287.2v3.2M479.2,487.0v-3.2M479.2,287.2v3.2M534.0,487.0v-3.2M534.0,287.2v3.2M588.8,487.0v-3.2M588.8,287.2v3.2M643.6,487.0v-3.2M643.6,287.2v3.2M377.8,470.3h3.2M645.3,470.3h-3.2M377.8,440.9h3.2M645.3,440.9h-3.2M377.8,411.5h3.2M645.3,411.5h-3.2M377.8,382.1h3.2M645.3,382.1h-3.2M377.8,352.8h3.2M645.3,352.8h-3.2M377.8,323.4h3.2M645.3,323.4h-3.2M377.8,294.0h3.2M645.3,294.0h-3.2" stroke="#7d7d7d" stroke-width="1.1" fill="none"/>
<text x="511.55" y="521.50" font-size="16.5" text-anchor="middle" fill="#000">frequency (Hz)</text>
<text x="0" y="0" font-size="16.3" text-anchor="middle" fill="#000" transform="translate(348.0,387.1) rotate(-90)">log power</text>
<clipPath id="clipI1"><rect x="42.5" y="557.3" width="267.5" height="199.7"/></clipPath>
<g clip-path="url(#clipI1)"><path d="M42.0,606.0 43.0,610.3 44.0,614.4 45.0,618.0 46.0,621.3 47.0,624.3 48.0,627.1 49.0,629.7 50.0,631.3 50.1,631.4 51.0,632.1 52.0,632.8 53.0,633.4 54.0,633.8 55.0,633.9 55.1,633.9 56.0,633.8 57.0,633.6 58.0,633.3 59.0,633.0 60.0,632.9 60.1,632.9 61.0,633.2 62.0,634.0 63.0,635.1 64.0,636.3 64.1,636.4 65.0,637.5 66.0,638.9 67.0,640.5 68.0,642.1 68.2,642.4 69.0,643.8 70.0,645.8 71.0,647.7 71.9,649.0 72.0,649.1 73.0,650.2 74.0,651.1 75.0,651.9 76.0,652.5 77.0,653.0 78.0,653.4 79.0,653.8 80.0,654.2 81.0,654.5 82.0,654.8 82.5,654.9 83.0,655.0 84.0,655.3 85.0,655.5 86.0,655.6 87.0,655.8 88.0,656.0 89.0,656.1 90.0,656.3 91.0,656.5 92.0,656.7 93.0,657.0 93.1,657.0 94.0,657.3 95.0,657.7 96.0,658.1 97.0,658.6 98.0,659.0 99.0,659.4 99.5,659.5 100.0,659.6 101.0,659.9 102.0,660.1 103.0,660.3 104.0,660.5 105.0,660.7 106.0,660.9 107.0,661.0 108.0,661.2 109.0,661.4 110.0,661.5 111.0,661.7 112.0,661.9 113.0,662.0 114.0,662.2 114.4,662.3 115.0,662.4 116.0,662.6 117.0,662.9 118.0,663.1 119.0,663.3 120.0,663.6 121.0,663.8 122.0,664.0 123.0,664.2 124.0,664.4 125.0,664.5 126.0,664.6 127.0,664.7 128.0,664.8 129.0,664.9 130.0,665.0 131.0,665.1 132.0,665.2 133.0,665.3 134.0,665.4 135.0,665.4 135.6,665.5 136.0,665.5 137.0,665.6 138.0,665.7 139.0,665.8 140.0,665.8 141.0,665.9 142.0,665.9 143.0,666.0 144.0,666.1 145.0,666.1 146.0,666.2 147.0,666.2 148.0,666.3 149.0,666.4 150.0,666.5 151.0,666.6 152.0,666.7 153.0,666.9 154.0,667.0 155.0,667.2 156.0,667.4 156.8,667.6 157.0,667.7 158.0,668.7 159.0,670.2 160.0,671.6 161.0,672.6 162.0,673.5 163.0,674.7 163.2,675.0 164.0,676.5 165.0,679.2 166.0,682.5 167.0,686.2 167.3,687.4 168.0,690.5 169.0,695.9 170.0,701.8 171.0,707.8 171.4,710.1 172.0,713.9 172.1,714.0 172.8,710.1 173.0,708.9 174.0,703.1 175.0,697.3 176.0,692.0 177.0,687.0 178.0,682.3 179.0,678.7 179.4,677.7 180.0,676.6 181.0,675.0 182.0,673.7 183.0,672.7 184.0,672.0 185.0,671.5 186.0,671.1 187.0,670.7 188.0,670.5 189.0,670.4 189.1,670.4 190.0,670.4 191.0,670.4 192.0,670.4 193.0,670.5 194.0,670.5 195.0,670.6 196.0,670.6 197.0,670.7 198.0,670.8 199.0,670.8 200.0,670.9 201.0,671.0 202.0,671.1 203.0,671.1 204.0,671.2 205.0,671.3 206.0,671.4 207.0,671.5 208.0,671.6 208.6,671.6 209.0,671.6 210.0,671.7 211.0,671.8 212.0,671.9 213.0,671.9 214.0,672.0 215.0,672.1 216.0,672.2 217.0,672.3 218.0,672.4 219.0,672.5 220.0,672.6 221.0,672.7 222.0,672.7 223.0,672.8 224.0,672.9 225.0,673.0 226.0,673.1 227.0,673.2 228.0,673.3 229.0,673.4 230.0,673.6 231.0,673.7 232.0,673.8 233.0,673.9 234.0,674.0 235.0,674.1 236.0,674.2 237.0,674.3 238.0,674.4 239.0,674.5 240.0,674.6 241.0,674.7 242.0,674.8 243.0,675.0 244.0,675.1 245.0,675.2 246.0,675.3 247.0,675.4 248.0,675.5 249.0,675.6 250.0,675.7 251.0,675.8 252.0,675.9 253.0,676.1 254.0,676.2 255.0,676.3 256.0,676.4 257.0,676.5 257.1,676.5 258.0,676.6 259.0,676.7 260.0,676.8 261.0,676.9 262.0,677.0 263.0,677.1 264.0,677.2 265.0,677.4 266.0,677.5 267.0,677.6 268.0,677.7 269.0,677.8 270.0,677.9 271.0,678.0 272.0,678.1 273.0,678.2 274.0,678.3 275.0,678.5 276.0,678.6 277.0,678.7 278.0,678.8 279.0,678.9 280.0,679.0 281.0,679.1 282.0,679.2 283.0,679.4 284.0,679.5 285.0,679.6 286.0,679.7 287.0,679.8 288.0,679.9 289.0,680.0 290.0,680.2 291.0,680.3 292.0,680.4 293.0,680.5 294.0,680.6 295.0,680.7 296.0,680.8 297.0,681.0 298.0,681.1 299.0,681.2 300.0,681.3 301.0,681.4 302.0,681.5 303.0,681.7 304.0,681.8 305.0,681.9 306.0,682.0 307.0,682.1 308.0,682.3 309.0,682.4 310.0,682.5 310.0,716.0 309.0,715.9 308.0,715.8 307.0,715.6 306.0,715.5 305.0,715.4 304.0,715.3 303.0,715.1 302.0,715.0 301.0,714.9 300.0,714.8 299.0,714.7 298.0,714.5 297.0,714.4 296.0,714.3 295.0,714.2 294.0,714.1 293.0,714.0 292.0,713.8 291.0,713.7 290.0,713.6 289.0,713.5 288.0,713.4 287.0,713.3 286.0,713.2 285.0,713.1 284.0,713.0 283.0,712.9 282.0,712.7 281.0,712.6 280.0,712.5 279.0,712.4 278.0,712.3 277.0,712.2 276.0,712.1 275.0,712.0 274.0,711.9 273.0,711.8 272.0,711.8 271.0,711.7 270.0,711.6 269.0,711.5 268.0,711.4 267.0,711.3 266.0,711.2 265.0,711.1 264.0,711.0 263.0,711.0 262.0,710.9 261.0,710.8 260.0,710.7 259.0,710.6 258.0,710.6 257.1,710.5 257.0,710.5 256.0,710.4 255.0,710.3 254.0,710.3 253.0,710.2 252.0,710.1 251.0,710.0 250.0,710.0 249.0,709.9 248.0,709.8 247.0,709.7 246.0,709.7 245.0,709.6 244.0,709.5 243.0,709.4 242.0,709.3 241.0,709.3 240.0,709.2 239.0,709.1 238.0,709.0 237.0,709.0 236.0,708.9 235.0,708.8 234.0,708.7 233.0,708.7 232.0,708.6 231.0,708.5 230.0,708.4 229.0,708.4 228.0,708.3 227.0,708.2 226.0,708.2 225.0,708.1 224.0,708.0 223.0,708.0 222.0,707.9 221.0,707.8 220.0,707.8 219.0,707.7 218.0,707.6 217.0,707.6 216.0,707.5 215.0,707.5 214.0,707.4 213.0,707.4 212.0,707.3 211.0,707.3 210.0,707.2 209.0,707.2 208.0,707.2 207.0,707.1 206.0,707.1 205.0,707.0 204.0,707.0 203.0,707.0 202.0,706.9 201.0,706.9 200.0,706.9 199.0,706.9 198.0,706.9 197.0,706.8 196.0,706.8 195.0,706.8 194.0,706.8 193.0,706.8 192.0,706.8 191.6,706.8 191.0,706.8 190.0,706.9 189.0,707.0 188.0,707.1 187.0,707.4 186.0,707.6 185.0,707.9 184.0,708.3 183.0,708.7 182.0,709.2 181.9,709.2 181.0,710.1 180.0,711.9 179.0,714.5 178.0,717.7 177.0,721.3 176.0,725.0 175.0,729.8 174.0,735.8 173.0,741.9 172.8,743.1 172.1,747.0 172.0,746.9 171.4,743.2 171.0,741.0 170.0,735.3 169.0,729.7 168.0,725.0 167.0,721.1 166.0,717.5 165.0,714.3 164.0,711.7 163.2,710.1 163.0,709.8 162.0,708.1 161.0,706.7 160.0,705.4 159.0,704.3 158.0,703.4 157.0,702.8 156.8,702.7 156.0,702.3 155.0,701.9 154.0,701.6 153.0,701.2 152.0,700.9 151.0,700.7 150.0,700.4 149.0,700.2 148.0,700.0 147.0,699.8 146.0,699.6 145.0,699.4 144.0,699.2 143.0,699.1 142.0,698.9 141.0,698.7 140.0,698.5 139.0,698.3 138.0,698.1 137.0,697.8 136.0,697.5 135.6,697.4 135.0,697.2 134.0,696.9 133.0,696.6 132.0,696.2 131.0,695.9 130.0,695.5 129.0,695.1 128.0,694.7 127.0,694.3 126.0,693.9 125.0,693.5 124.0,693.1 123.0,692.7 122.0,692.3 121.0,691.8 120.0,691.4 119.0,690.9 118.0,690.5 117.0,690.1 116.0,689.6 115.0,689.2 114.4,688.9 114.0,688.7 113.0,688.3 112.0,687.8 111.0,687.3 110.0,686.9 109.0,686.4 108.0,685.9 107.0,685.4 106.0,684.9 105.0,684.4 104.0,683.9 103.0,683.4 102.0,682.9 101.0,682.4 100.0,681.9 99.0,681.4 98.0,680.8 97.0,680.3 96.0,679.8 95.0,679.2 94.0,678.7 93.1,678.2 93.0,678.1 92.0,677.6 91.0,677.0 90.0,676.4 89.0,675.8 88.0,675.2 87.0,674.7 86.7,674.5 86.0,674.2 85.0,673.7 84.0,673.3 83.0,672.8 82.0,672.4 81.0,672.0 80.0,671.6 79.0,671.2 78.0,670.7 77.0,670.2 76.1,669.7 76.0,669.6 75.0,669.0 74.0,668.2 73.0,667.4 72.0,666.6 71.0,665.7 70.0,664.8 69.0,663.9 68.0,663.0 67.0,662.1 66.0,661.3 65.0,660.4 64.0,659.6 63.0,658.7 62.0,657.8 61.2,657.0 61.0,656.8 60.0,655.9 59.0,654.9 58.0,653.9 57.0,652.9 56.0,651.8 55.0,650.7 54.1,649.5 54.0,649.4 53.0,647.9 52.0,646.2 51.0,644.3 50.1,642.4 50.0,642.2 49.0,639.8 48.0,637.2 47.0,634.1 46.0,630.4 45.0,624.6 44.0,617.5 43.0,612.3 42.0,610.0Z" fill="#f9a1a1" stroke="#000" stroke-width="0.6" stroke-opacity="0.85"/><path d="M42.0,608.2 43.0,612.3 44.0,616.4 45.0,620.3 46.0,624.3 47.0,628.1 48.0,631.4 49.0,634.2 50.0,636.9 51.0,639.0 52.0,640.3 52.1,640.4 53.0,640.9 54.0,641.4 55.0,641.7 56.0,642.0 57.0,642.4 57.1,642.4 58.0,642.7 59.0,643.1 60.0,643.5 61.0,644.2 62.0,645.2 63.0,646.4 63.1,646.5 64.0,648.0 65.0,650.1 66.0,652.0 67.0,653.6 68.0,655.0 69.0,656.3 69.7,657.0 70.0,657.3 71.0,658.2 72.0,659.0 73.0,659.6 74.0,660.2 75.0,660.7 76.0,661.1 77.0,661.5 78.0,661.8 79.0,662.2 80.0,662.5 81.0,662.8 82.0,663.2 82.5,663.4 83.0,663.6 84.0,664.0 85.0,664.4 86.0,664.9 87.0,665.3 88.0,665.8 89.0,666.2 90.0,666.7 91.0,667.1 92.0,667.6 93.0,668.0 94.0,668.5 95.0,668.9 96.0,669.4 97.0,669.8 98.0,670.2 99.0,670.6 99.5,670.8 100.0,671.0 101.0,671.4 102.0,671.8 103.0,672.1 104.0,672.5 105.0,672.9 106.0,673.2 107.0,673.6 108.0,673.9 109.0,674.3 110.0,674.6 111.0,675.0 112.0,675.3 113.0,675.6 114.0,676.0 114.4,676.1 115.0,676.3 116.0,676.6 117.0,677.0 118.0,677.3 119.0,677.7 120.0,678.0 121.0,678.4 122.0,678.7 123.0,679.1 124.0,679.4 125.0,679.7 126.0,680.1 127.0,680.4 128.0,680.7 129.0,681.0 130.0,681.3 131.0,681.5 132.0,681.8 133.0,682.0 134.0,682.2 135.0,682.4 135.6,682.5 136.0,682.6 137.0,682.7 138.0,682.8 139.0,683.0 140.0,683.1 141.0,683.2 142.0,683.2 143.0,683.3 144.0,683.4 145.0,683.5 146.0,683.6 147.0,683.7 148.0,683.8 149.0,683.8 150.0,683.9 151.0,684.1 152.0,684.2 153.0,684.3 154.0,684.5 154.7,684.6 155.0,684.7 156.0,684.8 157.0,685.1 158.0,685.4 159.0,685.7 160.0,686.2 161.0,687.2 162.0,688.9 163.0,691.0 164.0,693.9 165.0,697.6 166.0,701.6 166.1,702.0 167.0,705.5 168.0,709.5 169.0,714.0 170.0,719.5 171.0,725.6 171.4,727.9 172.0,731.8 172.1,732.0 172.8,727.9 173.0,726.7 174.0,720.5 175.0,714.5 175.5,712.0 176.0,709.7 177.0,705.2 178.0,701.3 179.0,698.1 179.4,697.1 180.0,695.8 181.0,693.8 182.0,692.2 183.0,691.0 184.0,690.1 185.0,689.3 186.0,688.7 186.7,688.6 187.0,688.6 188.0,688.6 189.0,688.6 190.0,688.6 191.0,688.6 192.0,688.6 193.0,688.6 194.0,688.6 195.0,688.6 196.0,688.6 197.0,688.6 198.0,688.6 199.0,688.6 200.0,688.6 201.0,688.6 202.0,688.6 203.0,688.6 204.0,688.6 205.0,688.6 206.0,688.6 207.0,688.6 208.0,688.6 208.6,688.6 209.0,688.6 210.0,688.6 211.0,688.6 212.0,688.6 213.0,688.7 214.0,688.7 215.0,688.8 216.0,688.8 217.0,688.9 218.0,688.9 219.0,689.0 220.0,689.1 221.0,689.1 222.0,689.2 223.0,689.3 224.0,689.4 225.0,689.5 226.0,689.6 227.0,689.7 228.0,689.8 229.0,689.9 230.0,690.1 231.0,690.2 232.0,690.3 233.0,690.4 234.0,690.5 235.0,690.7 236.0,690.8 237.0,690.9 238.0,691.1 239.0,691.2 240.0,691.3 241.0,691.5 242.0,691.6 243.0,691.7 244.0,691.9 245.0,692.0 246.0,692.1 247.0,692.3 248.0,692.4 249.0,692.5 250.0,692.7 251.0,692.8 252.0,692.9 253.0,693.0 254.0,693.2 255.0,693.3 256.0,693.4 257.0,693.5 257.1,693.5 258.0,693.6 259.0,693.7 260.0,693.8 261.0,693.9 262.0,694.0 263.0,694.1 264.0,694.2 265.0,694.4 266.0,694.5 267.0,694.6 268.0,694.7 269.0,694.8 270.0,694.9 271.0,695.0 272.0,695.1 273.0,695.2 274.0,695.3 275.0,695.5 276.0,695.6 277.0,695.7 278.0,695.8 279.0,695.9 280.0,696.0 281.0,696.1 282.0,696.2 283.0,696.4 284.0,696.5 285.0,696.6 286.0,696.7 287.0,696.8 288.0,696.9 289.0,697.0 290.0,697.2 291.0,697.3 292.0,697.4 293.0,697.5 294.0,697.6 295.0,697.7 296.0,697.8 297.0,698.0 298.0,698.1 299.0,698.2 300.0,698.3 301.0,698.4 302.0,698.5 303.0,698.7 304.0,698.8 305.0,698.9 306.0,699.0 307.0,699.1 308.0,699.3 309.0,699.4 310.0,699.5" fill="none" stroke="#f00" stroke-width="3.6" stroke-linejoin="round"/><path d="M42.5,583.0 43.5,589.4 44.5,595.1 45.5,599.9 46.5,603.7 47.0,605.2 47.5,606.5 48.5,608.8 49.5,610.5 50.1,611.2 50.5,611.6 51.5,612.5 52.5,613.2 53.5,613.8 54.5,614.2 55.1,614.3 55.5,614.4 56.5,614.5 57.5,614.5 58.5,614.6 59.5,614.7 60.1,614.8 60.5,614.9 61.5,615.3 62.5,615.8 63.5,616.5 64.5,617.2 65.5,617.9 66.2,618.3 66.5,618.5 67.5,619.1 68.5,619.7 69.5,620.3 70.5,620.9 71.5,621.5 72.5,622.0 73.2,622.3 73.5,622.4 74.5,622.8 75.5,623.2 76.5,623.5 77.5,623.9 78.5,624.2 79.5,624.5 80.5,624.8 81.5,625.1 82.3,625.3 82.5,625.4 83.5,625.7 84.5,626.0 85.5,626.4 86.5,626.8 87.5,627.1 88.5,627.5 89.5,627.8 90.5,628.0 91.5,628.2 92.5,628.3 93.1,628.3 93.5,628.3 94.5,628.3 95.5,628.2 96.5,628.2 97.5,628.1 98.5,628.1 99.5,628.0 100.5,627.9 101.5,627.8 102.5,627.7 103.5,627.6 104.5,627.5 105.5,627.4 106.5,627.3 107.5,627.2 108.0,627.2 108.5,627.2 109.5,627.1 110.5,627.0 111.5,626.9 112.5,626.7 113.5,626.6 114.5,626.5 115.5,626.4 116.5,626.3 117.5,626.2 118.5,626.1 119.5,626.0 120.5,625.9 121.5,625.8 122.5,625.8 123.5,625.7 124.5,625.7 125.0,625.7 125.5,625.7 126.5,625.7 127.5,625.7 128.5,625.7 129.5,625.7 130.5,625.7 131.5,625.7 132.5,625.7 133.5,625.7 134.5,625.7 135.5,625.7 136.5,625.8 137.5,625.8 138.5,625.8 139.5,625.8 140.5,625.8 141.5,625.8 142.5,625.8 143.5,625.9 144.5,625.9 145.5,625.9 146.5,625.9 147.5,626.0 148.5,626.0 149.5,626.0 150.5,626.0 151.5,626.1 152.5,626.1 153.5,626.2 154.5,626.2 154.7,626.2 155.5,626.3 156.5,626.4 157.5,626.7 158.5,627.1 159.5,627.6 160.0,627.9 160.5,628.5 161.5,630.8 162.5,633.7 163.0,635.0 163.5,636.2 164.5,638.4 165.5,640.7 166.5,643.4 167.3,646.1 167.5,646.9 168.5,652.3 169.5,659.3 170.5,666.9 171.4,673.3 171.5,674.1 172.1,678.0 172.5,676.0 172.8,673.7 173.5,669.3 174.5,662.8 175.5,656.7 176.0,654.0 176.5,651.4 177.5,646.3 178.5,641.8 179.4,638.8 179.5,638.5 180.5,636.1 181.5,634.1 182.5,632.6 183.0,632.0 183.5,631.5 184.5,630.6 185.5,629.9 186.5,629.6 186.7,629.6 187.5,629.6 188.5,629.6 189.5,629.7 190.5,629.7 191.5,629.8 192.5,629.8 193.5,629.9 194.5,630.0 195.5,630.1 196.5,630.2 197.5,630.3 198.5,630.4 199.5,630.5 200.5,630.6 201.5,630.7 202.5,630.9 203.5,631.0 204.5,631.1 205.5,631.2 206.5,631.4 207.5,631.5 208.5,631.6 208.6,631.6 209.5,631.7 210.5,631.8 211.5,631.9 212.5,632.0 213.5,632.2 214.5,632.3 215.5,632.4 216.5,632.5 217.5,632.7 218.5,632.8 219.5,632.9 220.5,633.1 221.5,633.2 222.5,633.3 223.5,633.5 224.5,633.6 225.5,633.8 226.5,633.9 227.5,634.1 228.5,634.2 229.5,634.4 230.5,634.5 231.5,634.7 232.5,634.8 233.5,635.0 234.5,635.1 235.5,635.3 236.5,635.4 237.5,635.6 238.5,635.8 239.5,635.9 240.5,636.1 241.5,636.2 242.5,636.4 243.5,636.6 244.5,636.7 245.5,636.9 246.5,637.1 247.5,637.2 248.5,637.4 249.5,637.5 250.5,637.7 251.5,637.9 252.5,638.0 253.5,638.2 254.5,638.4 255.5,638.5 256.5,638.7 257.1,638.8 257.5,638.9 258.5,639.0 259.5,639.2 260.5,639.4 261.5,639.5 262.5,639.7 263.5,639.9 264.5,640.0 265.5,640.2 266.5,640.4 267.5,640.6 268.5,640.7 269.5,640.9 270.5,641.1 271.5,641.3 272.5,641.4 273.5,641.6 274.5,641.8 275.5,642.0 276.5,642.1 277.5,642.3 278.5,642.5 279.5,642.7 280.5,642.9 281.5,643.1 282.5,643.2 283.5,643.4 284.5,643.6 285.5,643.8 286.5,644.0 287.5,644.2 288.5,644.4 289.5,644.6 290.5,644.7 291.5,644.9 292.5,645.1 293.5,645.3 294.5,645.5 295.5,645.7 296.5,645.9 297.5,646.1 298.5,646.3 299.5,646.5 300.5,646.7 301.5,646.9 302.5,647.1 303.5,647.3 304.5,647.5 305.5,647.7 306.5,647.9 307.5,648.1 308.5,648.3 309.5,648.5 310.0,648.6 310.0,671.6 309.5,671.5 308.5,671.4 307.5,671.3 306.5,671.2 305.5,671.0 304.5,670.9 303.5,670.8 302.5,670.7 301.5,670.5 300.5,670.4 299.5,670.3 298.5,670.2 297.5,670.1 296.5,669.9 295.5,669.8 294.5,669.7 293.5,669.6 292.5,669.4 291.5,669.3 290.5,669.2 289.5,669.1 288.5,669.0 287.5,668.9 286.5,668.7 285.5,668.6 284.5,668.5 283.5,668.4 282.5,668.3 281.5,668.2 280.5,668.0 279.5,667.9 278.5,667.8 277.5,667.7 276.5,667.6 275.5,667.5 274.5,667.4 273.5,667.3 272.5,667.1 271.5,667.0 270.5,666.9 269.5,666.8 268.5,666.7 267.5,666.6 266.5,666.5 265.5,666.4 264.5,666.3 263.5,666.2 262.5,666.1 261.5,666.0 260.5,665.9 259.5,665.7 258.5,665.6 257.5,665.5 257.1,665.5 256.5,665.4 255.5,665.3 254.5,665.2 253.5,665.1 252.5,665.0 251.5,664.9 250.5,664.8 249.5,664.7 248.5,664.6 247.5,664.4 246.5,664.3 245.5,664.2 244.5,664.1 243.5,664.0 242.5,663.8 241.5,663.7 240.5,663.6 239.5,663.5 238.5,663.3 237.5,663.2 236.5,663.1 235.5,663.0 234.5,662.9 233.5,662.7 232.5,662.6 231.5,662.5 230.5,662.4 229.5,662.3 228.5,662.1 227.5,662.0 226.5,661.9 225.5,661.8 224.5,661.7 223.5,661.6 222.5,661.5 221.5,661.3 220.5,661.2 219.5,661.1 218.5,661.0 217.5,660.9 216.5,660.8 215.5,660.7 214.5,660.7 213.5,660.6 212.5,660.5 211.5,660.4 210.5,660.3 209.5,660.2 208.5,660.2 207.5,660.1 206.5,660.0 205.5,660.0 204.5,659.9 203.5,659.8 202.5,659.8 201.5,659.7 200.5,659.7 199.5,659.7 198.5,659.6 197.5,659.6 196.5,659.6 195.5,659.5 194.5,659.5 193.5,659.5 192.5,659.5 191.6,659.5 191.5,659.5 190.5,659.6 189.5,659.8 188.5,660.2 187.5,660.7 186.5,661.3 185.5,662.0 184.5,662.9 183.5,663.8 182.5,664.8 181.9,665.5 181.5,666.1 180.5,668.5 179.5,671.8 178.5,675.8 177.5,680.0 177.0,682.0 176.5,684.1 175.5,688.6 174.5,693.4 173.5,698.4 172.8,701.7 172.5,703.5 172.1,705.0 171.5,701.9 171.4,701.3 170.5,696.4 169.5,690.8 168.5,685.4 167.5,680.3 167.0,678.0 166.5,675.8 165.5,671.3 164.5,667.3 163.5,664.1 163.2,663.4 162.5,661.9 161.5,660.1 160.5,658.8 160.0,658.5 159.5,658.3 158.5,658.0 157.5,657.8 156.5,657.7 155.5,657.5 155.0,657.5 154.5,657.5 153.5,657.4 152.5,657.3 151.5,657.2 150.5,657.1 149.5,657.1 148.5,657.0 147.5,656.9 146.5,656.9 145.5,656.8 144.5,656.8 143.5,656.7 142.5,656.7 141.5,656.7 140.5,656.6 139.5,656.6 138.5,656.5 137.5,656.5 136.5,656.5 135.5,656.4 134.5,656.4 133.5,656.4 132.5,656.3 131.5,656.3 130.5,656.3 129.5,656.2 128.5,656.2 127.5,656.1 126.5,656.1 125.5,656.0 125.0,656.0 124.5,656.0 123.5,655.9 122.5,655.9 121.5,655.8 120.5,655.8 119.5,655.7 118.5,655.7 117.5,655.6 116.5,655.6 115.5,655.5 114.5,655.5 113.5,655.4 112.5,655.4 111.5,655.3 110.5,655.3 109.5,655.2 108.5,655.2 107.5,655.1 106.5,655.0 105.5,655.0 104.5,654.9 103.5,654.8 102.5,654.7 101.5,654.6 100.5,654.5 100.0,654.5 99.5,654.4 98.5,654.3 97.5,654.2 96.5,654.0 95.5,653.9 94.5,653.7 93.5,653.5 92.5,653.3 91.5,653.1 90.5,652.8 89.5,652.6 88.5,652.3 87.5,652.1 86.5,651.8 85.5,651.5 84.5,651.2 83.5,650.9 82.5,650.6 81.5,650.3 80.5,649.9 79.5,649.5 78.5,649.1 77.5,648.7 76.5,648.2 75.5,647.7 75.2,647.5 74.5,647.1 73.5,646.5 72.5,645.8 71.5,645.0 70.5,644.2 69.5,643.4 68.5,642.6 68.2,642.4 67.5,641.8 66.5,641.0 65.5,640.2 64.5,639.4 63.5,638.5 62.5,637.7 61.5,636.7 60.5,635.8 60.1,635.4 59.5,634.8 58.5,633.8 57.5,632.8 56.5,631.7 55.5,630.6 54.5,629.3 53.5,627.9 53.1,627.3 52.5,626.3 51.5,624.3 50.5,621.9 49.5,619.4 49.1,618.3 48.5,616.7 47.5,613.9 46.5,610.8 45.5,607.2 44.5,602.8 44.0,600.2 43.5,596.7 42.5,587.0Z" fill="#a3cbf7" stroke="#000" stroke-width="0.6" stroke-opacity="0.85"/><path d="M42.5,585.1 43.5,590.1 44.5,594.9 45.0,597.2 45.5,599.5 46.5,604.2 47.5,608.2 48.5,611.6 49.5,614.7 50.5,617.2 51.1,618.3 51.5,618.9 52.5,620.1 53.5,621.0 54.5,621.8 55.1,622.3 55.5,622.6 56.5,623.2 57.5,623.8 58.5,624.3 59.5,624.9 60.1,625.3 60.5,625.6 61.5,626.4 62.5,627.3 63.5,628.2 64.5,629.1 65.5,629.9 66.2,630.4 66.5,630.6 67.5,631.3 68.5,631.9 69.5,632.5 70.5,633.1 71.5,633.6 72.5,634.1 73.2,634.4 73.5,634.5 74.5,634.9 75.5,635.3 76.5,635.7 77.5,636.0 78.5,636.3 79.5,636.6 80.5,636.9 81.5,637.2 82.3,637.4 82.5,637.5 83.5,637.7 84.5,638.0 85.5,638.3 86.5,638.6 87.5,638.9 88.5,639.2 89.5,639.4 90.5,639.6 91.5,639.8 92.5,639.9 93.1,640.0 93.5,640.0 94.5,640.1 95.5,640.2 96.5,640.3 97.5,640.3 98.5,640.4 99.5,640.5 100.5,640.5 101.5,640.6 102.5,640.7 103.5,640.7 104.5,640.8 105.5,640.8 106.5,640.8 107.5,640.9 108.5,640.9 109.5,640.9 110.5,641.0 111.5,641.0 112.5,641.0 113.5,641.0 114.4,641.0 114.5,641.0 115.5,641.0 116.5,641.0 117.5,641.0 118.5,641.0 119.5,641.0 120.5,641.0 121.5,641.0 122.5,641.0 123.5,641.0 124.5,641.0 125.5,641.0 126.5,641.0 127.5,641.0 128.5,641.0 129.5,641.0 130.5,641.0 131.5,641.0 132.5,641.0 133.5,641.0 134.5,641.0 135.5,641.0 135.6,641.0 136.5,641.0 137.5,641.0 138.5,641.0 139.5,641.1 140.5,641.1 141.5,641.1 142.5,641.2 143.5,641.2 144.5,641.3 145.5,641.3 146.5,641.4 147.5,641.4 148.5,641.5 149.5,641.6 150.5,641.7 151.5,641.8 152.5,641.9 153.5,642.0 154.5,642.1 154.7,642.1 155.5,642.2 156.5,642.4 157.5,642.6 158.5,642.9 159.5,643.3 160.0,643.5 160.5,643.8 161.5,645.0 162.5,646.6 163.0,647.5 163.5,648.4 164.5,650.6 165.5,653.4 166.0,655.0 166.5,657.0 167.5,662.5 168.5,668.8 169.0,672.0 169.5,675.2 170.5,682.0 171.4,688.3 171.5,689.0 172.1,693.0 172.5,690.8 172.8,688.3 173.5,683.3 174.5,676.1 175.2,672.0 175.5,670.5 176.5,665.9 177.5,661.9 178.5,658.4 179.4,655.8 179.5,655.5 180.5,653.1 181.5,650.9 182.5,649.2 183.0,648.5 183.5,647.8 184.5,646.6 185.5,645.5 186.5,645.0 186.7,645.0 187.5,645.0 188.5,645.0 189.5,645.0 190.5,645.0 191.5,645.0 192.5,645.0 193.5,645.0 194.5,645.0 195.5,645.0 196.5,645.0 197.5,645.0 198.5,645.0 199.5,645.0 200.5,645.0 201.5,645.0 202.5,645.0 203.5,645.0 204.5,645.0 205.5,645.0 206.5,645.0 207.5,645.0 208.5,645.0 208.6,645.0 209.5,645.0 210.5,645.0 211.5,645.0 212.5,645.1 213.5,645.1 214.5,645.2 215.5,645.3 216.5,645.3 217.5,645.4 218.5,645.5 219.5,645.6 220.5,645.8 221.5,645.9 222.5,646.0 223.5,646.1 224.5,646.3 225.5,646.4 226.5,646.6 227.5,646.8 228.5,646.9 229.5,647.1 230.5,647.3 231.5,647.4 232.5,647.6 233.5,647.8 234.5,648.0 235.5,648.2 236.5,648.4 237.5,648.6 238.5,648.8 239.5,649.0 240.5,649.2 241.5,649.4 242.5,649.6 243.5,649.8 244.5,650.0 245.5,650.2 246.5,650.3 247.5,650.5 248.5,650.7 249.5,650.9 250.5,651.1 251.5,651.3 252.5,651.5 253.5,651.6 254.5,651.8 255.5,652.0 256.5,652.1 257.1,652.2 257.5,652.3 258.5,652.4 259.5,652.6 260.5,652.7 261.5,652.9 262.5,653.0 263.5,653.2 264.5,653.3 265.5,653.5 266.5,653.6 267.5,653.8 268.5,653.9 269.5,654.1 270.5,654.2 271.5,654.4 272.5,654.5 273.5,654.7 274.5,654.8 275.5,655.0 276.5,655.1 277.5,655.3 278.5,655.4 279.5,655.6 280.5,655.7 281.5,655.9 282.5,656.0 283.5,656.2 284.5,656.3 285.5,656.5 286.5,656.6 287.5,656.8 288.5,656.9 289.5,657.1 290.5,657.2 291.5,657.4 292.5,657.5 293.5,657.7 294.5,657.8 295.5,658.0 296.5,658.1 297.5,658.3 298.5,658.4 299.5,658.6 300.5,658.8 301.5,658.9 302.5,659.1 303.5,659.2 304.5,659.4 305.5,659.5 306.5,659.7 307.5,659.8 308.5,660.0 309.5,660.1 310.0,660.2" fill="none" stroke="#0000f5" stroke-width="3.6" stroke-linejoin="round"/></g>
<rect x="42.5" y="557.3" width="267.5" height="199.7" fill="none" stroke="#7d7d7d" stroke-width="1.3"/>
<text x="89.70" y="775.20" font-size="16.5" text-anchor="middle" fill="#262626">20</text>
<text x="144.60" y="775.20" font-size="16.5" text-anchor="middle" fill="#262626">40</text>
<text x="199.50" y="775.20" font-size="16.5" text-anchor="middle" fill="#262626">60</text>
<text x="254.40" y="775.20" font-size="16.5" text-anchor="middle" fill="#262626">80</text>
<text x="309.30" y="775.20" font-size="16.5" text-anchor="middle" fill="#262626">100</text>
<text x="37.00" y="762.80" font-size="16.5" text-anchor="end" fill="#262626">35</text>
<text x="37.00" y="733.90" font-size="16.5" text-anchor="end" fill="#262626">40</text>
<text x="37.00" y="705.00" font-size="16.5" text-anchor="end" fill="#262626">45</text>
<text x="37.00" y="676.10" font-size="16.5" text-anchor="end" fill="#262626">50</text>
<text x="37.00" y="647.10" font-size="16.5" text-anchor="end" fill="#262626">55</text>
<text x="37.00" y="618.20" font-size="16.5" text-anchor="end" fill="#262626">60</text>
<text x="37.00" y="589.20" font-size="16.5" text-anchor="end" fill="#262626">65</text>
<path d="M89.7,757.0v-3.2M89.7,557.3v3.2M144.6,757.0v-3.2M144.6,557.3v3.2M199.5,757.0v-3.2M199.5,557.3v3.2M254.4,757.0v-3.2M254.4,557.3v3.2M309.3,757.0v-3.2M309.3,557.3v3.2M42.5,757.0h3.2M310.0,757.0h-3.2M42.5,728.1h3.2M310.0,728.1h-3.2M42.5,699.2h3.2M310.0,699.2h-3.2M42.5,670.3h3.2M310.0,670.3h-3.2M42.5,641.3h3.2M310.0,641.3h-3.2M42.5,612.4h3.2M310.0,612.4h-3.2M42.5,583.4h3.2M310.0,583.4h-3.2" stroke="#7d7d7d" stroke-width="1.1" fill="none"/>
<text x="176.25" y="791.50" font-size="16.5" text-anchor="middle" fill="#000">frequency (Hz)</text>
<text x="0" y="0" font-size="16.3" text-anchor="middle" fill="#000" transform="translate(12.7,657.1) rotate(-90)">log power</text>
<clipPath id="clipI2"><rect x="377.6" y="557.5" width="266.7" height="199.7"/></clipPath>
<g clip-path="url(#clipI2)"><path d="M377.0,588.2 378.0,593.7 379.0,598.8 380.0,603.3 381.0,607.3 382.0,611.0 383.0,614.4 384.0,617.3 385.0,619.3 385.1,619.4 386.0,620.3 387.0,621.1 388.0,621.7 389.0,622.3 390.0,623.0 391.0,623.7 392.0,624.4 393.0,625.1 394.0,625.7 395.0,626.4 396.0,627.1 397.0,627.9 398.0,628.8 399.0,629.8 400.0,631.0 400.1,631.1 401.0,632.6 402.0,634.9 403.0,637.5 404.0,639.9 405.0,641.9 405.1,642.1 406.0,643.5 407.0,644.9 408.0,646.2 409.0,647.3 410.0,648.4 411.0,649.3 412.0,650.1 412.1,650.2 413.0,650.8 414.0,651.3 415.0,651.8 416.0,652.2 417.0,652.6 418.0,653.1 419.0,653.5 420.0,654.1 420.2,654.2 421.0,654.7 422.0,655.5 423.0,656.3 424.0,657.1 425.0,658.0 426.0,658.9 427.0,659.8 428.0,660.6 429.0,661.4 430.0,662.1 430.2,662.2 431.0,662.7 432.0,663.3 433.0,663.8 434.0,664.3 435.0,664.9 436.0,665.3 437.0,665.8 438.0,666.3 439.0,666.7 440.0,667.1 440.3,667.2 441.0,667.5 442.0,667.8 443.0,668.1 444.0,668.5 445.0,668.8 446.0,669.1 447.0,669.4 448.0,669.7 449.0,670.0 450.0,670.3 451.0,670.7 452.0,671.0 453.0,671.4 454.0,671.9 455.0,672.3 456.0,672.7 457.0,673.0 458.0,673.4 459.0,673.7 460.0,674.0 461.0,674.2 462.0,674.5 463.0,674.7 464.0,674.9 465.0,675.0 466.0,675.2 467.0,675.3 468.0,675.5 469.0,675.6 470.0,675.7 471.0,675.8 472.0,675.9 473.0,676.0 474.0,676.2 475.0,676.3 476.0,676.4 477.0,676.5 478.0,676.6 479.0,676.8 480.0,676.9 481.0,677.1 482.0,677.3 483.0,677.5 484.0,677.7 485.0,677.9 486.0,678.1 487.0,678.4 488.0,678.7 489.0,679.1 489.7,679.3 490.0,679.4 491.0,680.0 492.0,680.9 493.0,682.1 494.0,683.3 495.0,684.7 496.0,686.3 497.0,688.4 498.0,690.8 498.5,692.0 499.0,693.3 500.0,696.0 501.0,699.1 502.0,702.8 502.3,704.1 503.0,707.9 504.0,714.8 504.8,720.4 505.0,722.0 505.5,725.0 506.0,722.2 506.2,720.8 507.0,715.9 508.0,710.0 509.0,704.2 510.0,698.8 511.0,695.0 512.0,692.9 513.0,691.2 514.0,690.0 514.4,689.5 515.0,688.8 516.0,687.7 517.0,686.5 518.0,685.5 519.0,684.6 520.0,684.0 521.0,683.6 521.7,683.5 522.0,683.5 523.0,683.5 524.0,683.5 525.0,683.5 526.0,683.6 527.0,683.6 528.0,683.6 529.0,683.7 530.0,683.7 531.0,683.8 532.0,683.9 533.0,683.9 534.0,684.0 535.0,684.1 536.0,684.1 537.0,684.2 538.0,684.3 539.0,684.4 540.0,684.4 541.0,684.5 542.0,684.6 543.0,684.7 543.6,684.7 544.0,684.7 545.0,684.8 546.0,684.9 547.0,685.0 548.0,685.1 549.0,685.2 550.0,685.3 551.0,685.4 552.0,685.5 553.0,685.6 554.0,685.7 555.0,685.8 556.0,686.0 557.0,686.1 558.0,686.2 559.0,686.3 560.0,686.5 561.0,686.6 562.0,686.7 563.0,686.9 564.0,687.0 565.0,687.2 566.0,687.3 567.0,687.5 568.0,687.6 569.0,687.7 570.0,687.9 571.0,688.0 572.0,688.2 573.0,688.3 574.0,688.5 575.0,688.6 576.0,688.8 577.0,688.9 578.0,689.0 579.0,689.2 580.0,689.3 581.0,689.5 582.0,689.6 583.0,689.7 584.0,689.9 585.0,690.0 586.0,690.1 587.0,690.2 588.0,690.4 589.0,690.5 590.0,690.6 591.0,690.7 592.0,690.8 592.1,690.8 593.0,690.9 594.0,691.0 595.0,691.1 596.0,691.2 597.0,691.3 598.0,691.4 599.0,691.5 600.0,691.6 601.0,691.7 602.0,691.8 603.0,691.9 604.0,692.0 605.0,692.1 606.0,692.2 607.0,692.2 608.0,692.3 609.0,692.4 610.0,692.5 611.0,692.6 612.0,692.7 613.0,692.8 614.0,692.9 615.0,693.0 616.0,693.1 617.0,693.1 618.0,693.2 619.0,693.3 620.0,693.4 621.0,693.5 622.0,693.6 623.0,693.7 624.0,693.7 625.0,693.8 626.0,693.9 627.0,694.0 628.0,694.1 629.0,694.1 630.0,694.2 631.0,694.3 632.0,694.4 633.0,694.4 634.0,694.5 635.0,694.6 636.0,694.6 637.0,694.7 638.0,694.8 639.0,694.9 640.0,694.9 641.0,695.0 642.0,695.1 643.0,695.1 644.0,695.2 644.3,695.2 644.3,732.5 644.0,732.5 643.0,732.4 642.0,732.3 641.0,732.2 640.0,732.1 639.0,732.0 638.0,732.0 637.0,731.9 636.0,731.8 635.0,731.7 634.0,731.6 633.0,731.5 632.0,731.4 631.0,731.3 630.0,731.3 629.0,731.2 628.0,731.1 627.0,731.0 626.0,730.9 625.0,730.8 624.0,730.7 623.0,730.6 622.0,730.5 621.0,730.4 620.0,730.3 619.0,730.3 618.0,730.2 617.0,730.1 616.0,730.0 615.0,729.9 614.0,729.8 613.0,729.7 612.0,729.6 611.0,729.5 610.0,729.4 609.0,729.3 608.0,729.2 607.0,729.1 606.0,729.0 605.0,728.9 604.0,728.8 603.0,728.7 602.0,728.6 601.0,728.5 600.0,728.5 599.0,728.4 598.0,728.3 597.0,728.2 596.0,728.1 595.0,728.0 594.0,727.9 593.0,727.8 592.0,727.7 591.0,727.6 590.0,727.5 589.0,727.4 588.0,727.3 587.0,727.2 586.0,727.1 585.0,727.0 584.0,726.9 583.0,726.8 582.0,726.7 581.0,726.6 580.0,726.5 579.0,726.4 578.0,726.3 577.0,726.2 576.0,726.0 575.0,725.9 574.0,725.8 573.0,725.7 572.0,725.6 571.0,725.5 570.0,725.4 569.0,725.3 568.0,725.2 567.8,725.2 567.0,725.1 566.0,725.0 565.0,724.9 564.0,724.8 563.0,724.6 562.0,724.5 561.0,724.4 560.0,724.2 559.0,724.1 558.0,724.0 557.0,723.8 556.0,723.7 555.0,723.5 554.0,723.4 553.0,723.2 552.0,723.1 551.0,722.9 550.0,722.8 549.0,722.6 548.0,722.5 547.0,722.3 546.0,722.2 545.0,722.0 544.0,721.9 543.0,721.8 542.0,721.6 541.0,721.5 540.0,721.4 539.0,721.2 538.0,721.1 537.0,721.0 536.0,720.9 535.0,720.8 534.0,720.7 533.0,720.6 532.0,720.5 531.0,720.4 530.0,720.3 529.0,720.2 528.0,720.2 527.0,720.1 526.0,720.1 525.0,720.1 524.0,720.0 523.0,720.0 522.0,720.0 521.7,720.0 521.0,720.1 520.0,720.4 519.0,721.0 518.0,721.8 517.0,722.8 516.0,723.9 515.0,725.2 514.4,726.0 514.0,726.7 513.0,729.1 512.0,732.4 511.0,736.1 510.0,740.0 509.0,744.2 508.0,749.0 507.0,753.8 506.3,757.0 506.0,756.3 505.6,754.5 505.0,752.3 504.0,748.7 503.0,745.2 502.0,741.6 501.0,738.0 500.0,734.2 499.0,730.1 498.0,726.2 497.0,722.8 496.1,720.7 496.0,720.5 495.0,718.9 494.0,717.4 493.0,716.2 492.0,715.2 491.0,714.3 490.0,713.5 489.7,713.3 489.0,712.8 488.0,712.2 487.0,711.7 486.0,711.1 485.0,710.6 484.0,710.1 483.0,709.7 482.0,709.3 481.0,708.8 480.0,708.5 479.0,708.1 478.0,707.7 477.0,707.4 476.0,707.1 475.0,706.8 474.0,706.5 473.0,706.1 472.0,705.8 471.0,705.5 470.0,705.2 469.0,704.9 468.0,704.6 467.0,704.3 466.0,704.0 465.0,703.6 464.0,703.2 463.0,702.9 462.0,702.5 461.0,702.0 460.0,701.6 459.0,701.1 458.0,700.7 457.0,700.2 456.0,699.7 455.0,699.1 454.0,698.6 453.0,698.1 452.0,697.5 451.0,697.0 450.0,696.4 449.0,695.8 448.0,695.2 447.0,694.6 446.0,694.0 445.0,693.4 444.0,692.7 443.0,692.1 442.0,691.5 441.0,690.8 440.3,690.4 440.0,690.2 439.0,689.6 438.0,689.0 437.0,688.5 436.0,687.9 435.0,687.3 434.0,686.7 433.0,686.1 432.0,685.5 431.0,684.8 430.2,684.3 430.0,684.2 429.0,683.4 428.0,682.6 427.0,681.8 426.0,681.0 425.0,680.1 424.0,679.3 423.0,678.4 422.0,677.6 421.0,676.9 420.2,676.3 420.0,676.2 419.0,675.5 418.0,674.9 417.0,674.3 416.0,673.7 415.0,673.2 414.0,672.6 413.0,671.9 412.1,671.3 412.0,671.2 411.0,670.5 410.0,669.7 409.0,669.0 408.0,668.1 407.0,667.2 406.0,666.2 405.1,665.2 405.0,665.1 404.0,663.7 403.0,662.1 402.0,660.2 401.0,658.3 400.0,656.5 399.0,654.7 398.0,653.2 397.0,651.9 396.0,650.8 395.0,649.8 394.0,648.8 393.0,647.8 392.0,646.7 391.0,645.5 390.0,644.1 389.0,642.5 388.0,640.7 387.0,638.6 386.0,636.2 385.1,633.5 385.0,633.2 384.0,628.2 383.1,623.4 383.0,623.0 382.0,619.1 381.0,615.5 380.0,611.3 379.0,606.1 378.0,600.0 377.0,593.2Z" fill="#f9a1a1" stroke="#000" stroke-width="0.6" stroke-opacity="0.85"/><path d="M376.5,589.2 377.5,593.5 378.5,598.0 379.0,600.3 379.5,602.7 380.5,607.7 381.5,612.3 382.5,616.5 383.5,620.5 384.5,623.8 385.1,625.4 385.5,626.3 386.5,628.3 387.5,630.0 388.5,631.4 389.5,632.6 390.0,633.1 390.5,633.5 391.5,634.3 392.5,634.8 393.5,635.3 394.5,635.9 395.5,636.6 396.0,637.1 396.5,637.7 397.5,639.1 398.5,640.9 399.5,642.9 400.5,645.0 401.5,647.0 402.1,648.1 402.5,648.8 403.5,650.7 404.5,652.6 405.5,654.5 406.5,656.2 407.5,657.6 408.1,658.2 408.5,658.6 409.5,659.4 410.5,660.0 411.5,660.6 412.5,661.2 413.5,661.7 414.5,662.2 415.5,662.8 416.1,663.2 416.5,663.5 417.5,664.2 418.5,664.9 419.5,665.6 420.5,666.3 421.5,667.0 422.5,667.7 423.2,668.2 423.5,668.4 424.5,669.1 425.5,669.8 426.5,670.5 427.5,671.2 428.5,671.9 429.5,672.6 430.5,673.3 431.5,673.9 432.2,674.3 432.5,674.5 433.5,675.0 434.5,675.5 435.5,676.0 436.5,676.5 437.5,677.0 438.5,677.5 439.5,677.9 440.5,678.4 441.5,678.9 442.3,679.3 442.5,679.4 443.5,679.9 444.5,680.4 445.5,680.9 446.5,681.5 447.5,682.0 448.5,682.5 449.5,683.0 450.0,683.3 450.5,683.6 451.5,684.2 452.5,684.8 453.5,685.4 454.5,686.0 455.5,686.6 456.5,687.2 457.5,687.7 458.5,688.2 459.5,688.7 460.0,688.9 460.5,689.1 461.5,689.4 462.5,689.8 463.5,690.1 464.5,690.4 465.5,690.7 466.5,690.9 467.5,691.2 468.5,691.4 469.5,691.7 470.5,691.9 471.5,692.2 472.5,692.4 473.5,692.7 474.5,693.0 474.9,693.1 475.5,693.3 476.5,693.6 477.5,693.8 478.5,694.1 479.5,694.4 480.5,694.6 481.5,694.9 482.5,695.2 483.5,695.5 484.5,695.8 485.5,696.1 486.5,696.4 487.5,696.7 488.5,697.0 489.5,697.3 489.7,697.4 490.5,697.7 491.5,697.9 492.5,698.3 493.5,698.6 494.5,699.2 495.0,699.5 495.5,700.1 496.5,702.2 497.5,705.0 498.5,708.0 499.5,710.9 500.5,714.1 501.5,717.7 502.3,721.1 502.5,722.1 503.5,727.8 504.5,735.0 505.5,744.4 505.6,745.4 506.3,752.0 506.5,751.2 507.0,746.6 507.5,742.7 508.5,735.0 509.5,727.5 510.5,720.7 511.0,718.0 511.5,715.8 512.5,711.7 513.5,708.4 514.4,706.5 514.5,706.3 515.5,705.0 516.5,704.0 517.5,703.3 518.0,703.0 518.5,702.7 519.5,702.3 520.5,701.9 521.5,701.7 521.7,701.7 522.5,701.7 523.5,701.7 524.5,701.7 525.5,701.8 526.5,701.8 527.5,701.8 528.5,701.9 529.5,701.9 530.5,702.0 531.5,702.0 532.5,702.1 533.5,702.2 534.5,702.2 535.5,702.3 536.5,702.4 537.5,702.4 538.5,702.5 539.5,702.6 540.5,702.7 541.5,702.7 542.5,702.8 543.5,702.9 543.6,702.9 544.5,703.0 545.5,703.0 546.5,703.1 547.5,703.2 548.5,703.3 549.5,703.4 550.5,703.5 551.5,703.6 552.5,703.7 553.5,703.8 554.5,704.0 555.5,704.1 556.5,704.2 557.5,704.3 558.5,704.4 559.5,704.6 560.5,704.7 561.5,704.8 562.5,705.0 563.5,705.1 564.5,705.3 565.5,705.4 566.5,705.5 567.5,705.7 568.5,705.8 569.5,706.0 570.5,706.1 571.5,706.3 572.5,706.4 573.5,706.5 574.5,706.7 575.5,706.8 576.5,707.0 577.5,707.1 578.5,707.3 579.5,707.4 580.5,707.5 581.5,707.7 582.5,707.8 583.5,707.9 584.5,708.1 585.5,708.2 586.5,708.3 587.5,708.5 588.5,708.6 589.5,708.7 590.5,708.8 591.5,708.9 592.1,709.0 592.5,709.0 593.5,709.2 594.5,709.3 595.5,709.4 596.5,709.5 597.5,709.6 598.5,709.7 599.5,709.8 600.5,709.9 601.5,710.0 602.5,710.1 603.5,710.2 604.5,710.3 605.5,710.4 606.5,710.5 607.5,710.6 608.5,710.7 609.5,710.8 610.5,710.9 611.5,711.0 612.5,711.1 613.5,711.2 614.5,711.3 615.5,711.4 616.5,711.5 617.5,711.6 618.5,711.7 619.5,711.8 620.5,711.9 621.5,712.0 622.5,712.1 623.5,712.2 624.5,712.3 625.5,712.4 626.5,712.5 627.5,712.6 628.5,712.6 629.5,712.7 630.5,712.8 631.5,712.9 632.5,713.0 633.5,713.1 634.5,713.2 635.5,713.3 636.5,713.4 637.5,713.4 638.5,713.5 639.5,713.6 640.5,713.7 641.5,713.8 642.5,713.9 643.5,713.9 644.3,714.0" fill="none" stroke="#f00" stroke-width="3.6" stroke-linejoin="round"/><path d="M377.0,561.0 378.0,567.4 379.0,573.3 380.0,578.6 381.0,583.3 382.0,587.4 383.0,590.9 383.1,591.2 384.0,593.8 385.0,596.3 386.0,598.2 386.1,598.3 387.0,599.4 388.0,600.3 389.0,601.1 390.0,601.7 390.1,601.8 391.0,602.3 392.0,602.7 393.0,603.0 394.0,603.4 395.0,603.8 396.0,604.2 396.1,604.3 397.0,604.9 398.0,605.6 399.0,606.5 400.0,607.5 401.0,608.5 402.0,609.4 403.0,610.3 404.0,611.2 404.2,611.3 405.0,611.9 406.0,612.6 407.0,613.3 408.0,614.0 409.0,614.6 410.0,615.2 411.0,615.8 412.0,616.4 413.0,616.9 414.0,617.3 414.2,617.4 415.0,617.7 416.0,618.1 417.0,618.5 418.0,618.9 419.0,619.3 420.0,619.6 421.0,619.9 422.0,620.1 423.0,620.3 424.0,620.4 425.0,620.5 426.0,620.6 427.0,620.6 428.0,620.7 429.0,620.7 430.0,620.8 431.0,620.8 432.0,620.9 433.0,620.9 434.0,620.9 434.5,620.9 435.0,620.9 436.0,620.9 437.0,620.9 438.0,620.8 439.0,620.8 440.0,620.8 441.0,620.7 442.0,620.7 443.0,620.6 444.0,620.6 445.0,620.5 446.0,620.4 447.0,620.4 448.0,620.3 449.0,620.2 450.0,620.2 451.0,620.1 452.0,620.1 453.0,620.0 454.0,620.0 455.0,619.9 456.0,619.9 457.0,619.8 458.0,619.8 459.0,619.8 460.0,619.8 461.0,619.8 462.0,619.8 463.0,619.8 464.0,619.8 465.0,619.8 466.0,619.8 467.0,619.8 468.0,619.8 469.0,619.8 470.0,619.8 471.0,619.9 472.0,619.9 473.0,619.9 474.0,619.9 475.0,619.9 476.0,619.9 477.0,620.0 478.0,620.0 479.0,620.0 480.0,620.0 481.0,620.1 482.0,620.1 483.0,620.1 484.0,620.2 485.0,620.2 486.0,620.2 487.0,620.3 488.0,620.3 489.0,620.4 489.7,620.4 490.0,620.4 491.0,620.7 492.0,621.2 493.0,622.0 494.0,622.9 495.0,624.0 496.0,625.9 497.0,628.9 498.0,632.0 499.0,634.7 500.0,637.4 501.0,640.5 502.0,644.4 502.3,645.8 503.0,650.5 504.0,660.3 505.0,671.9 506.0,683.0 506.7,690.0 507.0,687.9 507.4,682.6 508.0,675.9 509.0,664.4 510.0,655.0 511.0,647.8 512.0,641.3 513.0,636.0 514.0,632.2 514.4,631.3 515.0,630.2 516.0,628.8 517.0,627.8 518.0,627.0 519.0,626.3 520.0,625.7 521.0,625.3 521.7,625.2 522.0,625.2 523.0,625.2 524.0,625.2 525.0,625.3 526.0,625.4 527.0,625.4 528.0,625.5 529.0,625.6 530.0,625.7 531.0,625.8 532.0,626.0 533.0,626.1 534.0,626.2 535.0,626.4 536.0,626.5 537.0,626.7 538.0,626.8 539.0,627.0 540.0,627.1 541.0,627.2 542.0,627.4 543.0,627.5 543.6,627.6 544.0,627.7 545.0,627.8 546.0,627.9 547.0,628.1 548.0,628.2 549.0,628.4 550.0,628.5 551.0,628.7 552.0,628.8 553.0,629.0 554.0,629.1 555.0,629.3 556.0,629.5 557.0,629.6 558.0,629.8 559.0,630.0 560.0,630.2 561.0,630.3 562.0,630.5 563.0,630.7 564.0,630.9 565.0,631.0 566.0,631.2 567.0,631.4 568.0,631.6 569.0,631.8 570.0,632.0 571.0,632.2 572.0,632.4 573.0,632.5 574.0,632.7 575.0,632.9 576.0,633.1 577.0,633.3 578.0,633.5 579.0,633.7 580.0,633.9 581.0,634.1 582.0,634.2 583.0,634.4 584.0,634.6 585.0,634.8 586.0,635.0 587.0,635.2 588.0,635.4 589.0,635.5 590.0,635.7 591.0,635.9 592.0,636.1 592.1,636.1 593.0,636.3 594.0,636.4 595.0,636.6 596.0,636.8 597.0,637.0 598.0,637.1 599.0,637.3 600.0,637.5 601.0,637.7 602.0,637.9 603.0,638.0 604.0,638.2 605.0,638.4 606.0,638.6 607.0,638.7 608.0,638.9 609.0,639.1 610.0,639.3 611.0,639.4 612.0,639.6 613.0,639.8 614.0,640.0 615.0,640.2 616.0,640.3 617.0,640.5 618.0,640.7 619.0,640.9 620.0,641.1 621.0,641.2 622.0,641.4 623.0,641.6 624.0,641.8 625.0,641.9 626.0,642.1 627.0,642.3 628.0,642.5 629.0,642.7 630.0,642.8 631.0,643.0 632.0,643.2 633.0,643.4 634.0,643.6 635.0,643.7 636.0,643.9 637.0,644.1 638.0,644.3 639.0,644.4 640.0,644.6 641.0,644.8 642.0,645.0 643.0,645.2 644.0,645.3 644.3,645.4 644.3,676.2 644.0,676.1 643.0,676.0 642.0,675.8 641.0,675.6 640.0,675.4 639.0,675.2 638.0,675.0 637.0,674.8 636.0,674.7 635.0,674.5 634.0,674.3 633.0,674.1 632.0,673.9 631.0,673.8 630.0,673.6 629.0,673.4 628.0,673.2 627.0,673.1 626.0,672.9 625.0,672.7 624.0,672.5 623.0,672.4 622.0,672.2 621.0,672.0 620.0,671.9 619.0,671.7 618.0,671.5 617.0,671.4 616.0,671.2 615.0,671.0 614.0,670.9 613.0,670.7 612.0,670.6 611.0,670.4 610.0,670.2 609.0,670.1 608.0,669.9 607.0,669.8 606.0,669.6 605.0,669.5 604.0,669.3 603.0,669.2 602.0,669.0 601.0,668.9 600.0,668.8 599.0,668.6 598.0,668.5 597.0,668.3 596.0,668.2 595.0,668.1 594.0,667.9 593.0,667.8 592.1,667.7 592.0,667.7 591.0,667.6 590.0,667.4 589.0,667.3 588.0,667.2 587.0,667.0 586.0,666.9 585.0,666.8 584.0,666.6 583.0,666.5 582.0,666.3 581.0,666.2 580.0,666.1 579.0,665.9 578.0,665.8 577.0,665.6 576.0,665.5 575.0,665.4 574.0,665.2 573.0,665.1 572.0,664.9 571.0,664.8 570.0,664.7 569.0,664.5 568.0,664.4 567.0,664.2 566.0,664.1 565.0,664.0 564.0,663.8 563.0,663.7 562.0,663.6 561.0,663.4 560.0,663.3 559.0,663.2 558.0,663.1 557.0,662.9 556.0,662.8 555.0,662.7 554.0,662.6 553.0,662.5 552.0,662.3 551.0,662.2 550.0,662.1 549.0,662.0 548.0,661.9 547.0,661.8 546.0,661.7 545.0,661.6 544.0,661.5 543.0,661.4 542.0,661.3 541.0,661.3 540.0,661.2 539.0,661.1 538.0,661.0 537.0,661.0 536.0,660.9 535.0,660.8 534.0,660.8 533.0,660.7 532.0,660.7 531.0,660.6 530.0,660.6 529.0,660.5 528.0,660.5 527.0,660.5 526.0,660.4 525.0,660.4 524.0,660.4 523.0,660.4 522.0,660.4 521.7,660.4 521.0,660.5 520.0,661.0 519.0,662.0 518.0,663.3 517.0,664.8 516.0,666.7 515.0,668.8 514.4,670.1 514.0,671.2 513.0,675.9 512.0,682.1 511.0,688.8 510.0,695.0 509.0,700.5 508.0,705.9 507.2,710.2 507.0,711.5 506.5,714.0 506.0,711.1 505.8,709.5 505.0,704.3 504.0,697.6 503.0,691.2 502.3,687.1 502.0,685.4 501.0,679.4 500.0,673.5 499.0,668.4 498.0,664.6 497.5,663.5 497.0,662.7 496.0,661.1 495.0,659.8 494.0,658.6 493.0,657.6 492.0,656.9 491.0,656.3 490.0,656.0 489.7,655.9 489.0,655.8 488.0,655.6 487.0,655.5 486.0,655.3 485.0,655.2 484.0,655.1 483.0,655.0 482.0,654.9 481.0,654.8 480.0,654.7 479.0,654.7 478.0,654.6 477.0,654.5 476.0,654.5 475.0,654.4 474.0,654.4 473.0,654.3 472.0,654.3 471.0,654.2 470.0,654.2 469.0,654.1 468.0,654.1 467.0,654.0 466.0,654.0 465.0,653.9 464.0,653.8 463.0,653.8 462.0,653.7 461.0,653.6 460.0,653.5 459.0,653.4 458.0,653.3 457.0,653.1 456.0,653.0 455.0,652.9 454.0,652.7 453.0,652.6 452.0,652.4 451.0,652.3 450.0,652.2 449.0,652.1 448.0,652.0 447.0,651.9 446.0,651.8 445.0,651.7 444.0,651.6 443.0,651.5 442.0,651.4 441.0,651.3 440.3,651.2 440.0,651.2 439.0,651.0 438.0,650.8 437.0,650.6 436.0,650.4 435.0,650.2 434.0,650.0 433.0,649.7 432.0,649.5 431.0,649.3 430.2,649.1 430.0,649.1 429.0,648.8 428.0,648.6 427.0,648.4 426.0,648.2 425.0,647.9 424.0,647.7 423.0,647.4 422.0,647.1 421.0,646.8 420.2,646.6 420.0,646.5 419.0,646.2 418.0,645.9 417.0,645.5 416.0,645.1 415.0,644.7 414.0,644.3 413.0,643.8 412.0,643.2 411.0,642.7 410.1,642.1 410.0,642.0 409.0,641.3 408.0,640.3 407.0,639.2 406.0,638.1 405.0,636.8 404.0,635.4 403.0,634.0 402.0,632.7 401.0,631.3 400.0,630.0 399.0,628.7 398.0,627.4 397.0,626.1 396.0,624.7 395.0,623.3 394.0,622.0 393.0,620.6 392.1,619.4 392.0,619.3 391.0,618.0 390.0,616.9 389.0,615.7 388.0,614.4 387.0,612.9 386.1,611.3 386.0,611.1 385.0,608.6 384.0,605.3 383.0,601.4 382.0,597.3 381.0,592.8 380.0,587.7 379.0,581.9 378.0,575.1 377.0,566.0Z" fill="#a3cbf7" stroke="#000" stroke-width="0.6" stroke-opacity="0.85"/><path d="M376.5,563.6 377.5,569.6 378.5,575.3 379.0,578.1 379.5,580.9 380.5,586.6 381.5,591.2 382.5,594.6 383.5,597.5 384.5,600.0 385.1,601.3 385.5,602.2 386.5,604.2 387.5,606.0 388.5,607.5 389.1,608.3 389.5,608.8 390.5,609.8 391.5,610.7 392.5,611.6 393.5,612.3 394.5,613.1 395.5,613.9 396.1,614.4 396.5,614.7 397.5,615.6 398.5,616.5 399.5,617.4 400.5,618.3 401.5,619.1 402.5,620.0 403.5,620.8 404.2,621.4 404.5,621.6 405.5,622.4 406.5,623.3 407.5,624.1 408.5,624.8 409.5,625.6 410.5,626.3 411.5,627.0 412.2,627.4 412.5,627.6 413.5,628.2 414.5,628.7 415.5,629.3 416.5,629.8 417.5,630.3 418.5,630.7 419.5,631.2 420.3,631.5 420.5,631.6 421.5,632.0 422.5,632.4 423.5,632.8 424.5,633.2 425.5,633.5 426.5,633.9 427.5,634.2 428.5,634.5 429.5,634.8 430.5,635.0 431.5,635.2 432.4,635.3 432.5,635.3 433.5,635.4 434.5,635.5 435.5,635.6 436.5,635.7 437.5,635.8 438.5,635.8 439.5,635.9 440.5,635.9 441.5,636.0 442.5,636.1 443.5,636.1 444.5,636.2 445.5,636.2 446.5,636.3 447.5,636.3 448.5,636.4 449.4,636.4 449.5,636.4 450.5,636.5 451.5,636.5 452.5,636.6 453.5,636.6 454.5,636.7 455.5,636.7 456.5,636.7 457.5,636.8 458.5,636.8 459.5,636.9 460.5,636.9 461.5,637.0 462.5,637.0 463.5,637.0 464.5,637.1 465.5,637.1 466.5,637.2 467.5,637.2 468.5,637.3 469.5,637.3 470.5,637.4 470.6,637.4 471.5,637.5 472.5,637.5 473.5,637.6 474.5,637.6 475.5,637.7 476.5,637.7 477.5,637.8 478.5,637.8 479.5,637.9 480.5,637.9 481.5,638.0 482.5,638.1 483.5,638.2 484.5,638.2 485.5,638.3 486.5,638.5 487.5,638.6 488.5,638.7 489.5,638.9 489.7,638.9 490.5,639.1 491.5,639.5 492.5,640.0 493.5,640.7 494.5,641.5 495.5,642.5 496.5,643.9 497.5,645.9 498.5,648.5 499.5,651.7 499.9,653.1 500.5,655.8 501.5,662.2 502.5,669.8 503.3,676.0 503.5,677.5 504.5,685.9 505.5,694.7 506.0,699.0 506.5,704.2 506.7,705.0 507.4,699.1 507.5,698.2 508.5,689.3 509.5,680.7 510.0,677.0 510.5,673.6 511.5,667.1 512.5,661.2 513.5,656.3 514.4,653.1 514.5,652.8 515.5,650.3 516.5,648.2 517.5,646.6 518.0,646.0 518.5,645.4 519.5,644.3 520.5,643.4 521.5,642.9 521.7,642.9 522.5,642.9 523.5,642.9 524.5,642.9 525.5,643.0 526.5,643.0 527.5,643.1 528.5,643.1 529.5,643.2 530.5,643.3 531.5,643.4 532.5,643.5 533.5,643.5 534.5,643.6 535.5,643.7 536.5,643.8 537.5,644.0 538.5,644.1 539.5,644.2 540.5,644.3 541.5,644.4 542.5,644.5 543.5,644.6 543.6,644.6 544.5,644.7 545.5,644.8 546.5,644.9 547.5,645.0 548.5,645.2 549.5,645.3 550.5,645.5 551.5,645.6 552.5,645.7 553.5,645.9 554.5,646.1 555.5,646.2 556.5,646.4 557.5,646.6 558.5,646.7 559.5,646.9 560.5,647.1 561.5,647.3 562.5,647.5 563.5,647.7 564.5,647.8 565.5,648.0 566.5,648.2 567.5,648.4 568.5,648.6 569.5,648.8 570.5,649.0 571.5,649.2 572.5,649.4 573.5,649.6 574.5,649.8 575.5,650.0 576.5,650.2 577.5,650.4 578.5,650.6 579.5,650.8 580.5,651.0 581.5,651.2 582.5,651.4 583.5,651.6 584.5,651.8 585.5,652.0 586.5,652.1 587.5,652.3 588.5,652.5 589.5,652.7 590.5,652.8 591.5,653.0 592.1,653.1 592.5,653.2 593.5,653.3 594.5,653.5 595.5,653.6 596.5,653.8 597.5,654.0 598.5,654.1 599.5,654.3 600.5,654.4 601.5,654.6 602.5,654.8 603.5,654.9 604.5,655.1 605.5,655.2 606.5,655.4 607.5,655.5 608.5,655.7 609.5,655.8 610.5,656.0 611.5,656.2 612.5,656.3 613.5,656.5 614.5,656.6 615.5,656.8 616.5,656.9 617.5,657.1 618.5,657.2 619.5,657.4 620.5,657.5 621.5,657.7 622.5,657.8 623.5,658.0 624.5,658.1 625.5,658.2 626.5,658.4 627.5,658.5 628.5,658.7 629.5,658.8 630.5,659.0 631.5,659.1 632.5,659.3 633.5,659.4 634.5,659.5 635.5,659.7 636.5,659.8 637.5,660.0 638.5,660.1 639.5,660.2 640.5,660.4 641.5,660.5 642.5,660.7 643.5,660.8 644.3,660.9" fill="none" stroke="#0000f5" stroke-width="3.6" stroke-linejoin="round"/></g>
<rect x="377.6" y="557.5" width="266.7" height="199.7" fill="none" stroke="#7d7d7d" stroke-width="1.3"/>
<text x="424.90" y="775.40" font-size="16.5" text-anchor="middle" fill="#262626">20</text>
<text x="479.60" y="775.40" font-size="16.5" text-anchor="middle" fill="#262626">40</text>
<text x="534.30" y="775.40" font-size="16.5" text-anchor="middle" fill="#262626">60</text>
<text x="589.00" y="775.40" font-size="16.5" text-anchor="middle" fill="#262626">80</text>
<text x="643.70" y="775.40" font-size="16.5" text-anchor="middle" fill="#262626">100</text>
<text x="372.10" y="738.70" font-size="16.5" text-anchor="end" fill="#262626">40</text>
<text x="372.10" y="703.40" font-size="16.5" text-anchor="end" fill="#262626">45</text>
<text x="372.10" y="668.20" font-size="16.5" text-anchor="end" fill="#262626">50</text>
<text x="372.10" y="632.90" font-size="16.5" text-anchor="end" fill="#262626">55</text>
<text x="372.10" y="597.70" font-size="16.5" text-anchor="end" fill="#262626">60</text>
<path d="M424.9,757.2v-3.2M424.9,557.5v3.2M479.6,757.2v-3.2M479.6,557.5v3.2M534.3,757.2v-3.2M534.3,557.5v3.2M589.0,757.2v-3.2M589.0,557.5v3.2M643.7,757.2v-3.2M643.7,557.5v3.2M377.6,732.9h3.2M644.3,732.9h-3.2M377.6,697.6h3.2M644.3,697.6h-3.2M377.6,662.4h3.2M644.3,662.4h-3.2M377.6,627.1h3.2M644.3,627.1h-3.2M377.6,591.9h3.2M644.3,591.9h-3.2" stroke="#7d7d7d" stroke-width="1.1" fill="none"/>
<text x="510.95" y="791.70" font-size="16.5" text-anchor="middle" fill="#000">frequency (Hz)</text>
<text x="0" y="0" font-size="16.3" text-anchor="middle" fill="#000" transform="translate(347.8,657.4) rotate(-90)">log power</text>
<text x="160.30" y="312.30" font-size="24" textLength="26.09" lengthAdjust="spacingAndGlyphs" fill="#000">Cz</text>
<text x="486.50" y="312.50" font-size="24" textLength="22.61" lengthAdjust="spacingAndGlyphs" fill="#000">Pz</text>
<text x="160.90" y="581.80" font-size="23" textLength="17.17" lengthAdjust="spacingAndGlyphs" fill="#000">I1</text>
<text x="504.50" y="583.60" font-size="23" textLength="17.17" lengthAdjust="spacingAndGlyphs" fill="#000">I2</text>
<rect x="565.5" y="295.2" width="71.7" height="32.1" fill="#fff" stroke="#7d7d7d" stroke-width="1.1"/>
<path d="M569.3,303.7H596.9" stroke="#0000f5" stroke-width="3.6"/>
<path d="M569.3,318.2H596.9" stroke="#f00" stroke-width="3.6"/>
<text x="599.65" y="307.80" font-size="14.3" textLength="27.27" lengthAdjust="spacingAndGlyphs" fill="#000">walk</text>
<text x="598.70" y="322.30" font-size="14.3" textLength="35.78" lengthAdjust="spacingAndGlyphs" fill="#000">stand</text>
</svg>
</body></html>
